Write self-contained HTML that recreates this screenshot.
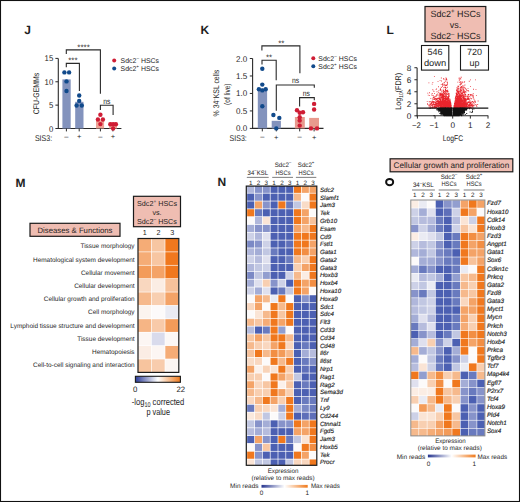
<!DOCTYPE html>
<html><head><meta charset="utf-8"><style>
html,body{margin:0;padding:0;background:#fff;}
svg{display:block;}
text{font-family:"Liberation Sans",sans-serif;text-rendering:geometricPrecision;fill:#1e1e1e;}
text.l{stroke:#1e1e1e;stroke-width:0.15px;}
</style></head><body>
<svg width="520" height="502" viewBox="0 0 520 502">
<rect x="0" y="0" width="520" height="502" fill="#fff"/>
<text x="24.2" y="33.9" font-size="12" font-weight="bold" fill="#111">J</text>
<line x1="58.3" y1="58.4" x2="58.3" y2="129" stroke="#2a2a2a" stroke-width="1.1"/>
<line x1="57.8" y1="128.5" x2="121.4" y2="128.5" stroke="#2a2a2a" stroke-width="1.1"/>
<line x1="55.4" y1="58.4" x2="58.3" y2="58.4" stroke="#2a2a2a" stroke-width="1"/>
<text x="53.2" y="61.4" font-size="8.4" text-anchor="end" textLength="8.6" lengthAdjust="spacingAndGlyphs">15</text>
<line x1="55.4" y1="81.77" x2="58.3" y2="81.77" stroke="#2a2a2a" stroke-width="1"/>
<text x="53.2" y="84.77" font-size="8.4" text-anchor="end" textLength="8.6" lengthAdjust="spacingAndGlyphs">10</text>
<line x1="55.4" y1="105.13" x2="58.3" y2="105.13" stroke="#2a2a2a" stroke-width="1"/>
<text x="53.2" y="108.13" font-size="8.4" text-anchor="end" textLength="4.3" lengthAdjust="spacingAndGlyphs">5</text>
<line x1="55.4" y1="128.5" x2="58.3" y2="128.5" stroke="#2a2a2a" stroke-width="1"/>
<text x="53.2" y="131.5" font-size="8.4" text-anchor="end" textLength="4.3" lengthAdjust="spacingAndGlyphs">0</text>
<rect x="62.4" y="79.4" width="8.3" height="49.1" fill="#8393bd"/>
<rect x="75.2" y="101.8" width="8.3" height="26.7" fill="#8393bd"/>
<rect x="96" y="120.3" width="8.1" height="8.2" fill="#eea395"/>
<rect x="109.2" y="122.5" width="7.8" height="6" fill="#eea395"/>
<line x1="66.4" y1="128.5" x2="66.4" y2="131.4" stroke="#2a2a2a" stroke-width="1"/>
<line x1="79.2" y1="128.5" x2="79.2" y2="131.4" stroke="#2a2a2a" stroke-width="1"/>
<line x1="100.4" y1="128.5" x2="100.4" y2="131.4" stroke="#2a2a2a" stroke-width="1"/>
<line x1="112.9" y1="128.5" x2="112.9" y2="131.4" stroke="#2a2a2a" stroke-width="1"/>
<circle cx="64.4" cy="72.4" r="2.2" fill="#114a8b"/>
<circle cx="69.1" cy="72.4" r="2.2" fill="#114a8b"/>
<circle cx="66.5" cy="81.4" r="2.2" fill="#114a8b"/>
<circle cx="66.5" cy="91" r="2.2" fill="#114a8b"/>
<circle cx="79.2" cy="95.5" r="2.2" fill="#114a8b"/>
<circle cx="79.2" cy="100.9" r="2.2" fill="#114a8b"/>
<circle cx="76.6" cy="105.5" r="2.2" fill="#114a8b"/>
<circle cx="81.8" cy="105.5" r="2.2" fill="#114a8b"/>
<circle cx="100.4" cy="114.7" r="2.2" fill="#cf1d35"/>
<circle cx="97.9" cy="119.5" r="2.2" fill="#cf1d35"/>
<circle cx="102.9" cy="119.5" r="2.2" fill="#cf1d35"/>
<circle cx="100.4" cy="124.1" r="2.2" fill="#cf1d35"/>
<circle cx="110.3" cy="124.3" r="2.2" fill="#cf1d35"/>
<circle cx="113.1" cy="124.3" r="2.2" fill="#cf1d35"/>
<circle cx="115.9" cy="124.3" r="2.2" fill="#cf1d35"/>
<circle cx="113.1" cy="128.5" r="2.2" fill="#cf1d35"/>
<polyline points="66.3,54.1 66.3,49.9 100.4,49.9 100.4,93.7" fill="none" stroke="#2a2a2a" stroke-width="1.1"/>
<polyline points="66.3,67.3 66.3,63.4 79.4,63.4 79.4,91" fill="none" stroke="#2a2a2a" stroke-width="1.1"/>
<polyline points="100.4,109.9 100.4,105.2 113.1,105.2 113.1,114.9" fill="none" stroke="#2a2a2a" stroke-width="1.1"/>
<text x="83.6" y="50.1" font-size="8" text-anchor="middle" fill="#222">****</text>
<text x="72.9" y="63.4" font-size="8" text-anchor="middle" fill="#222">***</text>
<text x="106.8" y="104" font-size="8" text-anchor="middle" textLength="7.2" lengthAdjust="spacingAndGlyphs">ns</text>
<text x="66.4" y="138.9" font-size="7.5" text-anchor="middle" fill="#555">–</text>
<text x="79.2" y="139.3" font-size="7.5" text-anchor="middle" fill="#555">+</text>
<text x="100.4" y="138.9" font-size="7.5" text-anchor="middle" fill="#555">–</text>
<text x="112.9" y="139.3" font-size="7.5" text-anchor="middle" fill="#555">+</text>
<text x="34.9" y="141.2" font-size="8.4" textLength="17.3" lengthAdjust="spacingAndGlyphs">SIS3:</text>
<text x="38.6" y="93.5" font-size="8.2" text-anchor="middle" textLength="41.5" lengthAdjust="spacingAndGlyphs" transform="rotate(-90 38.6 93.5)">CFU-GEMMs</text>
<circle cx="114.2" cy="60.5" r="2" fill="#cf1d35"/>
<circle cx="114.2" cy="68.6" r="2" fill="#114a8b"/>
<text x="120.6" y="62.7" font-size="6.8" textLength="38.4" lengthAdjust="spacingAndGlyphs">Sdc2<tspan font-size="4.5" dy="-2.6">–</tspan><tspan dy="2.6"> HSCs</tspan></text>
<text x="120.6" y="70.8" font-size="6.8" textLength="38.4" lengthAdjust="spacingAndGlyphs">Sdc2<tspan font-size="4.5" dy="-2.6">+</tspan><tspan dy="2.6"> HSCs</tspan></text>
<text x="200.5" y="33.8" font-size="12" font-weight="bold" fill="#111">K</text>
<line x1="252.6" y1="58.5" x2="252.6" y2="128.9" stroke="#2a2a2a" stroke-width="1.1"/>
<line x1="252.1" y1="128.4" x2="323.5" y2="128.4" stroke="#2a2a2a" stroke-width="1.1"/>
<line x1="249.8" y1="58.5" x2="252.6" y2="58.5" stroke="#2a2a2a" stroke-width="1"/>
<text x="247.2" y="61.5" font-size="8.4" text-anchor="end" textLength="11.2" lengthAdjust="spacingAndGlyphs">2.0</text>
<line x1="249.8" y1="75.97" x2="252.6" y2="75.97" stroke="#2a2a2a" stroke-width="1"/>
<text x="247.2" y="78.97" font-size="8.4" text-anchor="end" textLength="11.2" lengthAdjust="spacingAndGlyphs">1.5</text>
<line x1="249.8" y1="93.45" x2="252.6" y2="93.45" stroke="#2a2a2a" stroke-width="1"/>
<text x="247.2" y="96.45" font-size="8.4" text-anchor="end" textLength="11.2" lengthAdjust="spacingAndGlyphs">1.0</text>
<line x1="249.8" y1="110.93" x2="252.6" y2="110.93" stroke="#2a2a2a" stroke-width="1"/>
<text x="247.2" y="113.93" font-size="8.4" text-anchor="end" textLength="11.2" lengthAdjust="spacingAndGlyphs">0.5</text>
<line x1="249.8" y1="128.4" x2="252.6" y2="128.4" stroke="#2a2a2a" stroke-width="1"/>
<text x="247.2" y="131.4" font-size="8.4" text-anchor="end" textLength="11.2" lengthAdjust="spacingAndGlyphs">0.0</text>
<rect x="257.8" y="88.5" width="9.3" height="39.9" fill="#8393bd"/>
<rect x="271.7" y="120.8" width="9.2" height="7.6" fill="#8393bd"/>
<rect x="294.9" y="117" width="9.9" height="11.4" fill="#e89a8e"/>
<rect x="309.2" y="117.9" width="9.8" height="10.5" fill="#e89a8e"/>
<line x1="262.3" y1="128.4" x2="262.3" y2="131.4" stroke="#2a2a2a" stroke-width="1"/>
<line x1="276.3" y1="128.4" x2="276.3" y2="131.4" stroke="#2a2a2a" stroke-width="1"/>
<line x1="299.7" y1="128.4" x2="299.7" y2="131.4" stroke="#2a2a2a" stroke-width="1"/>
<line x1="314.1" y1="128.4" x2="314.1" y2="131.4" stroke="#2a2a2a" stroke-width="1"/>
<circle cx="262.3" cy="68.8" r="2.2" fill="#114a8b"/>
<circle cx="262.3" cy="84.6" r="2.2" fill="#114a8b"/>
<circle cx="258.9" cy="89.2" r="2.2" fill="#114a8b"/>
<circle cx="262.3" cy="90.4" r="2.2" fill="#114a8b"/>
<circle cx="265.7" cy="89.2" r="2.2" fill="#114a8b"/>
<circle cx="262.3" cy="106.2" r="2.2" fill="#114a8b"/>
<circle cx="273.4" cy="115" r="2.2" fill="#114a8b"/>
<circle cx="279.3" cy="117.9" r="2.2" fill="#114a8b"/>
<circle cx="276.3" cy="128.4" r="2.2" fill="#114a8b"/>
<circle cx="297" cy="110.3" r="2.2" fill="#cf1d35"/>
<circle cx="299.7" cy="112.7" r="2.2" fill="#cf1d35"/>
<circle cx="303" cy="112.2" r="2.2" fill="#cf1d35"/>
<circle cx="299.7" cy="117.3" r="2.2" fill="#cf1d35"/>
<circle cx="299.7" cy="120.6" r="2.2" fill="#cf1d35"/>
<circle cx="299.7" cy="125.6" r="2.2" fill="#cf1d35"/>
<circle cx="314.1" cy="103.9" r="2.2" fill="#cf1d35"/>
<circle cx="314.1" cy="109.5" r="2.2" fill="#cf1d35"/>
<circle cx="311" cy="128.4" r="2.2" fill="#cf1d35"/>
<circle cx="317" cy="128.4" r="2.2" fill="#cf1d35"/>
<polyline points="261.9,50.4 261.9,45.9 299.9,45.9 299.9,73.3" fill="none" stroke="#2a2a2a" stroke-width="1.1"/>
<polyline points="262,64.4 262,60.3 276.2,60.3 276.2,80.2" fill="none" stroke="#2a2a2a" stroke-width="1.1"/>
<polyline points="276.3,110.7 276.3,85 314.3,85 314.3,87.8" fill="none" stroke="#2a2a2a" stroke-width="1.1"/>
<polyline points="299.6,106.5 299.6,97.6 314.3,97.6 314.3,100.2" fill="none" stroke="#2a2a2a" stroke-width="1.1"/>
<text x="281.3" y="46.2" font-size="8" text-anchor="middle" fill="#222">**</text>
<text x="269" y="60.3" font-size="8" text-anchor="middle" fill="#222">**</text>
<text x="295.6" y="82.6" font-size="8" text-anchor="middle" textLength="7.2" lengthAdjust="spacingAndGlyphs">ns</text>
<text x="306.3" y="95.5" font-size="8" text-anchor="middle" textLength="7.2" lengthAdjust="spacingAndGlyphs">ns</text>
<text x="262.3" y="139.1" font-size="7.5" text-anchor="middle" fill="#555">–</text>
<text x="276.3" y="139.5" font-size="7.5" text-anchor="middle" fill="#555">+</text>
<text x="299.7" y="139.1" font-size="7.5" text-anchor="middle" fill="#555">–</text>
<text x="314.1" y="139.5" font-size="7.5" text-anchor="middle" fill="#555">+</text>
<text x="229.6" y="141.2" font-size="8.4" textLength="17.2" lengthAdjust="spacingAndGlyphs">SIS3:</text>
<text x="219.4" y="93.1" font-size="8.2" text-anchor="middle" textLength="46.6" lengthAdjust="spacingAndGlyphs" transform="rotate(-90 219.4 93.1)">% 34<tspan font-size="5" dy="-3">–</tspan><tspan dy="3">KSL cells</tspan></text>
<text x="229.8" y="94.2" font-size="8.2" text-anchor="middle" textLength="21.5" lengthAdjust="spacingAndGlyphs" transform="rotate(-90 229.8 94.2)">(of live)</text>
<circle cx="313.3" cy="58.3" r="2" fill="#cf1d35"/>
<circle cx="313.3" cy="66.3" r="2" fill="#114a8b"/>
<text x="318.3" y="60.6" font-size="6.8" textLength="38.6" lengthAdjust="spacingAndGlyphs">Sdc2<tspan font-size="4.5" dy="-2.6">–</tspan><tspan dy="2.6"> HSCs</tspan></text>
<text x="318.3" y="68.5" font-size="6.8" textLength="38.6" lengthAdjust="spacingAndGlyphs">Sdc2<tspan font-size="4.5" dy="-2.6">+</tspan><tspan dy="2.6"> HSCs</tspan></text>
<text x="386.6" y="33.6" font-size="12" font-weight="bold" fill="#111">L</text>
<rect x="425" y="6.5" width="60.8" height="35.2" fill="#efbdb2" stroke="#1a1a1a" stroke-width="1.2"/>
<text x="455.5" y="16.7" font-size="9" text-anchor="middle">Sdc2<tspan font-size="6" dy="-3.5">+</tspan><tspan dy="3.5"> HSCs</tspan></text>
<text x="455.5" y="27.9" font-size="9" text-anchor="middle">vs.</text>
<text x="455.5" y="39" font-size="9" text-anchor="middle">Sdc2<tspan font-size="6" dy="-3.5">–</tspan><tspan dy="3.5"> HSCs</tspan></text>
<rect x="421.5" y="45.5" width="27.3" height="24.6" fill="#fff" stroke="#1a1a1a" stroke-width="1.1"/>
<rect x="460.5" y="45.5" width="28" height="24.6" fill="#fff" stroke="#1a1a1a" stroke-width="1.1"/>
<text x="435.1" y="55" font-size="9" text-anchor="middle">546</text>
<text x="435.1" y="66.1" font-size="9" text-anchor="middle" textLength="22.3" lengthAdjust="spacingAndGlyphs">down</text>
<text x="474.5" y="55" font-size="9" text-anchor="middle">720</text>
<text x="474.5" y="66.1" font-size="9" text-anchor="middle">up</text>
<line x1="417.1" y1="67.7" x2="417.1" y2="116.3" stroke="#2a2a2a" stroke-width="1.1"/>
<line x1="416.6" y1="115.8" x2="488.3" y2="115.8" stroke="#2a2a2a" stroke-width="1.1"/>
<line x1="414.4" y1="115.8" x2="417.1" y2="115.8" stroke="#2a2a2a" stroke-width="1"/>
<text x="411.4" y="118.7" font-size="8.2" text-anchor="end">0</text>
<line x1="414.4" y1="103.78" x2="417.1" y2="103.78" stroke="#2a2a2a" stroke-width="1"/>
<text x="411.4" y="106.68" font-size="8.2" text-anchor="end">2</text>
<line x1="414.4" y1="91.76" x2="417.1" y2="91.76" stroke="#2a2a2a" stroke-width="1"/>
<text x="411.4" y="94.66" font-size="8.2" text-anchor="end">4</text>
<line x1="414.4" y1="79.74" x2="417.1" y2="79.74" stroke="#2a2a2a" stroke-width="1"/>
<text x="411.4" y="82.64" font-size="8.2" text-anchor="end">6</text>
<line x1="414.4" y1="67.72" x2="417.1" y2="67.72" stroke="#2a2a2a" stroke-width="1"/>
<text x="411.4" y="70.62" font-size="8.2" text-anchor="end">8</text>
<line x1="417.4" y1="115.8" x2="417.4" y2="118.6" stroke="#2a2a2a" stroke-width="1"/>
<text x="416.4" y="128.2" font-size="8.2" text-anchor="middle" textLength="8.9" lengthAdjust="spacingAndGlyphs">−2</text>
<line x1="435.05" y1="115.8" x2="435.05" y2="118.6" stroke="#2a2a2a" stroke-width="1"/>
<text x="434.05" y="128.2" font-size="8.2" text-anchor="middle" textLength="8.9" lengthAdjust="spacingAndGlyphs">−1</text>
<line x1="452.7" y1="115.8" x2="452.7" y2="118.6" stroke="#2a2a2a" stroke-width="1"/>
<text x="452.7" y="128.2" font-size="8.2" text-anchor="middle">0</text>
<line x1="470.35" y1="115.8" x2="470.35" y2="118.6" stroke="#2a2a2a" stroke-width="1"/>
<text x="470.35" y="128.2" font-size="8.2" text-anchor="middle">1</text>
<line x1="488" y1="115.8" x2="488" y2="118.6" stroke="#2a2a2a" stroke-width="1"/>
<text x="488" y="128.2" font-size="8.2" text-anchor="middle">2</text>
<text x="452.9" y="141" font-size="8.2" text-anchor="middle" textLength="20.4" lengthAdjust="spacingAndGlyphs">LogFC</text>
<text x="400.6" y="91.3" font-size="8.2" text-anchor="middle" textLength="37" lengthAdjust="spacingAndGlyphs" transform="rotate(-90 400.6 91.3)">Log<tspan font-size="5.5" dy="2">10</tspan><tspan dy="-2">(FDR)</tspan></text>
<path d="M440.59 101.62h.85v.85h-.85zM436.52 103.87h.85v.85h-.85zM433.36 96.63h.85v.85h-.85zM440.61 97.09h.85v.85h-.85zM444.25 84.44h.85v.85h-.85zM442.24 102.49h.85v.85h-.85zM434.45 106.58h.85v.85h-.85zM448.02 106.74h.85v.85h-.85zM446.95 105.92h.85v.85h-.85zM440.03 102.58h.85v.85h-.85zM447.79 103.96h.85v.85h-.85zM440.38 101.6h.85v.85h-.85zM438.23 104.55h.85v.85h-.85zM445.28 98.23h.85v.85h-.85zM449.96 105.42h.85v.85h-.85zM440.29 104.17h.85v.85h-.85zM447.14 99.08h.85v.85h-.85zM442.02 97.23h.85v.85h-.85zM440.43 92.96h.85v.85h-.85zM442.82 89.42h.85v.85h-.85zM443.75 106.5h.85v.85h-.85zM447 98.29h.85v.85h-.85zM447.39 103.9h.85v.85h-.85zM443.91 96.19h.85v.85h-.85zM441.33 105.86h.85v.85h-.85zM446.25 105.49h.85v.85h-.85zM433.17 103.71h.85v.85h-.85zM439.84 107.2h.85v.85h-.85zM442.15 97.43h.85v.85h-.85zM446.78 101.26h.85v.85h-.85zM441.21 97.91h.85v.85h-.85zM440.35 99.16h.85v.85h-.85zM440.61 93.76h.85v.85h-.85zM432.85 103.26h.85v.85h-.85zM447.67 103.45h.85v.85h-.85zM449.04 100.86h.85v.85h-.85zM448.34 97.14h.85v.85h-.85zM442.4 83.04h.85v.85h-.85zM443.82 102.48h.85v.85h-.85zM443.1 101.24h.85v.85h-.85zM435.43 105.21h.85v.85h-.85zM447.15 100.5h.85v.85h-.85zM448.22 100.1h.85v.85h-.85zM448.63 97.99h.85v.85h-.85zM445.12 103.72h.85v.85h-.85zM440.06 106.31h.85v.85h-.85zM441.67 107.31h.85v.85h-.85zM448.86 95.41h.85v.85h-.85zM436.31 105.31h.85v.85h-.85zM436.56 91.29h.85v.85h-.85zM448.2 94.75h.85v.85h-.85zM450.91 105.54h.85v.85h-.85zM440.96 97.45h.85v.85h-.85zM446.63 90.37h.85v.85h-.85zM450.53 103.35h.85v.85h-.85zM442.17 103.41h.85v.85h-.85zM436.55 94.74h.85v.85h-.85zM444.82 106.29h.85v.85h-.85zM447.8 98.4h.85v.85h-.85zM449.09 100.81h.85v.85h-.85zM440.1 103.01h.85v.85h-.85zM436.14 107.37h.85v.85h-.85zM445.35 106.58h.85v.85h-.85zM432.92 101.33h.85v.85h-.85zM444.42 100.12h.85v.85h-.85zM441 102.18h.85v.85h-.85zM446.38 89.9h.85v.85h-.85zM442.02 97.33h.85v.85h-.85zM439.36 97.64h.85v.85h-.85zM443 97.39h.85v.85h-.85zM445.66 87.8h.85v.85h-.85zM440.33 99.66h.85v.85h-.85zM442.43 95.42h.85v.85h-.85zM436.48 95.06h.85v.85h-.85zM446.08 103.68h.85v.85h-.85zM443.82 102.68h.85v.85h-.85zM450.6 105.41h.85v.85h-.85zM445.78 96.72h.85v.85h-.85zM449.57 106.45h.85v.85h-.85zM446.56 91.25h.85v.85h-.85zM440.85 93.81h.85v.85h-.85zM445.41 102.14h.85v.85h-.85zM447.13 104.02h.85v.85h-.85zM446.9 101.5h.85v.85h-.85zM444.65 98.48h.85v.85h-.85zM448.14 99.66h.85v.85h-.85zM438.68 99.69h.85v.85h-.85zM443.72 102.72h.85v.85h-.85zM446.43 94.18h.85v.85h-.85zM447.04 100.38h.85v.85h-.85zM447.61 106.47h.85v.85h-.85zM448.13 106.38h.85v.85h-.85zM449.34 103.77h.85v.85h-.85zM442.75 102.58h.85v.85h-.85zM441.18 107.43h.85v.85h-.85zM439.07 103.41h.85v.85h-.85zM440.1 93.66h.85v.85h-.85zM432.17 98.53h.85v.85h-.85zM440.01 100.48h.85v.85h-.85zM445.04 107.35h.85v.85h-.85zM440.47 107.3h.85v.85h-.85zM445.25 89.57h.85v.85h-.85zM449.46 103.2h.85v.85h-.85zM441.19 104.61h.85v.85h-.85zM444.28 105.87h.85v.85h-.85zM434.69 98.29h.85v.85h-.85zM441.43 96.47h.85v.85h-.85zM443.3 107.33h.85v.85h-.85zM445.08 100.3h.85v.85h-.85zM446.66 98.33h.85v.85h-.85zM439.2 101h.85v.85h-.85zM449.49 100.19h.85v.85h-.85zM436.56 98.51h.85v.85h-.85zM429.18 95.02h.85v.85h-.85zM442.36 96.2h.85v.85h-.85zM440.43 99.91h.85v.85h-.85zM437.31 102.54h.85v.85h-.85zM444.65 100.75h.85v.85h-.85zM437.61 101.25h.85v.85h-.85zM441.66 106.2h.85v.85h-.85zM448.63 101.75h.85v.85h-.85zM443.01 104.72h.85v.85h-.85zM449.07 104.21h.85v.85h-.85zM444.69 106.92h.85v.85h-.85zM447.78 104.18h.85v.85h-.85zM444.03 105.37h.85v.85h-.85zM443.03 100.6h.85v.85h-.85zM433.29 90.73h.85v.85h-.85zM432.92 98.42h.85v.85h-.85zM440.9 101.81h.85v.85h-.85zM435.21 106.96h.85v.85h-.85zM440.78 104.49h.85v.85h-.85zM438.36 100.92h.85v.85h-.85zM448.62 105.8h.85v.85h-.85zM443.32 99.58h.85v.85h-.85zM439.64 98.02h.85v.85h-.85zM442.39 102.6h.85v.85h-.85zM447.22 99.63h.85v.85h-.85zM438.76 102.75h.85v.85h-.85zM447.53 104.32h.85v.85h-.85zM448.53 103.62h.85v.85h-.85zM440.51 106.8h.85v.85h-.85zM444.01 99.76h.85v.85h-.85zM440.2 105.08h.85v.85h-.85zM450.38 104.02h.85v.85h-.85zM432.45 103.94h.85v.85h-.85zM443.93 106.74h.85v.85h-.85zM438.19 101.2h.85v.85h-.85zM433.87 105.7h.85v.85h-.85zM443.93 102.42h.85v.85h-.85zM443.51 107.22h.85v.85h-.85zM442.01 98.98h.85v.85h-.85zM447.42 104.22h.85v.85h-.85zM447.95 105.71h.85v.85h-.85zM444.22 100.84h.85v.85h-.85zM443.36 103.47h.85v.85h-.85zM442.85 105.6h.85v.85h-.85zM443.69 99.99h.85v.85h-.85zM450.29 106.25h.85v.85h-.85zM446.62 80.64h.85v.85h-.85zM440.88 94.05h.85v.85h-.85zM441.47 102.16h.85v.85h-.85zM443.27 98.73h.85v.85h-.85zM431.01 106.96h.85v.85h-.85zM438.56 102.9h.85v.85h-.85zM445.43 91.25h.85v.85h-.85zM445.03 105.42h.85v.85h-.85zM438.36 104.25h.85v.85h-.85zM440.68 106.52h.85v.85h-.85zM445.87 102.26h.85v.85h-.85zM438.59 104.21h.85v.85h-.85zM450.4 105.49h.85v.85h-.85zM447.26 107.43h.85v.85h-.85zM439.94 88.36h.85v.85h-.85zM442.55 94.56h.85v.85h-.85zM445.02 97.17h.85v.85h-.85zM439.62 92.62h.85v.85h-.85zM442.3 101.99h.85v.85h-.85zM440.99 105.08h.85v.85h-.85zM448.9 102.36h.85v.85h-.85zM444 105.33h.85v.85h-.85zM446.75 97.47h.85v.85h-.85zM446.09 96.21h.85v.85h-.85zM445.89 107.1h.85v.85h-.85zM443.68 101.32h.85v.85h-.85zM446.29 104.74h.85v.85h-.85zM434.63 104.54h.85v.85h-.85zM447.09 99.5h.85v.85h-.85zM439.01 99.64h.85v.85h-.85zM433.84 105.35h.85v.85h-.85zM440.16 97.44h.85v.85h-.85zM449.06 101.36h.85v.85h-.85zM442.66 93.01h.85v.85h-.85zM442.44 101.54h.85v.85h-.85zM444.65 104.09h.85v.85h-.85zM448.57 106.69h.85v.85h-.85zM448.07 102.31h.85v.85h-.85zM447.42 99.72h.85v.85h-.85zM444.2 107.22h.85v.85h-.85zM446.48 98.17h.85v.85h-.85zM441.96 106.66h.85v.85h-.85zM439.73 102.95h.85v.85h-.85zM434.36 97.65h.85v.85h-.85zM438.54 101.32h.85v.85h-.85zM441.59 106.14h.85v.85h-.85zM434.56 106.4h.85v.85h-.85zM448.27 99.43h.85v.85h-.85zM441.19 86.9h.85v.85h-.85zM433.19 97h.85v.85h-.85zM439.44 100.93h.85v.85h-.85zM445.53 102.58h.85v.85h-.85zM434.06 101.65h.85v.85h-.85zM436.77 101.03h.85v.85h-.85zM440.54 107.49h.85v.85h-.85zM441.21 103.72h.85v.85h-.85zM443.58 102.08h.85v.85h-.85zM444.82 89.59h.85v.85h-.85zM435.45 107.24h.85v.85h-.85zM435.2 95.66h.85v.85h-.85zM439 103.65h.85v.85h-.85zM447.53 99.38h.85v.85h-.85zM447.62 107.11h.85v.85h-.85zM445.65 106.21h.85v.85h-.85zM444.7 103.24h.85v.85h-.85zM439.95 98.78h.85v.85h-.85zM442.72 94.03h.85v.85h-.85zM450.2 103.83h.85v.85h-.85zM436.93 105.69h.85v.85h-.85zM445.84 105.15h.85v.85h-.85zM445.83 103.04h.85v.85h-.85zM442.23 99.92h.85v.85h-.85zM439.97 104.11h.85v.85h-.85zM442.97 98.06h.85v.85h-.85zM441.38 101.61h.85v.85h-.85zM449.38 104.76h.85v.85h-.85zM449.86 103.79h.85v.85h-.85zM444.23 82.38h.85v.85h-.85zM431.14 103.18h.85v.85h-.85zM435.13 105.88h.85v.85h-.85zM426.79 100.92h.85v.85h-.85zM439.63 80.17h.85v.85h-.85zM446.26 106.64h.85v.85h-.85zM443.93 95.84h.85v.85h-.85zM447.29 101.13h.85v.85h-.85zM446.48 104.49h.85v.85h-.85zM441.24 95.87h.85v.85h-.85zM437.76 102.94h.85v.85h-.85zM434.04 104.08h.85v.85h-.85zM441.48 105.07h.85v.85h-.85zM444.41 105.22h.85v.85h-.85zM440.76 102.91h.85v.85h-.85zM444.58 106.87h.85v.85h-.85zM448.7 103.79h.85v.85h-.85zM438.3 98.24h.85v.85h-.85zM445.79 106.84h.85v.85h-.85zM445.64 96.67h.85v.85h-.85zM444.8 103.69h.85v.85h-.85zM437 104.75h.85v.85h-.85zM438.33 104.06h.85v.85h-.85zM444.91 99.4h.85v.85h-.85zM443.79 106.39h.85v.85h-.85zM444.93 104.73h.85v.85h-.85zM449.28 100.65h.85v.85h-.85zM440.06 88.85h.85v.85h-.85zM450.14 104.62h.85v.85h-.85zM447.3 96.14h.85v.85h-.85zM441.45 97.65h.85v.85h-.85zM445.92 100.88h.85v.85h-.85zM443.09 95.04h.85v.85h-.85zM440.34 104.04h.85v.85h-.85zM439.98 107.05h.85v.85h-.85zM449.84 103.55h.85v.85h-.85zM446.77 102.26h.85v.85h-.85zM435.74 99.5h.85v.85h-.85zM448.77 105.7h.85v.85h-.85zM440.37 96.84h.85v.85h-.85zM437.57 106.61h.85v.85h-.85zM443.7 92.56h.85v.85h-.85zM449.07 101.23h.85v.85h-.85zM445.55 98.67h.85v.85h-.85zM440.13 104.45h.85v.85h-.85zM447.81 103.71h.85v.85h-.85zM447.53 102.86h.85v.85h-.85zM445.12 96.08h.85v.85h-.85zM450.43 103.35h.85v.85h-.85zM445.76 98.8h.85v.85h-.85zM445.9 104.53h.85v.85h-.85zM445.38 99.21h.85v.85h-.85zM446.19 104.06h.85v.85h-.85zM440.54 103.91h.85v.85h-.85zM441.57 99.92h.85v.85h-.85zM450.27 105.39h.85v.85h-.85zM446.95 86.85h.85v.85h-.85zM449.01 104.92h.85v.85h-.85zM447.48 104.87h.85v.85h-.85zM442.15 85.92h.85v.85h-.85zM440.89 77.54h.85v.85h-.85zM449.55 98.79h.85v.85h-.85zM444.17 96.15h.85v.85h-.85zM437.95 103.09h.85v.85h-.85zM445.32 104.32h.85v.85h-.85zM445.15 100.71h.85v.85h-.85zM440.52 89.57h.85v.85h-.85zM442.65 84.95h.85v.85h-.85zM446.16 78.01h.85v.85h-.85zM435.35 100.37h.85v.85h-.85zM445.69 99.32h.85v.85h-.85zM441.57 101.41h.85v.85h-.85zM436.7 98.93h.85v.85h-.85zM431.96 106.26h.85v.85h-.85zM440.58 107.07h.85v.85h-.85zM432.31 104.43h.85v.85h-.85zM442 94.1h.85v.85h-.85zM448.39 105.29h.85v.85h-.85zM438.18 97.5h.85v.85h-.85zM449.43 100.06h.85v.85h-.85zM447.57 98.54h.85v.85h-.85zM449.42 104.68h.85v.85h-.85zM444.26 106.84h.85v.85h-.85zM438.6 106.13h.85v.85h-.85zM443.8 105.71h.85v.85h-.85zM450.82 105.21h.85v.85h-.85zM443.43 102.75h.85v.85h-.85zM445.7 89.9h.85v.85h-.85zM439.17 98.95h.85v.85h-.85zM448.99 105.91h.85v.85h-.85zM437.46 105.24h.85v.85h-.85zM446.55 105.26h.85v.85h-.85zM447.53 97.18h.85v.85h-.85zM446.12 103.68h.85v.85h-.85zM446.17 90.02h.85v.85h-.85zM446.24 99.07h.85v.85h-.85zM444.86 102.92h.85v.85h-.85zM441.56 106.04h.85v.85h-.85zM436.14 95.75h.85v.85h-.85zM443.09 101.18h.85v.85h-.85zM446.42 98.13h.85v.85h-.85zM435.25 102.52h.85v.85h-.85zM442.23 105.72h.85v.85h-.85zM439.47 107.41h.85v.85h-.85zM448.63 106.69h.85v.85h-.85zM449.94 103.45h.85v.85h-.85zM435.11 98.23h.85v.85h-.85zM441.72 97.8h.85v.85h-.85zM448.41 104.56h.85v.85h-.85zM438.43 102.17h.85v.85h-.85zM441.51 96.95h.85v.85h-.85zM444.38 97.95h.85v.85h-.85zM448.83 103.01h.85v.85h-.85zM448 97.02h.85v.85h-.85zM446.67 102.82h.85v.85h-.85zM431.99 101.23h.85v.85h-.85zM436.31 103.57h.85v.85h-.85zM430.94 102.15h.85v.85h-.85zM440.68 102.32h.85v.85h-.85zM446.63 90.39h.85v.85h-.85zM432.48 95.27h.85v.85h-.85zM442.16 103.79h.85v.85h-.85zM431.78 83.75h.85v.85h-.85zM442.1 104.33h.85v.85h-.85zM429.09 101.44h.85v.85h-.85zM437.64 102.8h.85v.85h-.85zM442.84 106.04h.85v.85h-.85zM443.5 96.82h.85v.85h-.85zM439.09 94.28h.85v.85h-.85zM444.5 102.08h.85v.85h-.85zM450.23 105.41h.85v.85h-.85zM448.56 106.46h.85v.85h-.85zM440.88 103.17h.85v.85h-.85zM443.29 105.47h.85v.85h-.85zM442.49 84.57h.85v.85h-.85zM438.11 102.19h.85v.85h-.85zM444.23 103.37h.85v.85h-.85zM434.64 107.32h.85v.85h-.85zM430.45 103.96h.85v.85h-.85zM445.91 99.47h.85v.85h-.85zM444.08 95.88h.85v.85h-.85zM442.32 106.84h.85v.85h-.85zM448.66 105.54h.85v.85h-.85zM436.93 104.85h.85v.85h-.85zM449.75 107.08h.85v.85h-.85zM445.87 101.74h.85v.85h-.85zM445.78 104.81h.85v.85h-.85zM436.3 106.38h.85v.85h-.85zM447.07 89.73h.85v.85h-.85zM446.92 91.12h.85v.85h-.85zM449.96 105.74h.85v.85h-.85zM441.57 106.57h.85v.85h-.85zM443.35 95.82h.85v.85h-.85zM444.17 93.68h.85v.85h-.85zM446.76 102.53h.85v.85h-.85zM434.07 93.25h.85v.85h-.85zM445.4 95.6h.85v.85h-.85zM432.59 107.36h.85v.85h-.85zM447.18 82.76h.85v.85h-.85zM448.73 104.24h.85v.85h-.85zM442.64 102.12h.85v.85h-.85zM430.47 107.36h.85v.85h-.85zM441.83 103.25h.85v.85h-.85zM439.76 105.93h.85v.85h-.85zM438.06 105.88h.85v.85h-.85zM444.62 104.93h.85v.85h-.85zM433.95 76.16h.85v.85h-.85zM429.99 105.97h.85v.85h-.85zM440.12 100.17h.85v.85h-.85zM448.67 102.28h.85v.85h-.85zM441.45 107.63h.85v.85h-.85zM440.23 106.87h.85v.85h-.85zM443.86 100.84h.85v.85h-.85zM448.13 98.06h.85v.85h-.85zM447.49 93.49h.85v.85h-.85zM434.12 106.48h.85v.85h-.85zM444.45 101.81h.85v.85h-.85zM440.27 107.57h.85v.85h-.85zM448.96 104.16h.85v.85h-.85zM440.96 93.55h.85v.85h-.85zM446.56 105.85h.85v.85h-.85zM447.53 103.86h.85v.85h-.85zM446.41 85.09h.85v.85h-.85zM441.35 104.05h.85v.85h-.85zM435.58 104.28h.85v.85h-.85zM447.27 101.45h.85v.85h-.85zM439.74 101.82h.85v.85h-.85zM449.47 106.51h.85v.85h-.85zM436.88 105.6h.85v.85h-.85zM440.78 83.93h.85v.85h-.85zM450.51 107.15h.85v.85h-.85zM441.39 92.39h.85v.85h-.85zM445.92 98.03h.85v.85h-.85zM440.39 103.05h.85v.85h-.85zM434.14 99.14h.85v.85h-.85zM444.14 100.34h.85v.85h-.85zM437.15 106h.85v.85h-.85zM433.34 101.59h.85v.85h-.85zM443.74 100.22h.85v.85h-.85zM444.35 103.97h.85v.85h-.85zM447.28 97.86h.85v.85h-.85zM443.66 100.81h.85v.85h-.85zM442.99 90.01h.85v.85h-.85zM441.54 99.38h.85v.85h-.85zM435.34 105.52h.85v.85h-.85zM443.2 101.69h.85v.85h-.85zM447.7 106.11h.85v.85h-.85zM440.09 104.28h.85v.85h-.85zM444.19 101.88h.85v.85h-.85zM443.37 103.45h.85v.85h-.85zM445.72 104.37h.85v.85h-.85zM447.79 99.37h.85v.85h-.85zM447.17 103.72h.85v.85h-.85zM436.19 101.05h.85v.85h-.85zM440.94 104.65h.85v.85h-.85zM445.35 92.17h.85v.85h-.85zM447.66 106.44h.85v.85h-.85zM443.2 101.72h.85v.85h-.85zM445.72 94.67h.85v.85h-.85zM444.51 87.18h.85v.85h-.85zM442.41 96.46h.85v.85h-.85zM446.47 101.08h.85v.85h-.85zM434.11 98.4h.85v.85h-.85zM435.78 103.94h.85v.85h-.85zM444.27 104.89h.85v.85h-.85zM450.72 106.92h.85v.85h-.85zM439.86 100.55h.85v.85h-.85zM442.55 101.48h.85v.85h-.85zM443.23 78.02h.85v.85h-.85zM447.8 106.24h.85v.85h-.85zM439.8 104.67h.85v.85h-.85zM444.42 102.02h.85v.85h-.85zM442.91 101.68h.85v.85h-.85zM439.56 107.43h.85v.85h-.85zM450.87 107.29h.85v.85h-.85zM446.93 100.63h.85v.85h-.85zM442.11 106.76h.85v.85h-.85zM447.91 99.18h.85v.85h-.85zM443.05 105.07h.85v.85h-.85zM430.19 101.37h.85v.85h-.85zM440.69 102.45h.85v.85h-.85zM447.74 105.38h.85v.85h-.85zM448.7 105.59h.85v.85h-.85zM440.27 94.55h.85v.85h-.85zM446.31 102.12h.85v.85h-.85zM434.86 104.28h.85v.85h-.85zM438.03 103.52h.85v.85h-.85zM439.36 105.34h.85v.85h-.85zM439.65 89.85h.85v.85h-.85zM441.05 101.97h.85v.85h-.85zM447.68 101.78h.85v.85h-.85zM444.39 104.09h.85v.85h-.85zM443.67 101.9h.85v.85h-.85zM441.2 100.92h.85v.85h-.85zM445.76 101.18h.85v.85h-.85zM449.58 102.56h.85v.85h-.85zM443.09 96.42h.85v.85h-.85zM445.21 105.17h.85v.85h-.85zM447.93 105.36h.85v.85h-.85zM450.5 105.29h.85v.85h-.85zM435.58 102.12h.85v.85h-.85zM441.8 98.32h.85v.85h-.85zM441.13 107.01h.85v.85h-.85zM439.04 103.65h.85v.85h-.85zM444.97 99.23h.85v.85h-.85zM441.37 101.73h.85v.85h-.85zM439.74 99.43h.85v.85h-.85zM431.75 93.09h.85v.85h-.85zM431.73 104.16h.85v.85h-.85zM441.61 99.8h.85v.85h-.85zM440.95 101.05h.85v.85h-.85zM438.05 98.49h.85v.85h-.85zM434.14 96.73h.85v.85h-.85zM429.68 107.47h.85v.85h-.85zM439.98 107.21h.85v.85h-.85zM445.56 106.37h.85v.85h-.85zM447.08 101.97h.85v.85h-.85zM447.69 102.5h.85v.85h-.85zM447.22 106.55h.85v.85h-.85zM440.47 107.36h.85v.85h-.85zM441.53 105.45h.85v.85h-.85zM439.3 105.39h.85v.85h-.85zM447.69 107.16h.85v.85h-.85zM447.76 104.74h.85v.85h-.85zM434.26 107.52h.85v.85h-.85zM448.79 101.69h.85v.85h-.85zM443.85 92.78h.85v.85h-.85zM445.35 100.76h.85v.85h-.85zM443.67 95.2h.85v.85h-.85zM434.56 103.92h.85v.85h-.85zM431 102.55h.85v.85h-.85zM443.04 97.86h.85v.85h-.85zM439.38 101.93h.85v.85h-.85zM433.38 101h.85v.85h-.85zM447.17 97.91h.85v.85h-.85zM437.37 93.58h.85v.85h-.85zM433 95.42h.85v.85h-.85zM445.33 93.01h.85v.85h-.85zM437.7 105.27h.85v.85h-.85zM440.02 103.73h.85v.85h-.85zM447.38 97.3h.85v.85h-.85zM445.36 97.93h.85v.85h-.85zM450.1 104.32h.85v.85h-.85zM446.44 106.35h.85v.85h-.85zM438.57 103.24h.85v.85h-.85zM440.09 98.84h.85v.85h-.85zM440.42 104.04h.85v.85h-.85zM437.89 105.36h.85v.85h-.85zM431.83 100.54h.85v.85h-.85zM445.81 103.23h.85v.85h-.85zM439.12 93h.85v.85h-.85zM437.59 81.23h.85v.85h-.85zM443.55 90.83h.85v.85h-.85zM438.58 103.25h.85v.85h-.85zM445.03 101.12h.85v.85h-.85zM447.42 98.92h.85v.85h-.85zM449.65 104.48h.85v.85h-.85zM445.51 77.61h.85v.85h-.85zM436.89 103.75h.85v.85h-.85zM440.6 94.2h.85v.85h-.85zM439.58 101.43h.85v.85h-.85zM435.32 100.75h.85v.85h-.85zM432.83 102.37h.85v.85h-.85zM449.84 102.01h.85v.85h-.85zM449.01 102.32h.85v.85h-.85zM436.04 99.49h.85v.85h-.85zM437.14 103.69h.85v.85h-.85zM443.98 104.28h.85v.85h-.85zM435.68 98.62h.85v.85h-.85zM439.08 97.37h.85v.85h-.85zM448.97 101.34h.85v.85h-.85zM447.83 107.14h.85v.85h-.85zM434.75 97.64h.85v.85h-.85zM434.5 106.08h.85v.85h-.85zM442.77 106.09h.85v.85h-.85zM440.31 105.12h.85v.85h-.85zM442.89 91.46h.85v.85h-.85zM435.14 107.19h.85v.85h-.85zM449.36 103.65h.85v.85h-.85zM447.77 106.11h.85v.85h-.85zM437.45 100.07h.85v.85h-.85zM449.2 105.26h.85v.85h-.85zM440.62 104.96h.85v.85h-.85zM444.3 103.65h.85v.85h-.85zM441.09 103.63h.85v.85h-.85zM437.83 102.83h.85v.85h-.85zM447.71 91.19h.85v.85h-.85zM445.49 95.2h.85v.85h-.85zM444.22 104.28h.85v.85h-.85zM443.41 97.22h.85v.85h-.85zM447.52 102.95h.85v.85h-.85zM449.42 105.97h.85v.85h-.85zM447.82 100.02h.85v.85h-.85zM443.02 102.34h.85v.85h-.85zM438.71 101.43h.85v.85h-.85zM432.82 102.81h.85v.85h-.85zM442.64 99.01h.85v.85h-.85zM449.65 99.52h.85v.85h-.85zM445.43 104.04h.85v.85h-.85zM443.78 99.78h.85v.85h-.85zM441.99 95.07h.85v.85h-.85zM442.87 106.33h.85v.85h-.85zM441.18 104.17h.85v.85h-.85zM448.4 105.06h.85v.85h-.85zM443.21 103.29h.85v.85h-.85zM437.95 90.41h.85v.85h-.85zM441.59 106.48h.85v.85h-.85zM440.72 105.66h.85v.85h-.85zM432.99 101.8h.85v.85h-.85zM443.09 104.72h.85v.85h-.85zM440.81 102.77h.85v.85h-.85zM442.8 99.04h.85v.85h-.85zM447.55 105.01h.85v.85h-.85zM440.58 105.9h.85v.85h-.85zM445.37 102.67h.85v.85h-.85zM441.99 83.91h.85v.85h-.85zM446.21 100.61h.85v.85h-.85zM446.39 105.16h.85v.85h-.85zM444.94 104.41h.85v.85h-.85zM438.5 104.66h.85v.85h-.85zM445.86 95.25h.85v.85h-.85zM441.34 90.84h.85v.85h-.85zM447.26 99.62h.85v.85h-.85zM441.54 91h.85v.85h-.85zM444.02 98.37h.85v.85h-.85zM444.94 104.3h.85v.85h-.85zM443.17 106.78h.85v.85h-.85zM439.75 104.24h.85v.85h-.85zM444.84 80.94h.85v.85h-.85zM437.96 100.34h.85v.85h-.85zM441.92 93.02h.85v.85h-.85zM436.24 105.74h.85v.85h-.85zM442.44 107.38h.85v.85h-.85zM441.28 96.74h.85v.85h-.85zM446.65 102.85h.85v.85h-.85zM439.17 103.02h.85v.85h-.85zM442.17 97.99h.85v.85h-.85zM443.54 92.41h.85v.85h-.85zM443.58 102.78h.85v.85h-.85zM449.74 104.6h.85v.85h-.85zM443.44 90.99h.85v.85h-.85zM445.08 102.1h.85v.85h-.85zM443.43 96.66h.85v.85h-.85zM444.07 92.77h.85v.85h-.85zM449.95 101.45h.85v.85h-.85zM449.45 99.04h.85v.85h-.85zM440.8 94.97h.85v.85h-.85zM438.83 101.25h.85v.85h-.85zM446.83 104.06h.85v.85h-.85zM447.41 106.08h.85v.85h-.85zM447.71 104.49h.85v.85h-.85zM437.81 103.79h.85v.85h-.85zM441.71 103.65h.85v.85h-.85zM447.96 102.01h.85v.85h-.85zM447.87 100.57h.85v.85h-.85zM445.64 100.38h.85v.85h-.85zM434.81 106.09h.85v.85h-.85zM440.6 102.87h.85v.85h-.85zM441.89 104.75h.85v.85h-.85zM442.77 97.49h.85v.85h-.85zM445.34 87.05h.85v.85h-.85zM437.95 103.92h.85v.85h-.85zM427.05 103.97h.85v.85h-.85zM442.66 99.21h.85v.85h-.85zM440.17 95.53h.85v.85h-.85zM445.99 104.27h.85v.85h-.85zM439.98 99.33h.85v.85h-.85zM441.78 102.27h.85v.85h-.85zM447.65 100.7h.85v.85h-.85zM440.18 105.78h.85v.85h-.85zM446.49 99.14h.85v.85h-.85zM442.65 107.28h.85v.85h-.85zM434.67 105.92h.85v.85h-.85zM439.62 106.69h.85v.85h-.85zM448.9 105.02h.85v.85h-.85zM440.02 100.79h.85v.85h-.85zM440.74 101.41h.85v.85h-.85zM444.44 104.44h.85v.85h-.85zM448.31 99.25h.85v.85h-.85zM433.59 105.51h.85v.85h-.85zM443.55 100.28h.85v.85h-.85zM449.98 104.28h.85v.85h-.85zM443.6 94.92h.85v.85h-.85zM431.81 105.07h.85v.85h-.85zM444.62 103.66h.85v.85h-.85zM441.41 95.16h.85v.85h-.85zM445.62 107.31h.85v.85h-.85zM436.56 104.97h.85v.85h-.85zM438.03 102.88h.85v.85h-.85zM438.14 86.33h.85v.85h-.85zM447.51 106.95h.85v.85h-.85zM448.42 105.18h.85v.85h-.85zM444.21 104.91h.85v.85h-.85zM443.91 96.17h.85v.85h-.85zM435.86 104.27h.85v.85h-.85zM450.21 105.4h.85v.85h-.85zM446.61 100.81h.85v.85h-.85zM440.62 99.43h.85v.85h-.85zM448.36 103.51h.85v.85h-.85zM448.02 103.15h.85v.85h-.85zM446.42 84.32h.85v.85h-.85zM428.03 104.68h.85v.85h-.85zM432.76 101.86h.85v.85h-.85zM435.07 104.07h.85v.85h-.85zM443.35 101.08h.85v.85h-.85zM446.94 100.81h.85v.85h-.85zM444.23 104.36h.85v.85h-.85zM448.24 106.1h.85v.85h-.85zM443.33 103.98h.85v.85h-.85zM445.72 84.89h.85v.85h-.85zM443.52 99.89h.85v.85h-.85zM446.4 97.72h.85v.85h-.85zM445.06 97.73h.85v.85h-.85zM450.09 103.24h.85v.85h-.85zM441.18 80.59h.85v.85h-.85zM444.36 103.1h.85v.85h-.85zM443.56 105.74h.85v.85h-.85zM439.56 104.72h.85v.85h-.85zM446.03 104.74h.85v.85h-.85zM449.5 106.05h.85v.85h-.85zM446.74 92.35h.85v.85h-.85zM440.98 105.17h.85v.85h-.85zM447.74 104.88h.85v.85h-.85zM444.52 107.22h.85v.85h-.85zM442.57 100.28h.85v.85h-.85zM443.48 95.11h.85v.85h-.85zM434.51 96.27h.85v.85h-.85zM449.34 99.32h.85v.85h-.85zM445.32 97.19h.85v.85h-.85zM447.31 99.71h.85v.85h-.85zM443.93 100.57h.85v.85h-.85zM444.92 101.02h.85v.85h-.85zM448.07 93.44h.85v.85h-.85zM445.69 104.58h.85v.85h-.85zM447.31 106.43h.85v.85h-.85zM440.16 106.79h.85v.85h-.85zM442.03 96.19h.85v.85h-.85zM442.54 105.25h.85v.85h-.85zM432.14 106.57h.85v.85h-.85zM449.66 103.96h.85v.85h-.85zM449.98 100.74h.85v.85h-.85zM434.84 102.25h.85v.85h-.85zM443.22 107h.85v.85h-.85zM440.85 101.76h.85v.85h-.85zM443.84 99.59h.85v.85h-.85zM448.81 95.98h.85v.85h-.85zM438.52 98.38h.85v.85h-.85zM446.31 79.06h.85v.85h-.85zM445.25 106.35h.85v.85h-.85zM447.5 97.49h.85v.85h-.85zM442.87 92.57h.85v.85h-.85zM447.13 96.33h.85v.85h-.85zM433.62 106.87h.85v.85h-.85zM438.54 104.8h.85v.85h-.85zM445.53 97.57h.85v.85h-.85zM446.62 98.46h.85v.85h-.85zM444.93 100.64h.85v.85h-.85zM446.91 98.3h.85v.85h-.85zM448.23 100.83h.85v.85h-.85zM441.94 106.52h.85v.85h-.85zM446.06 104.48h.85v.85h-.85zM445.08 102.48h.85v.85h-.85zM429.49 105.71h.85v.85h-.85zM446.8 101.36h.85v.85h-.85zM445.18 93.98h.85v.85h-.85zM449.26 104.45h.85v.85h-.85zM449.13 101.36h.85v.85h-.85zM448.77 104.53h.85v.85h-.85zM447.52 104.48h.85v.85h-.85zM441.01 104.49h.85v.85h-.85zM445.14 100.03h.85v.85h-.85zM445.59 102.43h.85v.85h-.85zM437.44 98.26h.85v.85h-.85zM445.14 101.36h.85v.85h-.85zM442.93 96.06h.85v.85h-.85zM430.99 101.84h.85v.85h-.85zM442.59 89.71h.85v.85h-.85zM449.8 105.01h.85v.85h-.85zM436.09 106.47h.85v.85h-.85zM442.34 100.8h.85v.85h-.85zM445.57 105h.85v.85h-.85zM444.56 101.41h.85v.85h-.85zM450.61 104.79h.85v.85h-.85zM441.72 106.19h.85v.85h-.85zM438.37 104.39h.85v.85h-.85zM450.29 102.86h.85v.85h-.85zM443.26 99.3h.85v.85h-.85zM430.55 103.44h.85v.85h-.85zM436.41 101.27h.85v.85h-.85zM448.03 106.25h.85v.85h-.85zM444.23 101.92h.85v.85h-.85zM443.05 104.35h.85v.85h-.85zM443.46 101.92h.85v.85h-.85zM446.48 104.74h.85v.85h-.85zM449.72 104.49h.85v.85h-.85zM445.4 98.37h.85v.85h-.85zM429.66 104.3h.85v.85h-.85zM447.85 106.88h.85v.85h-.85zM445.71 101.71h.85v.85h-.85zM445.41 98.29h.85v.85h-.85zM444.98 105.34h.85v.85h-.85zM446.42 102.93h.85v.85h-.85zM439.66 104.31h.85v.85h-.85zM442.97 92.66h.85v.85h-.85zM446.05 104.22h.85v.85h-.85zM433.64 104.27h.85v.85h-.85zM449.83 102.3h.85v.85h-.85zM446.67 105.77h.85v.85h-.85zM437.61 105.36h.85v.85h-.85zM449.66 107.03h.85v.85h-.85zM432.95 98.92h.85v.85h-.85zM446.91 102.57h.85v.85h-.85zM439.47 103.75h.85v.85h-.85zM439.47 101.71h.85v.85h-.85zM442.58 100.33h.85v.85h-.85zM431.4 94.57h.85v.85h-.85zM435.91 102.96h.85v.85h-.85zM449.53 101.26h.85v.85h-.85zM445.02 104.17h.85v.85h-.85zM444.91 105.22h.85v.85h-.85zM441.57 107.33h.85v.85h-.85zM449.47 105.7h.85v.85h-.85zM442.95 100.32h.85v.85h-.85zM439.99 94.34h.85v.85h-.85zM445.43 99.63h.85v.85h-.85zM432.4 81.98h.85v.85h-.85zM447.9 97.56h.85v.85h-.85zM445.01 105.73h.85v.85h-.85zM440.57 105h.85v.85h-.85zM448.13 106.61h.85v.85h-.85zM448.31 95.54h.85v.85h-.85zM445.77 102.08h.85v.85h-.85zM440.21 104.3h.85v.85h-.85zM430.39 98.15h.85v.85h-.85zM440.3 99.68h.85v.85h-.85zM447.14 98.19h.85v.85h-.85zM434.35 103.61h.85v.85h-.85zM446.92 105.24h.85v.85h-.85zM450.26 101.97h.85v.85h-.85zM444.01 96.46h.85v.85h-.85zM442.51 97.82h.85v.85h-.85zM438.94 97.74h.85v.85h-.85zM445.11 105.78h.85v.85h-.85zM445.9 95.79h.85v.85h-.85zM441.52 103h.85v.85h-.85zM442.62 97.65h.85v.85h-.85zM446.42 99.3h.85v.85h-.85zM446.97 105.33h.85v.85h-.85zM447.36 96.48h.85v.85h-.85zM447.74 102.16h.85v.85h-.85zM444.37 107.17h.85v.85h-.85zM444.66 92.2h.85v.85h-.85zM444.22 106.56h.85v.85h-.85zM446.48 97.73h.85v.85h-.85zM446.8 82.07h.85v.85h-.85zM440.21 102.92h.85v.85h-.85zM434.32 101.59h.85v.85h-.85zM446.08 96.27h.85v.85h-.85zM446.97 104.58h.85v.85h-.85zM450.51 104.14h.85v.85h-.85zM444.45 92.81h.85v.85h-.85zM447.62 96.25h.85v.85h-.85zM440.29 104.65h.85v.85h-.85zM442.53 103.25h.85v.85h-.85zM428.61 106.59h.85v.85h-.85zM445 88.76h.85v.85h-.85zM441.35 106.17h.85v.85h-.85zM447.31 89.81h.85v.85h-.85zM444.07 107.66h.85v.85h-.85zM441.68 106.71h.85v.85h-.85zM439.2 101.75h.85v.85h-.85zM444.66 102.66h.85v.85h-.85zM437.76 106.7h.85v.85h-.85zM447.7 106.84h.85v.85h-.85zM443.21 98.13h.85v.85h-.85zM442.71 96.79h.85v.85h-.85zM432.14 102.36h.85v.85h-.85zM443.09 101.03h.85v.85h-.85zM447.06 103.16h.85v.85h-.85zM444.46 101.9h.85v.85h-.85zM449.09 103.43h.85v.85h-.85zM447.88 102.07h.85v.85h-.85zM445.1 97.41h.85v.85h-.85zM439.82 104.5h.85v.85h-.85zM445.38 90.2h.85v.85h-.85zM446.9 97.68h.85v.85h-.85zM442.16 100.84h.85v.85h-.85zM443.14 90.2h.85v.85h-.85zM445.37 105.13h.85v.85h-.85zM443.24 102.46h.85v.85h-.85zM440.17 104.44h.85v.85h-.85zM446.92 103.16h.85v.85h-.85zM436 98.13h.85v.85h-.85zM443.41 104.87h.85v.85h-.85zM439.67 103.7h.85v.85h-.85zM444.77 86.66h.85v.85h-.85zM447.61 97.3h.85v.85h-.85zM442.41 94.76h.85v.85h-.85zM438.75 99.75h.85v.85h-.85zM443.66 100.47h.85v.85h-.85zM445.11 84.93h.85v.85h-.85zM445.68 97.77h.85v.85h-.85zM446.21 93.28h.85v.85h-.85zM447.07 102.17h.85v.85h-.85zM431.76 106.13h.85v.85h-.85zM444.91 104.26h.85v.85h-.85zM449.94 100.62h.85v.85h-.85zM439.64 101.68h.85v.85h-.85zM435.58 102.24h.85v.85h-.85zM443.95 104.07h.85v.85h-.85zM445.2 103.58h.85v.85h-.85zM447.74 94.26h.85v.85h-.85zM445.5 99.1h.85v.85h-.85zM448.58 100.24h.85v.85h-.85zM446.84 101.09h.85v.85h-.85zM435.28 99.01h.85v.85h-.85zM438.79 95.91h.85v.85h-.85zM446.76 94.24h.85v.85h-.85zM440.24 93.34h.85v.85h-.85zM448.63 95.13h.85v.85h-.85zM448.19 104.28h.85v.85h-.85zM449.75 105.92h.85v.85h-.85zM445.49 104.18h.85v.85h-.85zM431.91 105.27h.85v.85h-.85zM448.88 102.82h.85v.85h-.85zM439.27 103.63h.85v.85h-.85zM447.98 92.81h.85v.85h-.85zM440.62 106.87h.85v.85h-.85zM443.15 104.3h.85v.85h-.85zM446.37 103.07h.85v.85h-.85zM451 106.86h.85v.85h-.85zM442.17 99.85h.85v.85h-.85zM440.74 103.53h.85v.85h-.85zM444.74 84.55h.85v.85h-.85zM443.5 105.2h.85v.85h-.85zM447.34 106.44h.85v.85h-.85zM436.27 94.32h.85v.85h-.85zM441.87 100.37h.85v.85h-.85zM439.89 101.57h.85v.85h-.85zM446.66 92.29h.85v.85h-.85zM441.52 103.08h.85v.85h-.85zM449.19 106.69h.85v.85h-.85zM443.46 78.81h.85v.85h-.85zM443.5 97.53h.85v.85h-.85zM449.49 100.9h.85v.85h-.85zM449 106.87h.85v.85h-.85zM443.75 106.86h.85v.85h-.85zM440.39 104.74h.85v.85h-.85zM447.93 102.92h.85v.85h-.85zM428.76 101.37h.85v.85h-.85zM435.35 105.18h.85v.85h-.85zM435.69 88.96h.85v.85h-.85zM432.38 101.68h.85v.85h-.85zM449.02 93.57h.85v.85h-.85zM445.13 90.25h.85v.85h-.85zM436.82 97.79h.85v.85h-.85zM447.88 104.49h.85v.85h-.85zM436.4 101.67h.85v.85h-.85zM440.99 103.8h.85v.85h-.85zM435.14 103.44h.85v.85h-.85zM438.23 91.88h.85v.85h-.85zM438.16 102.36h.85v.85h-.85zM446.44 102.7h.85v.85h-.85zM449.89 104.63h.85v.85h-.85zM443.66 97.17h.85v.85h-.85zM445.6 105.18h.85v.85h-.85zM441.06 106.65h.85v.85h-.85zM441.92 95.33h.85v.85h-.85zM447.42 98.01h.85v.85h-.85zM445.93 101.61h.85v.85h-.85zM445.09 100.47h.85v.85h-.85zM448.75 105.83h.85v.85h-.85zM433.58 106.39h.85v.85h-.85zM447.47 102.14h.85v.85h-.85zM443.99 104.44h.85v.85h-.85zM449.06 106h.85v.85h-.85zM439.1 99.3h.85v.85h-.85zM447.9 104.76h.85v.85h-.85zM439.81 89.5h.85v.85h-.85zM439.55 95.49h.85v.85h-.85zM432.7 98.42h.85v.85h-.85zM441.69 101.28h.85v.85h-.85zM432.83 97.06h.85v.85h-.85zM445.55 104.12h.85v.85h-.85zM445.39 94.85h.85v.85h-.85zM441.74 105.74h.85v.85h-.85zM438.98 98.2h.85v.85h-.85zM440.53 93.38h.85v.85h-.85zM443.24 106.98h.85v.85h-.85zM441.69 107.41h.85v.85h-.85zM443.28 99.2h.85v.85h-.85zM447.37 106.17h.85v.85h-.85zM429.18 92.29h.85v.85h-.85zM441.71 105.95h.85v.85h-.85zM445.45 107.53h.85v.85h-.85zM443.68 81.9h.85v.85h-.85zM446.92 101.41h.85v.85h-.85zM445.02 104.91h.85v.85h-.85zM448.92 104.66h.85v.85h-.85zM440.48 93.13h.85v.85h-.85zM450.35 105.41h.85v.85h-.85zM438.96 98.41h.85v.85h-.85zM430.91 101.48h.85v.85h-.85zM429.57 104.9h.85v.85h-.85zM438.56 94.86h.85v.85h-.85zM435.42 103.8h.85v.85h-.85zM445.96 105.86h.85v.85h-.85zM447.41 100.03h.85v.85h-.85zM443.58 106.05h.85v.85h-.85zM441.1 94.25h.85v.85h-.85zM437.39 100.39h.85v.85h-.85zM448.45 96.18h.85v.85h-.85zM446.09 105.32h.85v.85h-.85zM444.3 91.18h.85v.85h-.85zM448.88 104.71h.85v.85h-.85zM445.1 97.05h.85v.85h-.85zM439.39 101.49h.85v.85h-.85zM443.7 101.18h.85v.85h-.85zM434.67 104.06h.85v.85h-.85zM440.72 86.75h.85v.85h-.85zM444.51 85.4h.85v.85h-.85zM441.85 102.93h.85v.85h-.85zM442.06 103.73h.85v.85h-.85zM435.44 103.14h.85v.85h-.85zM442.56 105.62h.85v.85h-.85zM434.6 102.03h.85v.85h-.85zM443.69 104.82h.85v.85h-.85zM442.38 103.42h.85v.85h-.85zM444.83 103.55h.85v.85h-.85zM445.04 98.99h.85v.85h-.85zM436.22 88.4h.85v.85h-.85zM440.76 99.46h.85v.85h-.85zM448.84 103.22h.85v.85h-.85zM443.11 91.82h.85v.85h-.85zM443.48 100.66h.85v.85h-.85zM439.06 102.15h.85v.85h-.85zM448.27 104.32h.85v.85h-.85zM447.51 98.29h.85v.85h-.85zM440.25 100.71h.85v.85h-.85zM450.5 104.87h.85v.85h-.85zM449.5 107.42h.85v.85h-.85zM432.67 104.5h.85v.85h-.85zM442.33 84.86h.85v.85h-.85zM436.82 101.54h.85v.85h-.85zM443.37 99.23h.85v.85h-.85zM446.39 90.92h.85v.85h-.85zM432.26 107.06h.85v.85h-.85zM450.75 105.57h.85v.85h-.85zM432.03 107.37h.85v.85h-.85zM448.4 102.41h.85v.85h-.85zM446.54 104.85h.85v.85h-.85zM446.7 105.93h.85v.85h-.85zM445.14 95.49h.85v.85h-.85zM443.57 98.11h.85v.85h-.85zM445.82 98.23h.85v.85h-.85zM444.58 91.02h.85v.85h-.85zM439.34 104.69h.85v.85h-.85zM446.06 101.71h.85v.85h-.85zM442.67 99.17h.85v.85h-.85zM433.1 106.45h.85v.85h-.85zM444.75 102.2h.85v.85h-.85zM428.71 104.54h.85v.85h-.85zM445.96 79.36h.85v.85h-.85zM439.73 103.16h.85v.85h-.85zM437.93 102.08h.85v.85h-.85zM426.98 103.15h.85v.85h-.85zM435.72 99.16h.85v.85h-.85zM445.51 107.33h.85v.85h-.85zM444.16 103.19h.85v.85h-.85zM447.48 106.38h.85v.85h-.85zM449.25 106.44h.85v.85h-.85zM448.19 106.48h.85v.85h-.85zM435.41 102.49h.85v.85h-.85zM448.73 107.53h.85v.85h-.85zM443.95 106.54h.85v.85h-.85zM439.37 99.23h.85v.85h-.85zM450.17 105.81h.85v.85h-.85zM444.84 79.61h.85v.85h-.85zM438.7 105.19h.85v.85h-.85zM442.74 103.38h.85v.85h-.85zM436.73 103.05h.85v.85h-.85zM441.51 104.36h.85v.85h-.85zM441.67 94.11h.85v.85h-.85zM443.41 99.25h.85v.85h-.85zM448.23 99.39h.85v.85h-.85zM441.42 103.85h.85v.85h-.85zM447.57 106.26h.85v.85h-.85zM448.48 105.12h.85v.85h-.85zM443.57 104.61h.85v.85h-.85zM444.73 102.77h.85v.85h-.85zM443.63 97.27h.85v.85h-.85zM440.11 101.14h.85v.85h-.85zM438.39 106.98h.85v.85h-.85zM439.97 98.45h.85v.85h-.85zM442.85 107.33h.85v.85h-.85zM440.54 102.22h.85v.85h-.85zM442.34 107.2h.85v.85h-.85zM445.94 106.1h.85v.85h-.85zM460.52 104.38h.85v.85h-.85zM454.28 104.66h.85v.85h-.85zM459.98 100.47h.85v.85h-.85zM459.81 102.75h.85v.85h-.85zM471.88 104.03h.85v.85h-.85zM461.6 100.96h.85v.85h-.85zM459.46 103.8h.85v.85h-.85zM459.25 96.69h.85v.85h-.85zM458.6 107.12h.85v.85h-.85zM461.07 104.87h.85v.85h-.85zM458.42 106.97h.85v.85h-.85zM456.39 106.77h.85v.85h-.85zM464.91 94.46h.85v.85h-.85zM464.13 94.28h.85v.85h-.85zM458.94 106.13h.85v.85h-.85zM457.01 107.45h.85v.85h-.85zM458.21 96.32h.85v.85h-.85zM465.32 103.8h.85v.85h-.85zM455.88 103.1h.85v.85h-.85zM472.82 94.84h.85v.85h-.85zM456.95 100.39h.85v.85h-.85zM457.52 105.83h.85v.85h-.85zM455.23 97.46h.85v.85h-.85zM469.22 100.66h.85v.85h-.85zM461.31 104.49h.85v.85h-.85zM457.58 107.28h.85v.85h-.85zM455.25 105.59h.85v.85h-.85zM463.38 102.19h.85v.85h-.85zM457.04 101.67h.85v.85h-.85zM460.2 107.07h.85v.85h-.85zM458.51 100.75h.85v.85h-.85zM459.59 104.86h.85v.85h-.85zM461.51 105.18h.85v.85h-.85zM466.73 95.6h.85v.85h-.85zM457.36 105.64h.85v.85h-.85zM460.83 89.39h.85v.85h-.85zM470.42 102.27h.85v.85h-.85zM467 102.85h.85v.85h-.85zM465.07 101.06h.85v.85h-.85zM456.25 99.33h.85v.85h-.85zM457.92 92.24h.85v.85h-.85zM464.03 103.31h.85v.85h-.85zM458.33 106.85h.85v.85h-.85zM456.96 98.98h.85v.85h-.85zM459.1 99.06h.85v.85h-.85zM460.31 102.01h.85v.85h-.85zM454.32 101.47h.85v.85h-.85zM456.08 102.57h.85v.85h-.85zM463.36 103.34h.85v.85h-.85zM455.62 105.34h.85v.85h-.85zM457.4 81.72h.85v.85h-.85zM466.87 106.43h.85v.85h-.85zM464.91 105.44h.85v.85h-.85zM457.41 90.98h.85v.85h-.85zM467.45 106.94h.85v.85h-.85zM470.44 105.07h.85v.85h-.85zM456.95 104.98h.85v.85h-.85zM460.09 105.23h.85v.85h-.85zM460.25 105.59h.85v.85h-.85zM460.14 106.7h.85v.85h-.85zM456.58 103.05h.85v.85h-.85zM460.28 90.8h.85v.85h-.85zM454.2 104.27h.85v.85h-.85zM461.08 86.11h.85v.85h-.85zM456.83 91.38h.85v.85h-.85zM462.14 102.4h.85v.85h-.85zM456.69 105.61h.85v.85h-.85zM462.68 106.01h.85v.85h-.85zM463.82 98.71h.85v.85h-.85zM460.98 99.5h.85v.85h-.85zM464.61 95.78h.85v.85h-.85zM472.82 96.68h.85v.85h-.85zM461.41 96.52h.85v.85h-.85zM464.92 99.28h.85v.85h-.85zM457.15 101.42h.85v.85h-.85zM455.71 104.97h.85v.85h-.85zM459.72 105.8h.85v.85h-.85zM460.32 96.67h.85v.85h-.85zM465.59 101.67h.85v.85h-.85zM465.05 98.62h.85v.85h-.85zM462.82 102.99h.85v.85h-.85zM459.97 97.48h.85v.85h-.85zM459.78 103.68h.85v.85h-.85zM457.24 103.14h.85v.85h-.85zM456.18 104.82h.85v.85h-.85zM460.25 104.16h.85v.85h-.85zM464.83 91.09h.85v.85h-.85zM464.27 102.05h.85v.85h-.85zM457.48 92.91h.85v.85h-.85zM464.08 107.22h.85v.85h-.85zM459.82 78.13h.85v.85h-.85zM469.38 105.92h.85v.85h-.85zM457.48 102.45h.85v.85h-.85zM457.06 107.28h.85v.85h-.85zM456.66 100.27h.85v.85h-.85zM458.33 98.66h.85v.85h-.85zM458.41 103.7h.85v.85h-.85zM468.39 105.75h.85v.85h-.85zM460.8 106.06h.85v.85h-.85zM456.17 92.86h.85v.85h-.85zM465.77 101.93h.85v.85h-.85zM458.98 103.23h.85v.85h-.85zM455.91 101.56h.85v.85h-.85zM459.31 104.34h.85v.85h-.85zM460.75 97.87h.85v.85h-.85zM463.66 101.38h.85v.85h-.85zM459.27 101.23h.85v.85h-.85zM459.74 100.02h.85v.85h-.85zM459.17 105.27h.85v.85h-.85zM460.2 98.43h.85v.85h-.85zM460.82 104.03h.85v.85h-.85zM463.58 105.79h.85v.85h-.85zM473.03 104.71h.85v.85h-.85zM455.57 106.37h.85v.85h-.85zM461.2 104.6h.85v.85h-.85zM461.02 104.58h.85v.85h-.85zM465.89 106.89h.85v.85h-.85zM457.12 103.57h.85v.85h-.85zM453.92 105.34h.85v.85h-.85zM472.21 106.09h.85v.85h-.85zM477.29 104.1h.85v.85h-.85zM459.8 104.51h.85v.85h-.85zM455.79 96.81h.85v.85h-.85zM460.16 106.12h.85v.85h-.85zM455.44 95.56h.85v.85h-.85zM461.37 102.31h.85v.85h-.85zM462.97 91.48h.85v.85h-.85zM463.02 94.31h.85v.85h-.85zM464.12 104.75h.85v.85h-.85zM458.67 98.82h.85v.85h-.85zM459.91 92.52h.85v.85h-.85zM464.34 100.99h.85v.85h-.85zM461.44 86.01h.85v.85h-.85zM462.27 99.63h.85v.85h-.85zM459.52 106.07h.85v.85h-.85zM459.88 97.2h.85v.85h-.85zM470.54 106.12h.85v.85h-.85zM463.55 106.93h.85v.85h-.85zM461.05 101.19h.85v.85h-.85zM459.29 106.72h.85v.85h-.85zM459.3 93.55h.85v.85h-.85zM459.43 104.08h.85v.85h-.85zM462.89 89.05h.85v.85h-.85zM460.67 96.38h.85v.85h-.85zM466.56 90.3h.85v.85h-.85zM461.65 107.55h.85v.85h-.85zM459.76 103.54h.85v.85h-.85zM456.83 103.54h.85v.85h-.85zM459.59 102.72h.85v.85h-.85zM456.03 93.95h.85v.85h-.85zM459.08 105.19h.85v.85h-.85zM458.28 92.06h.85v.85h-.85zM460.58 104.48h.85v.85h-.85zM456.6 105.02h.85v.85h-.85zM468.84 103.44h.85v.85h-.85zM459.51 102.91h.85v.85h-.85zM462.4 92.93h.85v.85h-.85zM454.46 103.37h.85v.85h-.85zM456.75 95.25h.85v.85h-.85zM457.21 98.08h.85v.85h-.85zM458.02 102.85h.85v.85h-.85zM466.41 95.91h.85v.85h-.85zM457.46 85.72h.85v.85h-.85zM455.58 101.28h.85v.85h-.85zM454.16 106.16h.85v.85h-.85zM456.34 106.31h.85v.85h-.85zM462.93 100.43h.85v.85h-.85zM460.57 96.08h.85v.85h-.85zM464.6 107.42h.85v.85h-.85zM468.39 94.45h.85v.85h-.85zM454.67 98.45h.85v.85h-.85zM470.56 102.65h.85v.85h-.85zM461.76 87.66h.85v.85h-.85zM470.79 103.43h.85v.85h-.85zM461.32 96.15h.85v.85h-.85zM461.97 101.24h.85v.85h-.85zM466.56 104.52h.85v.85h-.85zM457.15 90.81h.85v.85h-.85zM455.91 103.29h.85v.85h-.85zM462.57 88.56h.85v.85h-.85zM458.87 79.28h.85v.85h-.85zM456.09 102.5h.85v.85h-.85zM459.8 89.25h.85v.85h-.85zM461.74 94.54h.85v.85h-.85zM456.2 96.17h.85v.85h-.85zM465.04 102.84h.85v.85h-.85zM455.14 106.45h.85v.85h-.85zM458.23 98.54h.85v.85h-.85zM460.29 100.34h.85v.85h-.85zM455.58 97.53h.85v.85h-.85zM457.73 101.79h.85v.85h-.85zM459.48 106.13h.85v.85h-.85zM454.49 104.54h.85v.85h-.85zM456.68 95.62h.85v.85h-.85zM469.49 105.36h.85v.85h-.85zM469.1 105.97h.85v.85h-.85zM454.32 105.69h.85v.85h-.85zM461.17 104.01h.85v.85h-.85zM457.83 104.12h.85v.85h-.85zM457.28 98.17h.85v.85h-.85zM458.9 105.12h.85v.85h-.85zM461.22 107.44h.85v.85h-.85zM455.6 106.01h.85v.85h-.85zM465.05 104.5h.85v.85h-.85zM464.04 100.62h.85v.85h-.85zM461.08 104.91h.85v.85h-.85zM462 105.49h.85v.85h-.85zM461.43 98.85h.85v.85h-.85zM463.22 104.22h.85v.85h-.85zM458.97 98.53h.85v.85h-.85zM458.12 95.92h.85v.85h-.85zM470.32 103.02h.85v.85h-.85zM460.41 99.1h.85v.85h-.85zM455.39 103.99h.85v.85h-.85zM460.4 101.51h.85v.85h-.85zM456.46 95.22h.85v.85h-.85zM453.83 107.62h.85v.85h-.85zM462.03 103.97h.85v.85h-.85zM459.96 101.5h.85v.85h-.85zM459.02 102.36h.85v.85h-.85zM470.05 104.55h.85v.85h-.85zM456.17 90.26h.85v.85h-.85zM464.11 106.38h.85v.85h-.85zM462.13 100.63h.85v.85h-.85zM458.26 106.71h.85v.85h-.85zM456 105.24h.85v.85h-.85zM455.02 97.2h.85v.85h-.85zM456.99 105.57h.85v.85h-.85zM455.03 106.33h.85v.85h-.85zM458.47 103.8h.85v.85h-.85zM460.1 90.41h.85v.85h-.85zM458.27 98.65h.85v.85h-.85zM461.21 99.66h.85v.85h-.85zM459 96.31h.85v.85h-.85zM461.56 98.9h.85v.85h-.85zM462.12 93.53h.85v.85h-.85zM461.76 104.98h.85v.85h-.85zM459.63 105.89h.85v.85h-.85zM476.26 105.73h.85v.85h-.85zM455.05 105.56h.85v.85h-.85zM461.63 104.99h.85v.85h-.85zM463.61 90.81h.85v.85h-.85zM456.93 100.73h.85v.85h-.85zM460.42 81.05h.85v.85h-.85zM457.13 101.46h.85v.85h-.85zM456.48 102.3h.85v.85h-.85zM458.96 103.12h.85v.85h-.85zM458.77 102.14h.85v.85h-.85zM464.99 93.84h.85v.85h-.85zM465.26 98.94h.85v.85h-.85zM458.62 77.98h.85v.85h-.85zM463.56 100.69h.85v.85h-.85zM462.3 81.62h.85v.85h-.85zM462.7 91.21h.85v.85h-.85zM464.99 106.12h.85v.85h-.85zM456.37 101.97h.85v.85h-.85zM466.28 101.47h.85v.85h-.85zM467.13 103.85h.85v.85h-.85zM461.48 99.54h.85v.85h-.85zM456.2 105h.85v.85h-.85zM457.75 100.21h.85v.85h-.85zM460.21 101.52h.85v.85h-.85zM459.26 104.19h.85v.85h-.85zM458.3 90.51h.85v.85h-.85zM455.98 102.03h.85v.85h-.85zM465.28 95.92h.85v.85h-.85zM462.67 95.33h.85v.85h-.85zM454.42 103.62h.85v.85h-.85zM463.93 104.8h.85v.85h-.85zM455.94 104.11h.85v.85h-.85zM459.71 107.26h.85v.85h-.85zM457.23 104.21h.85v.85h-.85zM457.63 105.53h.85v.85h-.85zM464.29 102.73h.85v.85h-.85zM463.32 100.37h.85v.85h-.85zM465.9 103.75h.85v.85h-.85zM456.95 94.98h.85v.85h-.85zM461.57 82.29h.85v.85h-.85zM458.85 80.47h.85v.85h-.85zM454.86 106.03h.85v.85h-.85zM463.22 105.51h.85v.85h-.85zM458.82 97.65h.85v.85h-.85zM467.25 96.13h.85v.85h-.85zM463.53 98.07h.85v.85h-.85zM465.38 98.89h.85v.85h-.85zM456.94 98.39h.85v.85h-.85zM458.58 100.53h.85v.85h-.85zM457.08 107.19h.85v.85h-.85zM463.11 104.14h.85v.85h-.85zM457.59 91.09h.85v.85h-.85zM461.22 103.36h.85v.85h-.85zM464.54 102.41h.85v.85h-.85zM455.71 103.11h.85v.85h-.85zM458.13 96.22h.85v.85h-.85zM453.78 105.03h.85v.85h-.85zM463.99 105.71h.85v.85h-.85zM462.84 96.36h.85v.85h-.85zM461.01 87.56h.85v.85h-.85zM455.72 107.62h.85v.85h-.85zM469.67 107.17h.85v.85h-.85zM459.98 101.8h.85v.85h-.85zM457 89.5h.85v.85h-.85zM464.24 97.27h.85v.85h-.85zM469.65 100.96h.85v.85h-.85zM456.23 100.11h.85v.85h-.85zM462.64 97.98h.85v.85h-.85zM466.21 104.67h.85v.85h-.85zM457.91 100.61h.85v.85h-.85zM460.54 100.31h.85v.85h-.85zM463.97 100.27h.85v.85h-.85zM453.87 104.79h.85v.85h-.85zM472.8 93.19h.85v.85h-.85zM462.62 101.13h.85v.85h-.85zM472.8 106.76h.85v.85h-.85zM456.12 93.12h.85v.85h-.85zM473.1 88.78h.85v.85h-.85zM465.78 105.65h.85v.85h-.85zM467.57 98.35h.85v.85h-.85zM459.79 94.3h.85v.85h-.85zM454.47 101.88h.85v.85h-.85zM458.06 95.32h.85v.85h-.85zM456.72 93.77h.85v.85h-.85zM460.48 99.58h.85v.85h-.85zM462.36 104.38h.85v.85h-.85zM458.58 105.17h.85v.85h-.85zM462.77 98.87h.85v.85h-.85zM457.69 102.35h.85v.85h-.85zM468.3 104.89h.85v.85h-.85zM461.34 105.46h.85v.85h-.85zM456.7 87.25h.85v.85h-.85zM459.11 100.17h.85v.85h-.85zM472.3 101.17h.85v.85h-.85zM461.47 104.02h.85v.85h-.85zM458.25 106.93h.85v.85h-.85zM456.73 102.09h.85v.85h-.85zM469.81 107.12h.85v.85h-.85zM458.24 100.61h.85v.85h-.85zM471.01 104.26h.85v.85h-.85zM455.2 96.41h.85v.85h-.85zM466.18 106.68h.85v.85h-.85zM458.05 105.17h.85v.85h-.85zM454.94 106.34h.85v.85h-.85zM460.29 104.64h.85v.85h-.85zM464.68 100.33h.85v.85h-.85zM457.7 89.03h.85v.85h-.85zM463.38 104.81h.85v.85h-.85zM462.24 103.75h.85v.85h-.85zM460.53 101.32h.85v.85h-.85zM457.73 104.57h.85v.85h-.85zM468.62 98.43h.85v.85h-.85zM471.4 101.56h.85v.85h-.85zM464.46 95.52h.85v.85h-.85zM460.79 104.91h.85v.85h-.85zM454.98 104.11h.85v.85h-.85zM458.72 99.39h.85v.85h-.85zM455.16 99.17h.85v.85h-.85zM467.64 106.47h.85v.85h-.85zM461.31 105.2h.85v.85h-.85zM462.71 106.44h.85v.85h-.85zM462.93 104.62h.85v.85h-.85zM460.38 98.4h.85v.85h-.85zM462.98 101.7h.85v.85h-.85zM458.92 100.17h.85v.85h-.85zM458.92 100.35h.85v.85h-.85zM468.53 105.34h.85v.85h-.85zM456.13 99.89h.85v.85h-.85zM463.07 104.28h.85v.85h-.85zM464.54 107.32h.85v.85h-.85zM458.74 96.93h.85v.85h-.85zM458.26 103.2h.85v.85h-.85zM471.84 107.58h.85v.85h-.85zM456.95 102.76h.85v.85h-.85zM459.72 106.76h.85v.85h-.85zM460.8 106.81h.85v.85h-.85zM463.99 100.64h.85v.85h-.85zM459.35 103.35h.85v.85h-.85zM464.83 101.64h.85v.85h-.85zM455.86 94.47h.85v.85h-.85zM458.43 90.9h.85v.85h-.85zM463.21 97.01h.85v.85h-.85zM455.09 103.69h.85v.85h-.85zM461.98 103.5h.85v.85h-.85zM460.4 103.15h.85v.85h-.85zM466.14 106.83h.85v.85h-.85zM463.01 98.57h.85v.85h-.85zM455.97 107.01h.85v.85h-.85zM459.86 104.8h.85v.85h-.85zM458.54 106.59h.85v.85h-.85zM457.19 100.31h.85v.85h-.85zM460.67 76.8h.85v.85h-.85zM455.93 98.3h.85v.85h-.85zM468.11 97.15h.85v.85h-.85zM461.48 92.94h.85v.85h-.85zM468.41 99.17h.85v.85h-.85zM474.44 100.15h.85v.85h-.85zM455.48 107.27h.85v.85h-.85zM456.94 96.67h.85v.85h-.85zM460.75 103.38h.85v.85h-.85zM460.52 97.56h.85v.85h-.85zM459.33 98.05h.85v.85h-.85zM458.77 97.57h.85v.85h-.85zM464.35 100.22h.85v.85h-.85zM455.8 104.54h.85v.85h-.85zM456.56 103.14h.85v.85h-.85zM459.88 91.77h.85v.85h-.85zM461.73 106.67h.85v.85h-.85zM460.99 103.44h.85v.85h-.85zM464.51 103.47h.85v.85h-.85zM460.43 95.64h.85v.85h-.85zM458.49 106.56h.85v.85h-.85zM457.43 104.04h.85v.85h-.85zM475.76 104.84h.85v.85h-.85zM461.59 106.68h.85v.85h-.85zM461.37 89.55h.85v.85h-.85zM463.22 92.02h.85v.85h-.85zM457.22 102.05h.85v.85h-.85zM460.5 93.75h.85v.85h-.85zM456.66 101.38h.85v.85h-.85zM460.06 107.2h.85v.85h-.85zM457.47 98.32h.85v.85h-.85zM467.7 94.32h.85v.85h-.85zM454.8 104.29h.85v.85h-.85zM457.42 98.75h.85v.85h-.85zM456.51 106.55h.85v.85h-.85zM458.39 97.88h.85v.85h-.85zM469.57 100.63h.85v.85h-.85zM464.13 105.18h.85v.85h-.85zM457.29 104.51h.85v.85h-.85zM463.46 105.75h.85v.85h-.85zM454.96 106.52h.85v.85h-.85zM458.42 94.27h.85v.85h-.85zM457.39 92.64h.85v.85h-.85zM457.89 88.17h.85v.85h-.85zM465.47 102.84h.85v.85h-.85zM464.39 97.37h.85v.85h-.85zM455.29 101.03h.85v.85h-.85zM466.89 97.83h.85v.85h-.85zM456.35 106.99h.85v.85h-.85zM457.89 99.41h.85v.85h-.85zM461.27 107.58h.85v.85h-.85zM463.84 105.14h.85v.85h-.85zM460.67 83.81h.85v.85h-.85zM460.36 105.48h.85v.85h-.85zM455.05 105.41h.85v.85h-.85zM453.61 105.14h.85v.85h-.85zM462.27 104.94h.85v.85h-.85zM468.87 96.13h.85v.85h-.85zM455.08 103.34h.85v.85h-.85zM454.91 102.58h.85v.85h-.85zM458.39 104.86h.85v.85h-.85zM459 100.55h.85v.85h-.85zM464.74 104.04h.85v.85h-.85zM458.5 99.68h.85v.85h-.85zM457.3 98.91h.85v.85h-.85zM458.33 107.45h.85v.85h-.85zM463.27 105.78h.85v.85h-.85zM463.46 105.51h.85v.85h-.85zM458.84 104.59h.85v.85h-.85zM464.51 97.32h.85v.85h-.85zM456.48 105.38h.85v.85h-.85zM464.34 102.9h.85v.85h-.85zM472.75 97.54h.85v.85h-.85zM465.12 104.33h.85v.85h-.85zM456.52 90.87h.85v.85h-.85zM461.73 103.93h.85v.85h-.85zM460.38 104.45h.85v.85h-.85zM458.92 101.35h.85v.85h-.85zM458.78 105.26h.85v.85h-.85zM457.23 97.83h.85v.85h-.85zM454.33 103.9h.85v.85h-.85zM462.82 106.68h.85v.85h-.85zM463.36 97.42h.85v.85h-.85zM460.38 101.64h.85v.85h-.85zM464.79 100.88h.85v.85h-.85zM457.52 101.83h.85v.85h-.85zM459.36 101.45h.85v.85h-.85zM456.48 106.42h.85v.85h-.85zM463.61 99.55h.85v.85h-.85zM463.6 102.16h.85v.85h-.85zM462.31 102.98h.85v.85h-.85zM458.1 99.96h.85v.85h-.85zM459.75 101.43h.85v.85h-.85zM467.25 105.89h.85v.85h-.85zM460.31 78.54h.85v.85h-.85zM460.87 105.98h.85v.85h-.85zM469.58 102.54h.85v.85h-.85zM463.42 102.56h.85v.85h-.85zM459.26 98.18h.85v.85h-.85zM454.74 102.7h.85v.85h-.85zM461.31 105.8h.85v.85h-.85zM456.12 100.82h.85v.85h-.85zM464.75 106.36h.85v.85h-.85zM459.83 98.53h.85v.85h-.85zM456.33 103.11h.85v.85h-.85zM463.78 82.23h.85v.85h-.85zM454.43 102.28h.85v.85h-.85zM458.01 105.94h.85v.85h-.85zM454.26 107.38h.85v.85h-.85zM462.15 96.91h.85v.85h-.85zM460.14 86.66h.85v.85h-.85zM456.56 102.98h.85v.85h-.85zM460.33 103.47h.85v.85h-.85zM468.61 101.89h.85v.85h-.85zM473.17 101.65h.85v.85h-.85zM456.81 93.86h.85v.85h-.85zM454.72 105.85h.85v.85h-.85zM456.3 104.45h.85v.85h-.85zM455.72 96.86h.85v.85h-.85zM460.9 104.72h.85v.85h-.85zM457.4 106.31h.85v.85h-.85zM473.53 105.32h.85v.85h-.85zM461.62 100.89h.85v.85h-.85zM456.34 95.61h.85v.85h-.85zM461.95 100.01h.85v.85h-.85zM463.69 105.81h.85v.85h-.85zM458.36 105.58h.85v.85h-.85zM463.13 85.71h.85v.85h-.85zM460.83 101.4h.85v.85h-.85zM461.63 100.7h.85v.85h-.85zM458.75 77.53h.85v.85h-.85zM456.87 88.14h.85v.85h-.85zM463.01 94.9h.85v.85h-.85zM453.5 106.51h.85v.85h-.85zM462.18 101.29h.85v.85h-.85zM471.17 104.82h.85v.85h-.85zM456.62 95.88h.85v.85h-.85zM456.14 101.5h.85v.85h-.85zM462.66 102.54h.85v.85h-.85zM455.14 96.68h.85v.85h-.85zM456.66 101.4h.85v.85h-.85zM463.12 91.15h.85v.85h-.85zM457.66 93.37h.85v.85h-.85zM467.69 104.85h.85v.85h-.85zM456.85 101.35h.85v.85h-.85zM457 105.93h.85v.85h-.85zM456 107.07h.85v.85h-.85zM475.19 102.14h.85v.85h-.85zM465.79 100.29h.85v.85h-.85zM464.63 102.13h.85v.85h-.85zM457.06 103.23h.85v.85h-.85zM459.36 101.33h.85v.85h-.85zM463.23 98.53h.85v.85h-.85zM462.99 96.24h.85v.85h-.85zM463.25 105.82h.85v.85h-.85zM462.82 97h.85v.85h-.85zM463.67 87.6h.85v.85h-.85zM456.17 103.08h.85v.85h-.85zM456.12 103.72h.85v.85h-.85zM461.31 94.91h.85v.85h-.85zM464.03 100.82h.85v.85h-.85zM464.25 103.58h.85v.85h-.85zM468.22 98.79h.85v.85h-.85zM455.76 101.27h.85v.85h-.85zM465.84 89.37h.85v.85h-.85zM475.41 104.09h.85v.85h-.85zM458.44 99.2h.85v.85h-.85zM455.16 106.23h.85v.85h-.85zM454.56 105.52h.85v.85h-.85zM458.56 100.29h.85v.85h-.85zM464.61 106.83h.85v.85h-.85zM455.2 98.97h.85v.85h-.85zM459.82 106.37h.85v.85h-.85zM459.89 106.2h.85v.85h-.85zM459.39 94.1h.85v.85h-.85zM455.25 106.02h.85v.85h-.85zM461.43 99.78h.85v.85h-.85zM460.1 86.79h.85v.85h-.85zM460.16 100.55h.85v.85h-.85zM461.42 103.68h.85v.85h-.85zM464.77 104.47h.85v.85h-.85zM460.62 95.67h.85v.85h-.85zM458.8 106.71h.85v.85h-.85zM464.51 84.6h.85v.85h-.85zM461.55 96.14h.85v.85h-.85zM461.09 105.55h.85v.85h-.85zM464.69 102.38h.85v.85h-.85zM456.66 97.78h.85v.85h-.85zM463.49 98.8h.85v.85h-.85zM464.43 105.98h.85v.85h-.85zM460.38 102.69h.85v.85h-.85zM456.31 106.42h.85v.85h-.85zM457.23 94.04h.85v.85h-.85zM466.32 99.48h.85v.85h-.85zM456.95 95.54h.85v.85h-.85zM458.72 103.96h.85v.85h-.85zM465.2 106.06h.85v.85h-.85zM454.34 103.44h.85v.85h-.85zM457.8 102.76h.85v.85h-.85zM456.84 105.42h.85v.85h-.85zM461.69 106.21h.85v.85h-.85zM456.01 104.61h.85v.85h-.85zM460.49 106.73h.85v.85h-.85zM466.59 106.59h.85v.85h-.85zM468.11 105.46h.85v.85h-.85zM457.39 99.79h.85v.85h-.85zM455.33 100.42h.85v.85h-.85zM468.12 107.28h.85v.85h-.85zM456.71 106.22h.85v.85h-.85zM457.81 100.2h.85v.85h-.85zM458.63 104.13h.85v.85h-.85zM459.56 94.64h.85v.85h-.85zM454.73 106.99h.85v.85h-.85zM457 106.67h.85v.85h-.85zM459.33 102.09h.85v.85h-.85zM455.96 103.13h.85v.85h-.85zM464.42 87.2h.85v.85h-.85zM470.25 97.7h.85v.85h-.85zM473.74 104.76h.85v.85h-.85zM461.55 107.2h.85v.85h-.85zM460.36 102.96h.85v.85h-.85zM462.48 103.05h.85v.85h-.85zM457.85 98.41h.85v.85h-.85zM455.93 102.28h.85v.85h-.85zM455.67 105.2h.85v.85h-.85zM459.21 96.65h.85v.85h-.85zM461.22 107.15h.85v.85h-.85zM457.71 100.68h.85v.85h-.85zM463.12 107.28h.85v.85h-.85zM456.46 87.49h.85v.85h-.85zM458.51 98.68h.85v.85h-.85zM456.15 106.47h.85v.85h-.85zM455.66 106.38h.85v.85h-.85zM454.05 103.48h.85v.85h-.85zM461.28 105.49h.85v.85h-.85zM462.46 100.32h.85v.85h-.85zM457.14 106.12h.85v.85h-.85zM458.3 104.16h.85v.85h-.85zM456 99.61h.85v.85h-.85zM455.38 105.03h.85v.85h-.85zM460.58 107.08h.85v.85h-.85zM459.69 98.16h.85v.85h-.85zM459.07 95.29h.85v.85h-.85zM456.32 106.76h.85v.85h-.85zM455 100.26h.85v.85h-.85zM456.59 99.42h.85v.85h-.85zM459.21 96.09h.85v.85h-.85zM461.53 104.86h.85v.85h-.85zM458.09 87.7h.85v.85h-.85zM458.69 105.25h.85v.85h-.85zM459.77 98.26h.85v.85h-.85zM463.85 102.09h.85v.85h-.85zM467.95 104.66h.85v.85h-.85zM456.21 102.33h.85v.85h-.85zM457.4 103.48h.85v.85h-.85zM457.24 102.01h.85v.85h-.85zM468.23 105.52h.85v.85h-.85zM458.85 103.03h.85v.85h-.85zM457.21 104.06h.85v.85h-.85zM462.82 96h.85v.85h-.85zM458.44 103.8h.85v.85h-.85zM456.31 95.02h.85v.85h-.85zM466.2 103.87h.85v.85h-.85zM458.41 102.13h.85v.85h-.85zM463.6 99.4h.85v.85h-.85zM458.35 104.42h.85v.85h-.85zM458.92 98.96h.85v.85h-.85zM463 89.56h.85v.85h-.85zM460.02 102.28h.85v.85h-.85zM455.77 100.3h.85v.85h-.85zM456.46 103.59h.85v.85h-.85zM454.81 104.67h.85v.85h-.85zM460.7 102.57h.85v.85h-.85zM457.5 106.32h.85v.85h-.85zM468.54 102.17h.85v.85h-.85zM463.33 104.85h.85v.85h-.85zM458 97.23h.85v.85h-.85zM461.56 98.82h.85v.85h-.85zM469.84 104.57h.85v.85h-.85zM462.7 89.78h.85v.85h-.85zM455.52 105.23h.85v.85h-.85zM459.88 88.02h.85v.85h-.85zM463.71 99.52h.85v.85h-.85zM463.79 98.15h.85v.85h-.85zM456.95 103.7h.85v.85h-.85zM464.49 97.27h.85v.85h-.85zM462.35 104.5h.85v.85h-.85zM457.92 98.07h.85v.85h-.85zM459.52 88.47h.85v.85h-.85zM459.37 97.52h.85v.85h-.85zM459.63 100.82h.85v.85h-.85zM461.97 106.7h.85v.85h-.85zM459.89 92.14h.85v.85h-.85zM463.14 87.34h.85v.85h-.85zM457.18 102.65h.85v.85h-.85zM469.91 94.08h.85v.85h-.85zM457.08 99.25h.85v.85h-.85zM456.01 104.98h.85v.85h-.85zM454.65 100.17h.85v.85h-.85zM462.07 100.19h.85v.85h-.85zM468.69 99.04h.85v.85h-.85zM458.44 93.12h.85v.85h-.85zM470.09 107.01h.85v.85h-.85zM461.19 103.31h.85v.85h-.85zM455.87 100.16h.85v.85h-.85zM458.2 106.05h.85v.85h-.85zM455.21 105.17h.85v.85h-.85zM458.22 91.59h.85v.85h-.85zM457.89 104.87h.85v.85h-.85zM458.13 98.71h.85v.85h-.85zM461.2 103.59h.85v.85h-.85zM460.72 104.65h.85v.85h-.85zM456.73 102.36h.85v.85h-.85zM455.11 98.4h.85v.85h-.85zM454.74 106.92h.85v.85h-.85zM464.43 102.89h.85v.85h-.85zM462.79 103.08h.85v.85h-.85zM454.44 106.34h.85v.85h-.85zM464.96 87.98h.85v.85h-.85zM456.82 106.36h.85v.85h-.85zM455.22 99.67h.85v.85h-.85zM460.27 94.78h.85v.85h-.85zM458.07 103.81h.85v.85h-.85zM456.67 103.99h.85v.85h-.85zM457.36 98.64h.85v.85h-.85zM462.37 97.68h.85v.85h-.85zM460.7 102.84h.85v.85h-.85zM466.19 105.51h.85v.85h-.85zM459.75 87.57h.85v.85h-.85zM462.54 96.79h.85v.85h-.85zM464.81 106.48h.85v.85h-.85zM456.04 103.65h.85v.85h-.85zM463.09 104.3h.85v.85h-.85zM457.64 105.15h.85v.85h-.85zM468.16 98.07h.85v.85h-.85zM464.6 100.38h.85v.85h-.85zM465.18 100.51h.85v.85h-.85zM456.31 105.73h.85v.85h-.85zM459.75 107.12h.85v.85h-.85zM460.44 89.79h.85v.85h-.85zM461.16 104.8h.85v.85h-.85zM460.66 95.63h.85v.85h-.85zM454.85 105.63h.85v.85h-.85zM453.52 106.03h.85v.85h-.85zM463.13 104.62h.85v.85h-.85zM454.74 106.6h.85v.85h-.85zM470.83 107.17h.85v.85h-.85zM454.46 106.86h.85v.85h-.85zM468.12 101.38h.85v.85h-.85zM472.06 104.88h.85v.85h-.85zM456.82 101.58h.85v.85h-.85zM456.73 104.02h.85v.85h-.85zM461.53 101.41h.85v.85h-.85zM466.44 103.38h.85v.85h-.85zM457.76 97.57h.85v.85h-.85zM460.92 100.84h.85v.85h-.85zM454.79 102.53h.85v.85h-.85zM455.97 103.84h.85v.85h-.85zM472.42 105.62h.85v.85h-.85zM462.41 106.07h.85v.85h-.85zM459.12 101.26h.85v.85h-.85zM462.68 88.8h.85v.85h-.85zM457.32 105.89h.85v.85h-.85zM453.57 106.9h.85v.85h-.85zM457.66 98.88h.85v.85h-.85zM458.35 102.2h.85v.85h-.85zM460.11 102.76h.85v.85h-.85zM454.36 104.86h.85v.85h-.85zM463.75 95.78h.85v.85h-.85zM460.28 89.36h.85v.85h-.85zM463.83 103.12h.85v.85h-.85zM455.34 106.17h.85v.85h-.85zM455.08 103.12h.85v.85h-.85zM457.68 100.17h.85v.85h-.85zM458.53 100.37h.85v.85h-.85zM458.51 100.09h.85v.85h-.85zM457.48 89.69h.85v.85h-.85zM462.66 98.03h.85v.85h-.85zM464.06 98.8h.85v.85h-.85zM458.85 95.9h.85v.85h-.85zM460.48 103.52h.85v.85h-.85zM465.15 93.75h.85v.85h-.85zM457.84 101.94h.85v.85h-.85zM457.63 91.74h.85v.85h-.85zM459.52 102.35h.85v.85h-.85zM457.38 101.67h.85v.85h-.85zM466.79 103.62h.85v.85h-.85zM467.71 102.4h.85v.85h-.85zM454.91 105.49h.85v.85h-.85zM460.8 95.27h.85v.85h-.85zM458.75 105.12h.85v.85h-.85zM458.12 103.87h.85v.85h-.85zM456.14 89.95h.85v.85h-.85zM459.99 101.8h.85v.85h-.85zM461.86 102.61h.85v.85h-.85zM455.2 97.86h.85v.85h-.85zM465.44 99.8h.85v.85h-.85zM457.59 93.31h.85v.85h-.85zM457.34 104.93h.85v.85h-.85zM456.12 104.93h.85v.85h-.85zM456.42 102.78h.85v.85h-.85zM461.88 105.64h.85v.85h-.85zM458.33 93.05h.85v.85h-.85zM469.24 107.63h.85v.85h-.85zM460.14 95.57h.85v.85h-.85zM456.55 106.07h.85v.85h-.85zM460.78 106.4h.85v.85h-.85zM459.97 83.74h.85v.85h-.85zM461.89 105.98h.85v.85h-.85zM457.89 103.48h.85v.85h-.85zM462.56 106.67h.85v.85h-.85zM458.23 106.75h.85v.85h-.85zM462.29 103.5h.85v.85h-.85zM468.04 93.94h.85v.85h-.85zM462.12 85.5h.85v.85h-.85zM463.14 103.56h.85v.85h-.85zM459.24 96.37h.85v.85h-.85zM470.69 107.55h.85v.85h-.85zM456.73 107.53h.85v.85h-.85zM455 102.41h.85v.85h-.85zM455.62 101.59h.85v.85h-.85zM472.36 101.41h.85v.85h-.85zM460.85 103.89h.85v.85h-.85zM458.59 102.2h.85v.85h-.85zM468.44 101.17h.85v.85h-.85zM458.47 105.62h.85v.85h-.85zM460.38 102.35h.85v.85h-.85zM455.76 102.15h.85v.85h-.85zM464.43 103.84h.85v.85h-.85zM454.9 107.1h.85v.85h-.85zM462.01 99.54h.85v.85h-.85zM469.53 97.75h.85v.85h-.85zM459.56 91.44h.85v.85h-.85zM462.5 102.77h.85v.85h-.85zM463.84 91.57h.85v.85h-.85zM461.51 102.54h.85v.85h-.85zM461.22 97.64h.85v.85h-.85zM457.82 103.03h.85v.85h-.85zM455.07 105.17h.85v.85h-.85zM462.76 97.9h.85v.85h-.85zM459.88 104.65h.85v.85h-.85zM462.93 104.16h.85v.85h-.85zM465.56 106.95h.85v.85h-.85zM454.92 106.95h.85v.85h-.85zM462.51 101.21h.85v.85h-.85zM465.32 98.04h.85v.85h-.85zM464.79 99.05h.85v.85h-.85zM460.29 103.46h.85v.85h-.85zM456.14 99.54h.85v.85h-.85zM465.68 91.63h.85v.85h-.85zM456.76 98.54h.85v.85h-.85zM462.56 100.97h.85v.85h-.85zM460.34 102.34h.85v.85h-.85zM456.24 107.1h.85v.85h-.85zM460.86 76.67h.85v.85h-.85zM462.84 103.57h.85v.85h-.85zM462.69 104.89h.85v.85h-.85zM457.03 94.29h.85v.85h-.85zM458.08 106.4h.85v.85h-.85zM463.79 103.99h.85v.85h-.85zM456.52 103.48h.85v.85h-.85zM460.54 107.33h.85v.85h-.85zM457.02 102.54h.85v.85h-.85zM457.69 103.99h.85v.85h-.85zM457.46 105.18h.85v.85h-.85zM461.26 98.6h.85v.85h-.85zM457.95 103.94h.85v.85h-.85zM460.23 104.99h.85v.85h-.85zM455.56 106.19h.85v.85h-.85zM458.67 100.71h.85v.85h-.85zM458.02 103.96h.85v.85h-.85zM462.28 101.21h.85v.85h-.85zM459.73 103.05h.85v.85h-.85zM460.29 101.69h.85v.85h-.85zM462.12 94.9h.85v.85h-.85zM473.61 98.78h.85v.85h-.85zM460.68 99.47h.85v.85h-.85zM456.05 105.87h.85v.85h-.85zM472.12 100.98h.85v.85h-.85zM458.92 102.06h.85v.85h-.85zM462.25 103.24h.85v.85h-.85zM461.99 106.19h.85v.85h-.85zM457.71 99.48h.85v.85h-.85zM457.12 104.63h.85v.85h-.85zM465.86 103.71h.85v.85h-.85zM462.52 103.59h.85v.85h-.85zM456.58 95.68h.85v.85h-.85zM462.53 106.26h.85v.85h-.85zM464.17 106.66h.85v.85h-.85zM456.19 102.2h.85v.85h-.85zM457.4 98.17h.85v.85h-.85zM461.11 99.91h.85v.85h-.85zM454.25 103.9h.85v.85h-.85zM454.97 101.44h.85v.85h-.85zM456.61 104.57h.85v.85h-.85zM458.32 102.85h.85v.85h-.85zM459.69 104.33h.85v.85h-.85zM460.87 96.16h.85v.85h-.85zM455.92 106.91h.85v.85h-.85zM458.7 99.91h.85v.85h-.85zM461.94 85.67h.85v.85h-.85zM454.38 102.41h.85v.85h-.85zM462.37 105.58h.85v.85h-.85zM462.96 103.46h.85v.85h-.85zM459.15 103.9h.85v.85h-.85zM469.88 95.38h.85v.85h-.85zM457.86 101.02h.85v.85h-.85zM458.74 91.39h.85v.85h-.85zM458.35 98.94h.85v.85h-.85zM457.29 102.72h.85v.85h-.85zM456.03 99.74h.85v.85h-.85zM461.74 101.58h.85v.85h-.85zM458.32 96.44h.85v.85h-.85zM461.41 102.5h.85v.85h-.85zM461.31 92.14h.85v.85h-.85zM455.66 92.84h.85v.85h-.85zM453.58 105.66h.85v.85h-.85zM475.95 94.97h.85v.85h-.85zM460.3 90.35h.85v.85h-.85zM463.32 106.91h.85v.85h-.85zM457.79 106.72h.85v.85h-.85zM459.59 98.32h.85v.85h-.85zM458.21 100.29h.85v.85h-.85zM460.81 82.7h.85v.85h-.85zM454.93 105.96h.85v.85h-.85zM456.55 107.49h.85v.85h-.85zM459.83 105.38h.85v.85h-.85zM454.47 101.32h.85v.85h-.85zM459.28 97.82h.85v.85h-.85zM458.11 107.04h.85v.85h-.85zM460.21 103.25h.85v.85h-.85zM457.78 103.92h.85v.85h-.85zM457.61 98.6h.85v.85h-.85zM462.53 99.94h.85v.85h-.85zM465.48 105.95h.85v.85h-.85zM463.44 92.08h.85v.85h-.85zM458.99 96h.85v.85h-.85zM459.24 107.43h.85v.85h-.85zM454.56 103.8h.85v.85h-.85zM457.39 97.26h.85v.85h-.85zM463.36 96.03h.85v.85h-.85zM464.44 104.66h.85v.85h-.85zM456.67 97.66h.85v.85h-.85zM462.94 101.98h.85v.85h-.85zM463.78 107.56h.85v.85h-.85zM457.76 104.98h.85v.85h-.85zM468.07 94.76h.85v.85h-.85zM454.58 101.71h.85v.85h-.85zM466.72 98.61h.85v.85h-.85zM460.94 99.75h.85v.85h-.85zM463.85 103.46h.85v.85h-.85zM456.23 106.94h.85v.85h-.85zM455.4 103.35h.85v.85h-.85zM456.55 97.95h.85v.85h-.85zM458.54 104.21h.85v.85h-.85zM459.67 98.64h.85v.85h-.85zM458.47 101.37h.85v.85h-.85zM461.36 104.07h.85v.85h-.85zM459.17 102.11h.85v.85h-.85zM464.55 107.35h.85v.85h-.85zM455.93 100.22h.85v.85h-.85zM461.67 95.73h.85v.85h-.85zM467.61 98.93h.85v.85h-.85zM456.79 103.03h.85v.85h-.85zM455.92 102.8h.85v.85h-.85zM472.43 102.97h.85v.85h-.85zM460.73 104.9h.85v.85h-.85zM466.44 105.21h.85v.85h-.85zM461.87 94.72h.85v.85h-.85zM459.51 96.73h.85v.85h-.85zM470.09 103.42h.85v.85h-.85zM454.8 102.22h.85v.85h-.85zM461.46 101.93h.85v.85h-.85zM460.85 99.7h.85v.85h-.85zM458.27 85.83h.85v.85h-.85zM462.28 105.04h.85v.85h-.85zM458.29 104.84h.85v.85h-.85zM461.89 105.63h.85v.85h-.85zM462.48 105.35h.85v.85h-.85zM467.02 103.96h.85v.85h-.85zM463.37 102.34h.85v.85h-.85zM458.62 105.76h.85v.85h-.85zM467.61 88.18h.85v.85h-.85zM459.28 90.45h.85v.85h-.85zM457.58 101.77h.85v.85h-.85zM463.72 103.67h.85v.85h-.85zM463.62 106.48h.85v.85h-.85zM459.97 102.32h.85v.85h-.85zM456.6 100.24h.85v.85h-.85zM476.46 105.88h.85v.85h-.85zM461.79 100.36h.85v.85h-.85zM458 99.68h.85v.85h-.85zM456.54 90.22h.85v.85h-.85zM460.76 97.64h.85v.85h-.85zM464.18 104.11h.85v.85h-.85zM460.76 97.51h.85v.85h-.85zM453.65 104.91h.85v.85h-.85zM459.16 94.28h.85v.85h-.85zM457.52 100.7h.85v.85h-.85zM460.8 105.68h.85v.85h-.85zM454.74 104.57h.85v.85h-.85zM456.54 101.07h.85v.85h-.85zM462.13 106.12h.85v.85h-.85zM459.43 106.93h.85v.85h-.85zM455.92 100.19h.85v.85h-.85zM458.88 101.81h.85v.85h-.85zM470.77 107.49h.85v.85h-.85zM463.15 104.03h.85v.85h-.85zM462.14 101.21h.85v.85h-.85zM457.31 99.4h.85v.85h-.85zM469.49 99.64h.85v.85h-.85zM455.33 105.46h.85v.85h-.85zM454.96 106.03h.85v.85h-.85zM457.45 101.6h.85v.85h-.85zM455.49 104.01h.85v.85h-.85zM456.36 105.43h.85v.85h-.85zM464.61 106.69h.85v.85h-.85zM463.72 104.59h.85v.85h-.85zM454.23 104.6h.85v.85h-.85zM458.86 91.69h.85v.85h-.85zM459.39 95.69h.85v.85h-.85zM457.58 100.4h.85v.85h-.85zM460.3 102.3h.85v.85h-.85zM456.6 101.87h.85v.85h-.85zM456.01 106h.85v.85h-.85zM463.04 91.29h.85v.85h-.85zM457.03 104.22h.85v.85h-.85zM455.7 102.76h.85v.85h-.85zM459.46 104.3h.85v.85h-.85zM458.09 104.22h.85v.85h-.85zM457.81 103.76h.85v.85h-.85zM459.79 107.44h.85v.85h-.85zM468.97 105.07h.85v.85h-.85zM461.59 91.48h.85v.85h-.85zM456.53 105.28h.85v.85h-.85zM459.27 104.28h.85v.85h-.85zM454.13 107.23h.85v.85h-.85zM460.45 97.97h.85v.85h-.85zM459.71 95.44h.85v.85h-.85zM463.51 104.91h.85v.85h-.85zM460.37 105.2h.85v.85h-.85zM462.15 102.61h.85v.85h-.85zM459.05 99.46h.85v.85h-.85zM456.56 99.09h.85v.85h-.85zM464.36 99.37h.85v.85h-.85zM456.9 102.55h.85v.85h-.85zM456.31 94.21h.85v.85h-.85zM464.81 103.51h.85v.85h-.85zM455.74 99.95h.85v.85h-.85zM462.61 103.54h.85v.85h-.85zM465.23 103.38h.85v.85h-.85zM460.95 90.29h.85v.85h-.85zM462.69 102.42h.85v.85h-.85zM466.82 97.27h.85v.85h-.85zM458.89 105.99h.85v.85h-.85zM460.74 104.34h.85v.85h-.85zM470.48 103.05h.85v.85h-.85zM456.27 88.89h.85v.85h-.85zM462.97 102.7h.85v.85h-.85zM464.4 104.55h.85v.85h-.85zM461.59 101.86h.85v.85h-.85zM455.62 104.01h.85v.85h-.85zM455.11 105.42h.85v.85h-.85zM455.27 103.66h.85v.85h-.85zM469.8 102.12h.85v.85h-.85zM455.65 101.06h.85v.85h-.85zM455.43 101.76h.85v.85h-.85zM463.99 100.93h.85v.85h-.85zM456.17 100.02h.85v.85h-.85zM455.59 100.23h.85v.85h-.85zM459.49 100.7h.85v.85h-.85zM457.88 104.71h.85v.85h-.85zM456.48 103.75h.85v.85h-.85zM459.11 101.43h.85v.85h-.85zM457.46 105.6h.85v.85h-.85zM469.06 104.51h.85v.85h-.85zM462.18 100.35h.85v.85h-.85zM460.79 92.95h.85v.85h-.85zM456.96 104.18h.85v.85h-.85zM457.45 99.51h.85v.85h-.85zM468.9 107.04h.85v.85h-.85zM458.56 100.13h.85v.85h-.85zM464.41 92.24h.85v.85h-.85zM457.51 96.06h.85v.85h-.85zM459.76 105.15h.85v.85h-.85zM455.93 106.18h.85v.85h-.85zM457.96 99.81h.85v.85h-.85zM456.26 105.64h.85v.85h-.85zM455.64 103.65h.85v.85h-.85zM461.4 103.61h.85v.85h-.85zM457.42 101.85h.85v.85h-.85zM459.48 101.62h.85v.85h-.85zM461.26 106.01h.85v.85h-.85zM463.01 101.81h.85v.85h-.85zM461.67 103.08h.85v.85h-.85zM468.3 104.57h.85v.85h-.85zM456.35 96.48h.85v.85h-.85zM471.04 101.67h.85v.85h-.85zM468.25 90.65h.85v.85h-.85zM459.64 97.78h.85v.85h-.85zM455.17 101.19h.85v.85h-.85zM455.69 104.19h.85v.85h-.85zM457.19 96.37h.85v.85h-.85zM464.23 80.97h.85v.85h-.85zM462.04 107.39h.85v.85h-.85zM455.77 98.1h.85v.85h-.85zM461.41 100.3h.85v.85h-.85zM459.39 103.33h.85v.85h-.85zM455.65 100.2h.85v.85h-.85zM454.68 103.1h.85v.85h-.85zM455.59 106.18h.85v.85h-.85zM456.37 105.84h.85v.85h-.85zM458.72 96.01h.85v.85h-.85zM464.69 103.46h.85v.85h-.85zM468.52 106.71h.85v.85h-.85zM461.47 107.13h.85v.85h-.85zM466.14 102.67h.85v.85h-.85zM463.42 102.43h.85v.85h-.85zM458 102.14h.85v.85h-.85zM465.93 107.02h.85v.85h-.85zM466.76 103.36h.85v.85h-.85zM467.67 101.73h.85v.85h-.85zM456.77 105.83h.85v.85h-.85zM460.43 104.18h.85v.85h-.85zM460.74 90.31h.85v.85h-.85zM467.77 106.92h.85v.85h-.85zM459.74 84.76h.85v.85h-.85zM470.91 94.32h.85v.85h-.85zM456.73 100.63h.85v.85h-.85zM460.08 96.61h.85v.85h-.85zM467.32 101.81h.85v.85h-.85zM463.85 106.45h.85v.85h-.85zM465.66 98.79h.85v.85h-.85zM454.86 106.65h.85v.85h-.85zM459.03 96.09h.85v.85h-.85zM460 102.66h.85v.85h-.85zM462.97 103.06h.85v.85h-.85zM468.29 104.79h.85v.85h-.85zM457.13 105.08h.85v.85h-.85zM455.48 105.72h.85v.85h-.85zM457.41 102.22h.85v.85h-.85zM455.04 104.24h.85v.85h-.85zM469.42 103.77h.85v.85h-.85zM462.06 87.19h.85v.85h-.85zM457.01 99.91h.85v.85h-.85zM460.35 95.06h.85v.85h-.85zM457.61 86.51h.85v.85h-.85zM455.94 101.1h.85v.85h-.85zM458.49 105.5h.85v.85h-.85zM466.39 99.49h.85v.85h-.85zM458.9 101.48h.85v.85h-.85zM462.35 106.14h.85v.85h-.85zM455.18 104.35h.85v.85h-.85zM458.52 94.93h.85v.85h-.85zM463.93 99.63h.85v.85h-.85zM467.89 105.33h.85v.85h-.85zM465.62 88.67h.85v.85h-.85zM458.07 104.39h.85v.85h-.85zM463.19 106.13h.85v.85h-.85zM455.51 103.68h.85v.85h-.85zM454.24 106h.85v.85h-.85zM461.53 106.58h.85v.85h-.85zM461.01 104.05h.85v.85h-.85zM464.63 91.71h.85v.85h-.85zM458.86 97.61h.85v.85h-.85zM465.48 104.8h.85v.85h-.85zM464.64 102.81h.85v.85h-.85zM459.52 99.27h.85v.85h-.85zM460.15 106.73h.85v.85h-.85zM456.14 95.8h.85v.85h-.85zM463.25 103.45h.85v.85h-.85zM456.62 100.55h.85v.85h-.85zM460.14 105.45h.85v.85h-.85zM458.05 97.77h.85v.85h-.85zM459.49 84.17h.85v.85h-.85zM458.64 92.91h.85v.85h-.85zM464.77 107.57h.85v.85h-.85zM454.46 106.58h.85v.85h-.85zM470.31 94.73h.85v.85h-.85zM468.34 96.02h.85v.85h-.85zM463.56 102.6h.85v.85h-.85zM468.64 99.06h.85v.85h-.85zM461.04 93.39h.85v.85h-.85zM460.13 103.37h.85v.85h-.85zM458.49 102.65h.85v.85h-.85zM465.36 94.54h.85v.85h-.85zM473.52 102.27h.85v.85h-.85zM464.49 103.57h.85v.85h-.85zM456.32 104.41h.85v.85h-.85zM457.72 105.61h.85v.85h-.85zM456.63 100.74h.85v.85h-.85zM459.91 98.14h.85v.85h-.85zM456.42 99.03h.85v.85h-.85zM462.32 92.16h.85v.85h-.85zM455.57 104.04h.85v.85h-.85zM458.79 105.38h.85v.85h-.85zM456.57 104.08h.85v.85h-.85zM455.98 105.39h.85v.85h-.85zM461.33 104.78h.85v.85h-.85zM461.67 94.19h.85v.85h-.85zM458.66 105.31h.85v.85h-.85zM457.02 97.36h.85v.85h-.85zM459.46 82.09h.85v.85h-.85zM463.27 106.75h.85v.85h-.85zM459.79 100.82h.85v.85h-.85zM463.7 89.83h.85v.85h-.85zM459.56 102.4h.85v.85h-.85zM461.71 105.85h.85v.85h-.85zM464.89 103.87h.85v.85h-.85zM460.87 86.89h.85v.85h-.85zM460.88 82.81h.85v.85h-.85zM457.53 98.85h.85v.85h-.85zM464.45 101.39h.85v.85h-.85zM456.74 100.44h.85v.85h-.85zM453.98 103.09h.85v.85h-.85zM471.6 95.41h.85v.85h-.85zM463.93 106.01h.85v.85h-.85zM466.94 97.26h.85v.85h-.85zM455.5 105.58h.85v.85h-.85zM464 99.25h.85v.85h-.85zM469.12 105.21h.85v.85h-.85zM456.18 106.17h.85v.85h-.85zM457.56 107.64h.85v.85h-.85zM456.51 98.07h.85v.85h-.85zM465.42 103.03h.85v.85h-.85zM466.2 106.26h.85v.85h-.85zM464.32 101.74h.85v.85h-.85zM463.49 97.67h.85v.85h-.85zM461.6 105.94h.85v.85h-.85zM457.26 107.28h.85v.85h-.85zM460.61 96.13h.85v.85h-.85zM456.6 102.86h.85v.85h-.85zM463.59 98.97h.85v.85h-.85zM464.81 105.96h.85v.85h-.85zM457.29 105.28h.85v.85h-.85zM460.08 82.52h.85v.85h-.85zM455.12 105.17h.85v.85h-.85zM467.24 101.77h.85v.85h-.85zM460.49 106.73h.85v.85h-.85zM454.13 104.57h.85v.85h-.85zM463.82 104.16h.85v.85h-.85zM458.19 103.42h.85v.85h-.85zM458.95 106.66h.85v.85h-.85zM455.26 103.89h.85v.85h-.85zM457.77 97.59h.85v.85h-.85zM465.57 104.93h.85v.85h-.85zM455.18 103.55h.85v.85h-.85zM457.5 100.56h.85v.85h-.85zM458.53 103.3h.85v.85h-.85zM456.55 92.2h.85v.85h-.85zM468.85 102.13h.85v.85h-.85zM458.79 97.78h.85v.85h-.85zM461.16 105.67h.85v.85h-.85zM461.45 94.49h.85v.85h-.85zM456.12 106.03h.85v.85h-.85zM462.52 97.57h.85v.85h-.85zM466.85 99.13h.85v.85h-.85zM440.7 99.56h.85v.85h-.85zM467.62 105.48h.85v.85h-.85zM443.44 94.26h.85v.85h-.85zM464.05 93.2h.85v.85h-.85zM474.99 100.93h.85v.85h-.85zM442.86 105.23h.85v.85h-.85zM436.83 99.71h.85v.85h-.85zM464.18 100.8h.85v.85h-.85zM427.81 94.74h.85v.85h-.85zM471.81 94.57h.85v.85h-.85zM460.54 100.59h.85v.85h-.85zM460.17 98.28h.85v.85h-.85zM468.36 93.92h.85v.85h-.85zM431.09 104.87h.85v.85h-.85zM456.99 103.54h.85v.85h-.85zM458.49 100.6h.85v.85h-.85zM472.67 96.06h.85v.85h-.85zM464 105.76h.85v.85h-.85zM428.47 82.5h.85v.85h-.85zM471.06 98.29h.85v.85h-.85zM463.46 85.61h.85v.85h-.85zM430.18 104.36h.85v.85h-.85zM468.44 104.17h.85v.85h-.85zM442.38 100.52h.85v.85h-.85zM468.81 80.83h.85v.85h-.85zM475.02 79.41h.85v.85h-.85zM473.25 101.82h.85v.85h-.85zM459.01 94.78h.85v.85h-.85zM446.86 105.44h.85v.85h-.85zM443.66 84.2h.85v.85h-.85zM468.22 104.34h.85v.85h-.85zM457.43 103.95h.85v.85h-.85zM429.75 103.14h.85v.85h-.85zM447.8 102.21h.85v.85h-.85zM470.06 79.49h.85v.85h-.85zM474.13 101.01h.85v.85h-.85zM460.2 102.62h.85v.85h-.85zM470.05 86h.85v.85h-.85zM432.41 89.32h.85v.85h-.85zM476.27 105.85h.85v.85h-.85zM462.85 96.13h.85v.85h-.85zM458.83 101.57h.85v.85h-.85zM464.16 98h.85v.85h-.85zM440.5 105.66h.85v.85h-.85zM467.7 90.03h.85v.85h-.85zM469.61 102.55h.85v.85h-.85zM470.16 102.34h.85v.85h-.85zM433.56 90.97h.85v.85h-.85zM461.43 99.96h.85v.85h-.85zM477.69 100.57h.85v.85h-.85zM427.37 92.75h.85v.85h-.85zM468.06 97.86h.85v.85h-.85zM475.53 89.13h.85v.85h-.85zM443.38 87.36h.85v.85h-.85zM473.84 103.45h.85v.85h-.85zM446.97 83.87h.85v.85h-.85zM471.43 105.5h.85v.85h-.85zM441.72 103.59h.85v.85h-.85z" fill="#e8242c"/>
<path d="M441.24 109.43h1v1h-1zM447.09 115.3h1v1h-1zM451.25 108.72h1v1h-1zM449.41 111.87h1v1h-1zM458.69 113.69h1v1h-1zM458.99 112.65h1v1h-1zM458.67 115.19h1v1h-1zM462.47 109.61h1v1h-1zM447.98 109.04h1v1h-1zM454.87 114.44h1v1h-1zM446.14 112.31h1v1h-1zM453.78 115.07h1v1h-1zM449.99 113.85h1v1h-1zM446.07 111.41h1v1h-1zM446.27 113.43h1v1h-1zM455.9 113.81h1v1h-1zM465.41 107.75h1v1h-1zM458.22 115.08h1v1h-1zM443.07 109.54h1v1h-1zM443.53 107.98h1v1h-1zM462.23 108.65h1v1h-1zM449.43 112.76h1v1h-1zM454.31 114.97h1v1h-1zM454.95 108.83h1v1h-1zM458.62 110.62h1v1h-1zM456.77 112.29h1v1h-1zM445.48 107.7h1v1h-1zM443.39 108.55h1v1h-1zM455.2 114.49h1v1h-1zM447.2 115.15h1v1h-1zM462.16 108.75h1v1h-1zM439.06 110.18h1v1h-1zM443.28 109.74h1v1h-1zM460.16 111.76h1v1h-1zM444.52 110.5h1v1h-1zM461.71 109.71h1v1h-1zM462.59 108.34h1v1h-1zM458.43 114.1h1v1h-1zM460.96 111.72h1v1h-1zM443.87 109.29h1v1h-1zM447.16 113.25h1v1h-1zM450.09 108.64h1v1h-1zM461.45 110.77h1v1h-1zM462.53 107.67h1v1h-1zM451.52 112.78h1v1h-1zM459.49 113.3h1v1h-1zM461.15 110.58h1v1h-1zM449.03 113.51h1v1h-1zM449 111.94h1v1h-1zM456.25 109.2h1v1h-1zM457.16 114.69h1v1h-1zM458.74 111.18h1v1h-1zM450.71 114.94h1v1h-1zM458.87 113.61h1v1h-1zM463.6 108.87h1v1h-1zM456.83 112.95h1v1h-1zM453.3 110.01h1v1h-1zM455.33 111.46h1v1h-1zM449.31 108.54h1v1h-1zM461.75 109.81h1v1h-1zM456.35 111.5h1v1h-1zM457.93 112.75h1v1h-1zM454.42 109.62h1v1h-1zM445.51 109.4h1v1h-1zM448.56 113.9h1v1h-1zM442.72 110.96h1v1h-1zM450.54 111.56h1v1h-1zM440.99 108.83h1v1h-1zM449.87 114.81h1v1h-1zM451.09 111.87h1v1h-1zM456.48 109.69h1v1h-1zM447.88 114.71h1v1h-1zM456.85 115.06h1v1h-1zM454.99 112.63h1v1h-1zM455.68 114.88h1v1h-1zM446.7 112.97h1v1h-1zM443.58 109h1v1h-1zM447.44 109.67h1v1h-1zM458.92 114.04h1v1h-1zM448.93 111.82h1v1h-1zM456.35 111.8h1v1h-1zM450.22 107.77h1v1h-1zM455.11 114.18h1v1h-1zM456.09 111.9h1v1h-1zM457.39 110.12h1v1h-1zM441.6 110.94h1v1h-1zM453.03 113.29h1v1h-1zM452.85 113.44h1v1h-1zM459.17 113.64h1v1h-1zM455.66 114.48h1v1h-1zM443.65 112.22h1v1h-1zM451.32 115.1h1v1h-1zM456.92 111.15h1v1h-1zM438.5 110.14h1v1h-1zM448.65 114.74h1v1h-1zM450.01 114.23h1v1h-1zM441.18 109.11h1v1h-1zM455.04 112.77h1v1h-1zM457.87 112.09h1v1h-1zM448.96 108.61h1v1h-1zM453.51 109.22h1v1h-1zM448.31 112.45h1v1h-1zM454.35 113.82h1v1h-1zM440.08 108.6h1v1h-1zM456.83 113.16h1v1h-1zM463.72 110.43h1v1h-1zM448.26 113.31h1v1h-1zM446.38 110.54h1v1h-1zM457.78 111.39h1v1h-1zM451.04 110.87h1v1h-1zM457.9 113.36h1v1h-1zM444.53 114.52h1v1h-1zM454.44 113.02h1v1h-1zM446.94 108.33h1v1h-1zM458.4 111.61h1v1h-1zM442.7 112.18h1v1h-1zM458.13 110.23h1v1h-1zM448.95 114.65h1v1h-1zM448.06 115.22h1v1h-1zM459.62 112.15h1v1h-1zM439.01 109.65h1v1h-1zM446.48 108.69h1v1h-1zM448.49 113.77h1v1h-1zM446.56 114.21h1v1h-1zM450.97 112.86h1v1h-1zM440.98 109.12h1v1h-1zM445.39 111.87h1v1h-1zM447.89 114.26h1v1h-1zM443.33 112.15h1v1h-1zM447.25 113.64h1v1h-1zM450.76 114.35h1v1h-1zM448.01 111.41h1v1h-1zM444.77 111.37h1v1h-1zM445.4 108.9h1v1h-1zM451.43 111.93h1v1h-1zM447.59 107.93h1v1h-1zM463.8 108.15h1v1h-1zM455.66 112.29h1v1h-1zM450.58 114.46h1v1h-1zM440.61 108.31h1v1h-1zM450.69 114.45h1v1h-1zM458.29 114.9h1v1h-1zM457.34 110.93h1v1h-1zM446.16 107.83h1v1h-1zM447.93 114.7h1v1h-1zM451.1 112.18h1v1h-1zM451.47 110.5h1v1h-1zM454.91 108.22h1v1h-1zM451.37 113.53h1v1h-1zM442.34 109.02h1v1h-1zM451.44 111.03h1v1h-1zM445.61 111.43h1v1h-1zM460.7 113.13h1v1h-1zM453.52 112.87h1v1h-1zM453.19 111.62h1v1h-1zM442.75 111.08h1v1h-1zM446.76 111.39h1v1h-1zM447.3 113.57h1v1h-1zM447.35 110.7h1v1h-1zM460.75 107.88h1v1h-1zM442.9 111.83h1v1h-1zM444.83 110.52h1v1h-1zM453.69 114.53h1v1h-1zM454.17 115.1h1v1h-1zM447.16 114.36h1v1h-1zM459.57 113.52h1v1h-1zM460.75 108.49h1v1h-1zM458.51 109.21h1v1h-1zM456.37 109.56h1v1h-1zM450.53 113.06h1v1h-1zM460.47 110.97h1v1h-1zM456.48 114.02h1v1h-1zM448.3 111.99h1v1h-1zM442.68 108.86h1v1h-1zM456.49 107.64h1v1h-1zM459.61 108.4h1v1h-1zM458.59 107.88h1v1h-1zM446.22 111.9h1v1h-1zM453.79 112.07h1v1h-1zM463.29 108.44h1v1h-1zM449.06 115.28h1v1h-1zM456.2 114.75h1v1h-1zM453.75 114.84h1v1h-1zM454.51 115.2h1v1h-1zM466.14 109.26h1v1h-1zM452.97 112.38h1v1h-1zM454.75 113.71h1v1h-1zM453.39 112.37h1v1h-1zM455.97 111.72h1v1h-1zM464.27 108.56h1v1h-1zM453.66 110.8h1v1h-1zM450.95 110.73h1v1h-1zM445.01 109.18h1v1h-1zM466.57 108.07h1v1h-1zM454.43 109.09h1v1h-1zM460.96 110.57h1v1h-1zM456.94 108.88h1v1h-1zM454.49 109.28h1v1h-1zM455.16 113.05h1v1h-1zM446.2 114.26h1v1h-1zM455.04 111.33h1v1h-1zM450.19 109.57h1v1h-1zM447.59 111.59h1v1h-1zM457.31 114.41h1v1h-1zM450.96 108.42h1v1h-1zM453.81 111.71h1v1h-1zM449.06 114.86h1v1h-1zM441.94 111.06h1v1h-1zM447.36 109.09h1v1h-1zM456.85 113.81h1v1h-1zM463.94 111.38h1v1h-1zM454.02 111.63h1v1h-1zM444.87 109.13h1v1h-1zM459.44 108.05h1v1h-1zM441.71 109.43h1v1h-1zM444 112.25h1v1h-1zM444.31 109.1h1v1h-1zM445.67 113.28h1v1h-1zM447.91 109.62h1v1h-1zM445.7 114h1v1h-1zM451.36 113.44h1v1h-1zM441.65 112.46h1v1h-1zM438.88 108.75h1v1h-1zM460.35 111.38h1v1h-1zM445.18 113.38h1v1h-1zM447.96 114.87h1v1h-1zM460.17 107.61h1v1h-1zM446.13 115.13h1v1h-1zM446.02 111.62h1v1h-1zM458.1 112.74h1v1h-1zM454.49 111.57h1v1h-1zM454.63 109.45h1v1h-1zM459.73 111.75h1v1h-1zM455.39 114.88h1v1h-1zM454.9 112.68h1v1h-1zM454.03 114.67h1v1h-1zM459.95 112.08h1v1h-1zM460.26 108.02h1v1h-1zM454.12 111.45h1v1h-1zM449.4 108.07h1v1h-1zM456.73 108.22h1v1h-1zM445.11 111.35h1v1h-1zM455.67 114.24h1v1h-1zM448.99 112.46h1v1h-1zM449.49 112.67h1v1h-1zM455.8 112.56h1v1h-1zM449.99 111.92h1v1h-1zM456.49 112.43h1v1h-1zM449.68 109.13h1v1h-1zM458.91 108.53h1v1h-1zM449.46 114.54h1v1h-1zM445.67 113.93h1v1h-1zM456.38 112.92h1v1h-1zM458.56 109.7h1v1h-1zM457.19 109.28h1v1h-1zM445.22 113.52h1v1h-1zM460.72 111.07h1v1h-1zM454.57 115.21h1v1h-1zM449.88 111.4h1v1h-1zM457.43 113.2h1v1h-1zM440.16 109.37h1v1h-1zM459.09 114.82h1v1h-1zM460.1 112.15h1v1h-1zM446.09 113.73h1v1h-1zM445.84 113.19h1v1h-1zM447.94 110.51h1v1h-1zM446.9 113.66h1v1h-1zM450.89 115.18h1v1h-1zM454.57 109.92h1v1h-1zM453.96 109.8h1v1h-1zM457.69 110.05h1v1h-1zM457.66 114.42h1v1h-1zM447.83 113.11h1v1h-1zM441.19 108.03h1v1h-1zM458.8 113.46h1v1h-1zM446.05 111.25h1v1h-1zM455.09 113.99h1v1h-1zM454.68 109.99h1v1h-1zM460.6 108.71h1v1h-1zM454.41 111.87h1v1h-1zM447.1 109.79h1v1h-1zM453.84 114.96h1v1h-1zM443.15 109.57h1v1h-1zM453.73 113.17h1v1h-1zM440.73 109.57h1v1h-1zM454.2 114.98h1v1h-1zM456.67 113.77h1v1h-1zM447.41 113.73h1v1h-1zM445.02 111.25h1v1h-1zM453.83 114.77h1v1h-1zM455.24 114.24h1v1h-1zM455.71 113.67h1v1h-1zM461.37 109.7h1v1h-1zM459.75 110.9h1v1h-1zM457.67 108.06h1v1h-1zM461.4 107.73h1v1h-1zM464.33 108.23h1v1h-1zM454.16 108.68h1v1h-1zM460.03 111.54h1v1h-1zM458.12 115.07h1v1h-1zM440.63 110.91h1v1h-1zM441.91 107.72h1v1h-1zM441.26 109.52h1v1h-1zM444.03 112.91h1v1h-1zM453.18 111.92h1v1h-1zM464.4 108.25h1v1h-1zM463.97 107.84h1v1h-1zM447.74 111.68h1v1h-1zM456.53 114.72h1v1h-1zM446.97 109.63h1v1h-1zM456.2 111.89h1v1h-1zM445.92 113.42h1v1h-1zM453.26 113.94h1v1h-1zM458.68 111.41h1v1h-1zM457.03 110.7h1v1h-1zM456.23 110.55h1v1h-1zM458.49 110.96h1v1h-1zM455.68 108.33h1v1h-1zM454.28 113.73h1v1h-1zM447.51 114.68h1v1h-1zM453.98 109.53h1v1h-1zM450.62 114.25h1v1h-1zM449.02 111.22h1v1h-1zM455.65 115.15h1v1h-1zM444.61 113.5h1v1h-1zM441.74 109.72h1v1h-1zM456.05 110.37h1v1h-1zM454.45 111.7h1v1h-1zM442.77 109.17h1v1h-1zM458.42 110.08h1v1h-1zM457.95 112.36h1v1h-1zM444.32 113.12h1v1h-1zM446.28 115.21h1v1h-1zM443.73 115.19h1v1h-1zM446.85 111.5h1v1h-1zM444.42 108.08h1v1h-1zM463.27 108.19h1v1h-1zM457.16 111.83h1v1h-1zM445.11 111.33h1v1h-1zM449.86 112.49h1v1h-1zM460.39 111.62h1v1h-1zM455.07 107.99h1v1h-1zM446.6 108.84h1v1h-1zM455.4 111.55h1v1h-1zM450.81 111.63h1v1h-1zM453.33 110.44h1v1h-1zM448.79 112.18h1v1h-1zM444.7 107.79h1v1h-1zM457.18 114.86h1v1h-1zM445.91 107.83h1v1h-1zM448.66 112.78h1v1h-1zM461.96 110.57h1v1h-1zM444.68 115.17h1v1h-1zM444.21 108.28h1v1h-1zM446.79 114.71h1v1h-1zM465 109.35h1v1h-1zM454.41 111.74h1v1h-1zM454.83 113.74h1v1h-1zM454.27 108.13h1v1h-1zM453.29 114.64h1v1h-1zM457.65 108.97h1v1h-1zM461.37 110.95h1v1h-1zM449.79 111.37h1v1h-1zM455.93 108.54h1v1h-1zM446.07 112.94h1v1h-1zM447.93 108.81h1v1h-1zM457.54 110.9h1v1h-1zM448.29 114.57h1v1h-1zM445.81 114.82h1v1h-1zM453.1 113.97h1v1h-1zM447.06 113.16h1v1h-1zM448.13 112.21h1v1h-1zM452.88 112.14h1v1h-1zM463.59 111.91h1v1h-1zM457.54 112.65h1v1h-1zM459.93 110.2h1v1h-1zM457.9 108.62h1v1h-1zM459.5 109.95h1v1h-1zM455.33 111.72h1v1h-1zM447.46 110.69h1v1h-1zM460.38 111.84h1v1h-1zM457.79 109.47h1v1h-1zM442.71 108.36h1v1h-1zM443.74 108.15h1v1h-1zM453.97 109.27h1v1h-1zM454.12 109.78h1v1h-1zM440.19 108.53h1v1h-1zM450.71 111.23h1v1h-1zM447.9 111.42h1v1h-1zM450.18 112.77h1v1h-1zM451.52 114.31h1v1h-1zM462.14 109.76h1v1h-1zM460.7 111.93h1v1h-1zM445.82 112.18h1v1h-1zM457.98 110.85h1v1h-1zM455.65 113.8h1v1h-1zM457.29 114.77h1v1h-1zM453.66 112.86h1v1h-1zM456.91 111.95h1v1h-1zM457.75 113.16h1v1h-1zM451.54 108.58h1v1h-1zM449.94 110.92h1v1h-1zM446.28 111.82h1v1h-1zM457.32 113.52h1v1h-1zM454.3 111.3h1v1h-1zM449.33 114.23h1v1h-1zM449.72 113.34h1v1h-1zM454.7 110.5h1v1h-1zM458.48 113.74h1v1h-1zM462.4 109.04h1v1h-1zM445.35 112.21h1v1h-1zM452.84 108.69h1v1h-1zM455.77 114.45h1v1h-1zM450.28 114.68h1v1h-1zM453.34 111.71h1v1h-1zM447.94 112.47h1v1h-1zM448.11 108.37h1v1h-1zM459.73 108.78h1v1h-1zM460.81 111.75h1v1h-1zM440.28 111.14h1v1h-1zM447.83 112.84h1v1h-1zM453.49 111.88h1v1h-1zM455.99 110.26h1v1h-1zM447.64 108.47h1v1h-1zM456.73 110.54h1v1h-1zM447.6 113.5h1v1h-1zM448.63 110.6h1v1h-1zM449.97 113.29h1v1h-1zM447.22 110.7h1v1h-1zM450.41 114.78h1v1h-1zM447.48 110.85h1v1h-1zM453.91 107.75h1v1h-1zM449.23 115.28h1v1h-1zM461.92 110.94h1v1h-1zM453.28 115.1h1v1h-1zM454.62 114.04h1v1h-1zM443.97 112.56h1v1h-1zM444.09 112.62h1v1h-1zM454.76 109.28h1v1h-1zM456.41 112.07h1v1h-1zM461.37 108.74h1v1h-1zM459.84 110.56h1v1h-1zM449.7 107.9h1v1h-1zM449.78 109.38h1v1h-1zM443.35 111.29h1v1h-1zM438.87 107.94h1v1h-1zM454.6 111.11h1v1h-1zM444.76 113.21h1v1h-1zM454.93 112.34h1v1h-1zM445.38 114.84h1v1h-1zM445.68 108.11h1v1h-1zM450.99 115.26h1v1h-1zM449.59 115.29h1v1h-1zM465.07 108.46h1v1h-1zM447.97 114.3h1v1h-1zM447.13 115.09h1v1h-1zM458.17 114.64h1v1h-1zM446.09 109.73h1v1h-1zM442.73 114.59h1v1h-1zM454.82 109.03h1v1h-1zM458.08 109.06h1v1h-1zM447.5 108.95h1v1h-1zM456.87 113.95h1v1h-1zM450.88 114.64h1v1h-1zM454.99 113.87h1v1h-1zM452.98 111.45h1v1h-1zM446.38 113.24h1v1h-1zM456.7 114.42h1v1h-1zM448.11 110.81h1v1h-1zM441.36 111.28h1v1h-1zM440.88 108.71h1v1h-1zM449.83 112.74h1v1h-1zM455.67 112.24h1v1h-1zM455.97 112.47h1v1h-1zM450.47 110.89h1v1h-1zM446.86 110.6h1v1h-1zM457.4 108.62h1v1h-1zM456.68 113.42h1v1h-1zM443.66 111.63h1v1h-1zM447.84 114.01h1v1h-1zM456.72 111.79h1v1h-1zM446.74 115.1h1v1h-1zM449.26 113.25h1v1h-1zM449.26 112.33h1v1h-1zM461.3 109.37h1v1h-1zM449.44 110.2h1v1h-1zM461.76 110.79h1v1h-1zM450.45 109.22h1v1h-1zM449.48 108.9h1v1h-1zM456.17 110.33h1v1h-1zM446.72 114.84h1v1h-1zM452.88 109.87h1v1h-1zM458.58 114.3h1v1h-1zM460.64 109.65h1v1h-1zM464.27 108.63h1v1h-1zM455.72 110.17h1v1h-1zM451.03 114.8h1v1h-1zM446.9 107.99h1v1h-1zM453.22 114.33h1v1h-1zM436.21 109.29h1v1h-1zM444.4 112.97h1v1h-1zM457.11 110.53h1v1h-1zM445.27 113.96h1v1h-1zM459.93 113.15h1v1h-1zM446.08 113.65h1v1h-1zM457.13 114.56h1v1h-1zM438.43 109.99h1v1h-1zM450.28 112.24h1v1h-1zM455.4 113.94h1v1h-1zM453.21 110.75h1v1h-1zM458.7 110.54h1v1h-1zM446.92 107.63h1v1h-1zM457.83 112.16h1v1h-1zM457.75 112.62h1v1h-1zM458.78 110.83h1v1h-1zM462.85 107.63h1v1h-1zM440.2 108.97h1v1h-1zM447.4 114.45h1v1h-1zM458.99 108.03h1v1h-1zM458.95 108.72h1v1h-1zM451.46 113.25h1v1h-1zM445.34 113.64h1v1h-1zM439.55 108.98h1v1h-1zM442.61 111.94h1v1h-1zM455.52 110.38h1v1h-1zM449.37 112.62h1v1h-1zM460.28 109.72h1v1h-1zM456.29 110.3h1v1h-1zM454.06 114.96h1v1h-1zM455.39 107.97h1v1h-1zM453.66 114.97h1v1h-1zM459.71 113.2h1v1h-1zM448.44 114.42h1v1h-1zM442.77 114.02h1v1h-1zM443.78 113.75h1v1h-1zM455.27 110.9h1v1h-1zM447.4 114.61h1v1h-1zM439.83 107.86h1v1h-1zM449.67 111.4h1v1h-1zM444.24 113.08h1v1h-1zM450.98 110.8h1v1h-1zM441.03 112.45h1v1h-1zM447.24 109.25h1v1h-1zM448.55 113.21h1v1h-1zM459.27 112.92h1v1h-1zM445.76 111.75h1v1h-1zM448.52 112.81h1v1h-1zM446.79 114.15h1v1h-1zM445.27 113.58h1v1h-1zM451.07 109.51h1v1h-1zM448.11 113.67h1v1h-1zM458.56 108.77h1v1h-1zM447.02 111.08h1v1h-1zM459.1 111.33h1v1h-1zM446.81 111.71h1v1h-1zM449.04 114.17h1v1h-1zM457.03 112.83h1v1h-1zM445.74 109.42h1v1h-1zM457.66 108.99h1v1h-1zM444.99 109.94h1v1h-1zM456.95 113h1v1h-1zM460.38 111.98h1v1h-1zM443.23 109.05h1v1h-1zM450.75 109.07h1v1h-1zM454.29 114.78h1v1h-1zM450.98 114.57h1v1h-1zM453.89 113.08h1v1h-1zM446.84 111.86h1v1h-1zM455.18 111.13h1v1h-1zM459.42 111.8h1v1h-1zM458.48 112.77h1v1h-1zM445.8 114.12h1v1h-1zM457.85 113.78h1v1h-1zM453.39 111.31h1v1h-1zM453.06 114.88h1v1h-1zM444.31 112.16h1v1h-1zM455.56 110.63h1v1h-1zM462.4 108.66h1v1h-1zM450.66 112.4h1v1h-1zM454.59 115.1h1v1h-1zM447.94 108.62h1v1h-1zM447.49 113.09h1v1h-1zM458.1 112.33h1v1h-1zM453.66 110.91h1v1h-1zM446.91 114.01h1v1h-1zM440.81 109.1h1v1h-1zM457.71 112.71h1v1h-1zM454.09 110.74h1v1h-1zM443.21 108.77h1v1h-1zM460.59 108.74h1v1h-1zM450.18 109.22h1v1h-1zM454.18 113.22h1v1h-1zM456.78 113.45h1v1h-1zM446.39 111.02h1v1h-1zM449.62 111.32h1v1h-1zM447.31 111.97h1v1h-1zM466.37 108.5h1v1h-1zM455.33 111.16h1v1h-1zM447.24 114.79h1v1h-1zM447.83 111.17h1v1h-1zM447.26 109.25h1v1h-1zM443.41 111.73h1v1h-1zM455.6 111.03h1v1h-1zM445.2 109.95h1v1h-1zM444.6 111.4h1v1h-1zM457.81 108.8h1v1h-1zM446.45 115.03h1v1h-1zM450.08 109.26h1v1h-1zM454.38 113.73h1v1h-1zM445.82 114.15h1v1h-1zM445.49 112.55h1v1h-1zM460.21 107.86h1v1h-1zM444.8 112.01h1v1h-1zM442.04 110.92h1v1h-1zM458.18 110.02h1v1h-1zM451.43 110.2h1v1h-1zM444.53 108h1v1h-1zM440.2 111.4h1v1h-1zM459.74 111.92h1v1h-1zM465.57 107.92h1v1h-1zM457.39 109.8h1v1h-1zM447.42 115.01h1v1h-1zM449.49 113.51h1v1h-1zM460.67 108.91h1v1h-1zM453.58 109.67h1v1h-1zM448.65 111.26h1v1h-1zM458.94 107.74h1v1h-1zM459.45 109.69h1v1h-1zM442.2 108.97h1v1h-1zM454.19 112.42h1v1h-1zM454.38 114.6h1v1h-1zM453.41 113.01h1v1h-1zM464.29 107.69h1v1h-1zM444.18 112.12h1v1h-1zM460.67 107.81h1v1h-1zM460.85 109.82h1v1h-1zM443.95 114.08h1v1h-1zM447.64 115.03h1v1h-1zM458.47 112.45h1v1h-1zM461.65 108.79h1v1h-1zM449.49 114.47h1v1h-1zM437.11 108.14h1v1h-1zM449.5 115.11h1v1h-1zM440.85 109.11h1v1h-1zM451.55 113.42h1v1h-1zM455.09 113.25h1v1h-1zM448.48 112.6h1v1h-1zM448.25 112.57h1v1h-1zM454.93 108.09h1v1h-1zM456.25 112.64h1v1h-1zM442.33 110.92h1v1h-1zM461.18 115.17h1v1h-1zM453.87 114.34h1v1h-1zM443.91 107.65h1v1h-1zM450.07 109.52h1v1h-1zM462.43 109.94h1v1h-1zM449.23 112.74h1v1h-1zM456.22 108.19h1v1h-1zM445.9 110.34h1v1h-1zM456.07 112.8h1v1h-1zM444.63 113.43h1v1h-1zM454.72 113.26h1v1h-1zM466.98 107.7h1v1h-1zM450.37 111.78h1v1h-1zM449.32 113.6h1v1h-1zM449.79 111.9h1v1h-1zM455.82 114.26h1v1h-1zM442.94 112.3h1v1h-1zM451.46 109.02h1v1h-1zM455.01 109.77h1v1h-1zM453.56 113.98h1v1h-1zM445.78 112.56h1v1h-1zM453.57 109.63h1v1h-1zM448.36 113.96h1v1h-1zM465.51 108.4h1v1h-1zM453.24 114.67h1v1h-1zM445.18 113.26h1v1h-1zM443.42 111.51h1v1h-1zM454.83 111.21h1v1h-1zM454.48 107.85h1v1h-1zM440.72 108.3h1v1h-1zM449.1 113.02h1v1h-1zM455.94 108.27h1v1h-1zM446.46 112.19h1v1h-1zM456.59 109.25h1v1h-1zM462.33 110.14h1v1h-1zM454.92 109.66h1v1h-1zM450.55 114.13h1v1h-1zM445.35 109.89h1v1h-1zM453.82 113.02h1v1h-1zM455.45 110.27h1v1h-1zM448.46 112.09h1v1h-1zM449.54 114.17h1v1h-1zM447.75 114.78h1v1h-1zM449.14 111.24h1v1h-1zM443.67 112.46h1v1h-1zM449.27 113.19h1v1h-1zM455.1 115.02h1v1h-1zM456.35 107.72h1v1h-1zM442.16 109.72h1v1h-1zM445.8 114.3h1v1h-1zM440.78 108.38h1v1h-1zM461.1 114.2h1v1h-1zM460 112.98h1v1h-1zM456.11 112.18h1v1h-1zM452.92 112.12h1v1h-1zM448.7 110.13h1v1h-1zM462.43 109.08h1v1h-1zM462.8 110.2h1v1h-1zM454.78 113.78h1v1h-1zM448.39 111.15h1v1h-1zM455.13 113.96h1v1h-1zM466.39 108.35h1v1h-1zM455.6 114.93h1v1h-1zM444.06 108.12h1v1h-1zM457.88 109.3h1v1h-1zM445.17 110.81h1v1h-1zM452.86 115.28h1v1h-1zM450.5 114.73h1v1h-1zM449.51 108.09h1v1h-1zM448.62 110.78h1v1h-1zM456.52 112.33h1v1h-1zM456.92 112.56h1v1h-1zM462.15 110.62h1v1h-1zM450.3 113.99h1v1h-1zM444.67 108.27h1v1h-1zM456.48 107.95h1v1h-1zM446.7 114.51h1v1h-1zM456.23 111.27h1v1h-1zM455.84 111.39h1v1h-1zM439.51 108.73h1v1h-1zM451.28 111.82h1v1h-1zM457.16 109.79h1v1h-1zM455.71 112.54h1v1h-1zM445.65 112.77h1v1h-1zM450.08 113.04h1v1h-1zM447.34 110.65h1v1h-1zM456.72 109.16h1v1h-1zM458.38 109.81h1v1h-1zM443.52 109.77h1v1h-1zM463.86 109.46h1v1h-1zM454.79 114.9h1v1h-1zM447.39 109.62h1v1h-1zM459.99 112.62h1v1h-1zM453.72 112.42h1v1h-1zM447.38 111.56h1v1h-1zM443.71 111.19h1v1h-1zM450.47 113.83h1v1h-1zM448.23 113.38h1v1h-1zM444.29 111.29h1v1h-1zM463.56 108.97h1v1h-1zM453.57 109.4h1v1h-1zM442.09 113.67h1v1h-1zM457.4 114.41h1v1h-1zM451.28 113.34h1v1h-1zM455.08 110.85h1v1h-1zM456.41 110.99h1v1h-1zM444.5 108.13h1v1h-1zM448.81 110.9h1v1h-1zM457.12 110.56h1v1h-1zM449.65 112.17h1v1h-1zM459.77 110.92h1v1h-1zM449.8 110.7h1v1h-1zM455.82 114.67h1v1h-1zM447.11 114.41h1v1h-1zM448.83 108.84h1v1h-1zM445.48 112.27h1v1h-1zM448.96 108.74h1v1h-1zM453.52 115.14h1v1h-1zM458.16 108.93h1v1h-1zM456.29 110.59h1v1h-1zM448.98 108.75h1v1h-1zM459.44 113.72h1v1h-1zM444.86 113.53h1v1h-1zM458.44 114.3h1v1h-1zM462.61 109.33h1v1h-1zM455.57 114.09h1v1h-1zM461.47 111.5h1v1h-1zM456.79 109.15h1v1h-1zM454.09 111.24h1v1h-1zM436.94 107.97h1v1h-1zM446.94 115.25h1v1h-1zM453.97 108.96h1v1h-1zM444.97 112.09h1v1h-1zM443.82 110h1v1h-1zM440.05 107.66h1v1h-1zM451.49 112.6h1v1h-1zM453.49 114.73h1v1h-1zM456.56 113.04h1v1h-1zM439.92 108.93h1v1h-1zM456.08 111.54h1v1h-1zM465.45 108.56h1v1h-1zM461.6 107.67h1v1h-1zM454.22 112.7h1v1h-1zM450.47 113.75h1v1h-1zM455.5 115.12h1v1h-1zM455.9 112.64h1v1h-1zM445.29 112.76h1v1h-1zM449.89 112.15h1v1h-1zM447.92 110.71h1v1h-1zM444.68 112.09h1v1h-1zM462.38 109.4h1v1h-1zM445.41 110.66h1v1h-1zM458.07 112h1v1h-1zM443.58 112.94h1v1h-1zM459.1 110.29h1v1h-1zM455.84 112.15h1v1h-1zM453.48 113.1h1v1h-1zM444.15 114.33h1v1h-1zM447.97 108.18h1v1h-1zM447.51 108.46h1v1h-1zM447.66 115.27h1v1h-1zM446.84 114.94h1v1h-1zM442.62 111.63h1v1h-1zM454.49 115.17h1v1h-1zM446.23 111.58h1v1h-1zM459.62 113.74h1v1h-1zM449.51 113.94h1v1h-1zM461.98 111.06h1v1h-1zM460.43 109.62h1v1h-1zM453.65 114.92h1v1h-1zM448.05 114.06h1v1h-1zM446.2 111.83h1v1h-1zM442.13 110.71h1v1h-1zM457.81 108.64h1v1h-1zM462.1 108.4h1v1h-1zM462.66 108.8h1v1h-1zM457.92 111.26h1v1h-1zM449.65 112.78h1v1h-1zM447.72 109.18h1v1h-1zM443.11 110.24h1v1h-1zM451.13 111.34h1v1h-1zM445.24 110.19h1v1h-1zM453.22 111.56h1v1h-1zM451.12 108.91h1v1h-1zM454.35 108.44h1v1h-1zM461.15 110.5h1v1h-1zM445.1 110.01h1v1h-1zM444.52 112.86h1v1h-1zM443.96 110.57h1v1h-1zM454.41 111.9h1v1h-1zM455.37 112.74h1v1h-1zM458.51 113.52h1v1h-1zM441.45 107.99h1v1h-1zM447.84 114.48h1v1h-1zM441.09 108.13h1v1h-1zM450.81 112.97h1v1h-1zM455.06 114.98h1v1h-1zM453.24 113.38h1v1h-1zM454.98 112.59h1v1h-1zM463.02 108.1h1v1h-1zM444 109.46h1v1h-1zM457.28 111.26h1v1h-1zM442.66 108.85h1v1h-1zM450.98 110.68h1v1h-1zM449.33 114.95h1v1h-1zM447.55 115h1v1h-1zM446.69 110.18h1v1h-1zM453.02 113.38h1v1h-1zM446.15 109.05h1v1h-1zM445.87 113.25h1v1h-1zM455.66 111.12h1v1h-1zM448.73 111.74h1v1h-1zM444.25 112.05h1v1h-1zM461.4 108.88h1v1h-1zM451.51 115.18h1v1h-1zM458.54 113.19h1v1h-1zM449.13 108.28h1v1h-1zM445.94 114.22h1v1h-1zM440.94 107.68h1v1h-1zM438.37 108.93h1v1h-1zM459.49 110.52h1v1h-1zM461.12 110.45h1v1h-1zM445.47 114.67h1v1h-1zM458.36 109.95h1v1h-1zM457.37 114.12h1v1h-1zM452.93 114.82h1v1h-1zM454.18 110.09h1v1h-1zM442.19 112.17h1v1h-1zM446.14 110.06h1v1h-1zM456.27 107.9h1v1h-1zM439.52 109.55h1v1h-1zM456.48 109.94h1v1h-1zM444.13 111.9h1v1h-1zM448.98 112.35h1v1h-1zM444.64 113.11h1v1h-1zM463.82 110.81h1v1h-1zM448.15 111.18h1v1h-1zM459.95 108.04h1v1h-1zM459.8 113.28h1v1h-1zM448.43 108.78h1v1h-1zM453.56 114.21h1v1h-1zM458.09 115.11h1v1h-1zM450.47 109.71h1v1h-1zM445.67 111.94h1v1h-1zM443.57 107.81h1v1h-1zM444.94 113.6h1v1h-1zM468.97 108.33h1v1h-1zM450.07 114.7h1v1h-1zM448.82 108.85h1v1h-1zM448.45 108.67h1v1h-1zM456.54 114.46h1v1h-1zM456.01 114.79h1v1h-1zM456.55 112.4h1v1h-1zM459.74 113.54h1v1h-1zM460.13 113.92h1v1h-1zM443.13 110.81h1v1h-1zM448.86 113.29h1v1h-1zM439.78 107.68h1v1h-1zM443.99 112.77h1v1h-1zM449.77 113.23h1v1h-1zM455.23 113.38h1v1h-1zM443.31 108.45h1v1h-1zM461.27 109.28h1v1h-1zM457.79 114.48h1v1h-1zM444.8 113.66h1v1h-1zM461.9 108.58h1v1h-1zM454.4 114.99h1v1h-1zM458.45 111.76h1v1h-1zM459.18 113.46h1v1h-1zM448.99 115.04h1v1h-1zM448.32 107.69h1v1h-1zM456.67 113.82h1v1h-1zM454.78 110.79h1v1h-1zM445.33 112.81h1v1h-1zM459.95 109.58h1v1h-1zM450.06 113.94h1v1h-1zM454.73 111.64h1v1h-1zM454.09 111.52h1v1h-1zM454.48 111.6h1v1h-1zM459.21 110.29h1v1h-1zM463.73 108.74h1v1h-1zM446.14 110.78h1v1h-1zM462.64 108.1h1v1h-1zM458.32 110.87h1v1h-1zM458.19 112.82h1v1h-1zM459.29 108.5h1v1h-1zM446.77 110.76h1v1h-1zM450.17 114.75h1v1h-1zM446.52 107.79h1v1h-1zM448.81 109.39h1v1h-1zM453.06 109.39h1v1h-1zM443.07 107.63h1v1h-1zM451.28 114.68h1v1h-1zM447.38 108.45h1v1h-1zM440.72 110.25h1v1h-1zM456 111.38h1v1h-1zM449.58 115.05h1v1h-1zM450.68 109.15h1v1h-1zM454.25 113.84h1v1h-1zM448.82 112.88h1v1h-1zM451.31 111.33h1v1h-1zM455.8 109.74h1v1h-1zM448.53 113.34h1v1h-1zM458.73 112.18h1v1h-1zM444.26 113.33h1v1h-1zM453.13 107.78h1v1h-1zM443.19 109.08h1v1h-1zM445.57 113.37h1v1h-1zM458.35 110.36h1v1h-1zM450.8 112.34h1v1h-1zM445.83 109.94h1v1h-1zM453.65 114.66h1v1h-1zM452.85 114.82h1v1h-1zM456.02 109.84h1v1h-1zM445.14 112.61h1v1h-1zM444.01 108.42h1v1h-1zM445.91 110.08h1v1h-1zM454.81 109.64h1v1h-1zM458.49 108.86h1v1h-1zM440.97 107.84h1v1h-1zM459.08 110.44h1v1h-1zM460.09 112.58h1v1h-1zM453.69 110.22h1v1h-1zM458.77 113.87h1v1h-1zM448.75 109.31h1v1h-1zM456.58 113.69h1v1h-1zM456.73 108.24h1v1h-1zM442.69 110.94h1v1h-1zM447.52 113.43h1v1h-1zM457.8 112.09h1v1h-1zM447.1 111.52h1v1h-1zM454.9 115.28h1v1h-1zM447.97 114.81h1v1h-1zM457.91 112.14h1v1h-1zM451.03 113.08h1v1h-1zM450.09 110.24h1v1h-1zM460.11 111.27h1v1h-1zM442.37 113.2h1v1h-1zM448.58 109.96h1v1h-1zM461.28 110.79h1v1h-1zM450.25 111.69h1v1h-1zM453.88 111.6h1v1h-1zM461.21 109.8h1v1h-1zM451.45 110.28h1v1h-1zM439.61 110.55h1v1h-1zM454.69 112.37h1v1h-1zM453.32 108.82h1v1h-1zM446.66 114.56h1v1h-1zM452.95 110.34h1v1h-1zM441.54 109.62h1v1h-1zM449.98 109.59h1v1h-1zM441.74 110.09h1v1h-1zM449.4 109.03h1v1h-1zM454.54 112.84h1v1h-1zM449.06 109h1v1h-1zM457.1 114.15h1v1h-1zM437.39 109.63h1v1h-1zM454.04 111.98h1v1h-1zM446.45 112.73h1v1h-1zM455.86 111.82h1v1h-1zM446.84 109.24h1v1h-1zM450.39 114.24h1v1h-1zM444.83 113.59h1v1h-1zM455.72 111.32h1v1h-1zM457.3 110.1h1v1h-1zM460.78 108.42h1v1h-1zM458.05 111.13h1v1h-1zM447.32 108.41h1v1h-1zM446.85 110.63h1v1h-1zM444.84 110.94h1v1h-1zM447.66 112.52h1v1h-1zM441.94 111.24h1v1h-1zM453.73 111.76h1v1h-1zM456.56 111.32h1v1h-1zM453.84 112.31h1v1h-1zM460.11 112.46h1v1h-1zM445.65 114.94h1v1h-1zM446.23 115.22h1v1h-1zM446.83 111.16h1v1h-1zM459.46 111.44h1v1h-1zM438.65 109.11h1v1h-1zM448.3 108.06h1v1h-1zM462.08 110.64h1v1h-1zM457.71 112.68h1v1h-1zM447.7 114.26h1v1h-1zM456.16 111.75h1v1h-1zM442.95 110.38h1v1h-1zM449.34 111.81h1v1h-1zM442.76 109.91h1v1h-1zM443.16 110.95h1v1h-1zM456.95 108.43h1v1h-1zM446.89 113.13h1v1h-1zM448.66 115.18h1v1h-1zM462.48 110.07h1v1h-1zM450.73 111.47h1v1h-1zM446.54 112.3h1v1h-1zM455.48 113.14h1v1h-1zM451.37 113.39h1v1h-1zM460 110.18h1v1h-1zM449.4 111.38h1v1h-1zM456.29 114.29h1v1h-1zM460.17 109.65h1v1h-1zM455.08 111.69h1v1h-1zM444.31 112.5h1v1h-1zM455.41 113.36h1v1h-1zM445.1 113.72h1v1h-1zM458.69 110.89h1v1h-1zM456.31 114.53h1v1h-1zM459.17 113.52h1v1h-1zM450.19 108.27h1v1h-1zM454.78 110.63h1v1h-1zM442.27 107.79h1v1h-1zM440.74 109.76h1v1h-1zM454.23 109.26h1v1h-1zM441.79 108.79h1v1h-1zM449.83 112.1h1v1h-1zM458.15 113.12h1v1h-1zM447.8 114.02h1v1h-1zM463.76 111.29h1v1h-1zM458.95 113.54h1v1h-1zM457.03 112.98h1v1h-1zM461.5 109.72h1v1h-1zM448.11 111.91h1v1h-1zM444.25 111.5h1v1h-1zM445.23 111.83h1v1h-1zM442.86 109.09h1v1h-1zM454.24 111.39h1v1h-1zM450.62 107.81h1v1h-1zM454.25 112.76h1v1h-1zM447.12 114.14h1v1h-1zM453.13 113.43h1v1h-1zM446.5 112.65h1v1h-1zM448.4 111.55h1v1h-1zM446.75 113.67h1v1h-1zM448.82 112.91h1v1h-1zM455.6 109.02h1v1h-1zM458.98 112.34h1v1h-1zM439 107.77h1v1h-1zM456.3 114.99h1v1h-1zM457.29 113.85h1v1h-1zM443.03 111.16h1v1h-1zM443.55 111.26h1v1h-1zM456.9 111.66h1v1h-1zM449.54 114.05h1v1h-1zM457.44 113.33h1v1h-1zM459.05 110.43h1v1h-1zM463.1 110.07h1v1h-1zM450.1 112.84h1v1h-1zM454.47 113.35h1v1h-1zM455.64 114.08h1v1h-1zM457.32 112.68h1v1h-1zM448.54 114.71h1v1h-1zM450.54 111.9h1v1h-1zM454.89 114.84h1v1h-1zM456.86 111.71h1v1h-1zM443.53 109.6h1v1h-1zM454.64 108.47h1v1h-1zM450.88 109.72h1v1h-1zM454.22 109.71h1v1h-1zM451.45 115.19h1v1h-1zM442.74 109.18h1v1h-1zM454.8 112.22h1v1h-1zM449.64 114.51h1v1h-1zM446.58 114.73h1v1h-1zM460.04 109.63h1v1h-1zM452.95 112.11h1v1h-1zM462.59 107.98h1v1h-1zM442.78 108.85h1v1h-1zM459.84 111.22h1v1h-1zM456.17 107.75h1v1h-1zM445.23 115.12h1v1h-1zM445.6 113.07h1v1h-1zM460.71 109.03h1v1h-1zM457.65 109.15h1v1h-1zM445.06 113.78h1v1h-1zM462.39 112.76h1v1h-1zM457.23 108.11h1v1h-1zM463.07 110.57h1v1h-1zM449.87 110.9h1v1h-1zM453.87 113.56h1v1h-1zM444.67 113.27h1v1h-1zM447.8 113.06h1v1h-1zM456.4 114.96h1v1h-1zM460.16 108.61h1v1h-1zM447.53 110.27h1v1h-1zM447.92 111.37h1v1h-1zM454.38 108.68h1v1h-1zM446.85 108.5h1v1h-1zM457.17 109.13h1v1h-1zM442.15 109.5h1v1h-1zM449.7 111.66h1v1h-1zM456.3 110.27h1v1h-1zM457.15 109.86h1v1h-1zM445.83 109.9h1v1h-1zM449.83 114.7h1v1h-1zM449.37 109.23h1v1h-1zM463.65 110.08h1v1h-1zM462.12 110.17h1v1h-1zM461.72 109.62h1v1h-1zM444.55 110.9h1v1h-1zM460.32 110.51h1v1h-1zM456.65 110.2h1v1h-1zM459.94 110.26h1v1h-1zM449.71 111.42h1v1h-1zM450.91 109.79h1v1h-1zM445.47 112.1h1v1h-1zM447.07 114.67h1v1h-1zM445.69 114.08h1v1h-1zM448.95 109.57h1v1h-1zM453.25 113.58h1v1h-1zM458.05 113.01h1v1h-1zM446.76 111.25h1v1h-1zM446.47 113.87h1v1h-1zM439.84 110.03h1v1h-1zM453.97 115.22h1v1h-1zM443.97 111.79h1v1h-1zM459.21 108.84h1v1h-1zM459.51 111.98h1v1h-1zM456.21 111.09h1v1h-1zM446.6 113h1v1h-1zM455.71 108.36h1v1h-1zM451.12 114.49h1v1h-1zM444.01 113.21h1v1h-1zM448.3 114.86h1v1h-1zM447.84 113.05h1v1h-1zM449.32 115.28h1v1h-1zM457.5 107.78h1v1h-1zM448.35 109.71h1v1h-1zM455.21 115.3h1v1h-1zM450.47 112.57h1v1h-1zM449.06 113.96h1v1h-1zM442.06 109.38h1v1h-1zM453.83 113.93h1v1h-1zM465.97 108.71h1v1h-1zM439.84 108.7h1v1h-1zM456.19 110.78h1v1h-1zM446.42 113.9h1v1h-1zM446.35 109.08h1v1h-1zM445.98 113.6h1v1h-1zM455.79 114.27h1v1h-1zM448.97 108.22h1v1h-1zM457.45 113.02h1v1h-1zM443.58 110.88h1v1h-1zM453.31 113.34h1v1h-1zM447.05 110.49h1v1h-1zM456.91 113.22h1v1h-1zM453.06 113.88h1v1h-1zM454 112.92h1v1h-1zM456.69 114.47h1v1h-1zM447.36 111.09h1v1h-1zM447.06 114.68h1v1h-1zM442.3 110.45h1v1h-1zM449.6 113.47h1v1h-1zM450.72 114.56h1v1h-1zM455.06 109.56h1v1h-1zM441.06 111.53h1v1h-1zM459.9 110.46h1v1h-1zM455.24 113.59h1v1h-1zM454.03 109.28h1v1h-1zM450.91 111.78h1v1h-1zM447.31 114.55h1v1h-1zM453.32 114.4h1v1h-1zM450.79 109.8h1v1h-1zM442.57 108.6h1v1h-1zM453.64 115.01h1v1h-1zM459.29 113.56h1v1h-1zM445.03 114.58h1v1h-1zM457.15 112.4h1v1h-1zM458.88 110.93h1v1h-1zM455.55 109.52h1v1h-1zM447.68 114.74h1v1h-1zM460.99 110.59h1v1h-1zM445.55 109.77h1v1h-1zM451.56 112.08h1v1h-1zM457.4 114.78h1v1h-1zM454.52 111.36h1v1h-1zM455.22 110.48h1v1h-1zM445.67 109.27h1v1h-1zM458.79 107.98h1v1h-1zM456.52 107.73h1v1h-1zM455.46 114.55h1v1h-1zM448.53 108.87h1v1h-1zM442.98 108.1h1v1h-1zM459.95 107.68h1v1h-1zM457.53 113.93h1v1h-1zM462.37 108.79h1v1h-1zM448.95 114.65h1v1h-1zM463.58 107.76h1v1h-1zM453.96 115.1h1v1h-1zM450.34 111.64h1v1h-1zM445.53 111.66h1v1h-1zM459.83 109.73h1v1h-1zM442.21 112.01h1v1h-1zM441.14 109.62h1v1h-1zM449.94 110.76h1v1h-1zM455.71 109.93h1v1h-1zM456.75 110.82h1v1h-1zM453.77 110.44h1v1h-1zM447.28 114.65h1v1h-1zM448.68 115.09h1v1h-1zM459.1 109.55h1v1h-1zM446.52 112.06h1v1h-1zM450.15 108.08h1v1h-1zM450.96 112.91h1v1h-1zM450.95 114.75h1v1h-1zM441.82 110.05h1v1h-1zM457.46 111.93h1v1h-1zM464.01 109.76h1v1h-1zM441.63 109.79h1v1h-1zM455.34 112.89h1v1h-1zM456.4 114.21h1v1h-1zM445.15 114.23h1v1h-1zM460.28 108.62h1v1h-1zM446.16 112.56h1v1h-1zM447.7 113.87h1v1h-1zM454.13 114.37h1v1h-1zM461.56 112.76h1v1h-1zM446.66 113.9h1v1h-1zM447.77 109.04h1v1h-1zM450.23 113.01h1v1h-1zM456.89 110.03h1v1h-1zM446.81 113.11h1v1h-1zM454.36 109.62h1v1h-1zM441.83 110.12h1v1h-1zM456.66 113.8h1v1h-1zM445.34 112.46h1v1h-1zM445.32 108.8h1v1h-1zM454.62 109.79h1v1h-1zM460.61 108.28h1v1h-1zM461.42 109.21h1v1h-1zM446.06 112.97h1v1h-1zM450.62 111.78h1v1h-1zM447.79 113.56h1v1h-1zM459.36 109.45h1v1h-1zM455.45 107.81h1v1h-1zM450.54 111.74h1v1h-1zM439.09 107.66h1v1h-1zM443.39 112.53h1v1h-1zM441.22 108.05h1v1h-1zM447.2 112.91h1v1h-1zM463.17 108.88h1v1h-1zM448.06 110.65h1v1h-1zM454.52 114.9h1v1h-1zM455.25 109.88h1v1h-1zM442.53 107.71h1v1h-1zM445.24 108.53h1v1h-1zM461.22 111.4h1v1h-1zM457.65 108.03h1v1h-1zM453.79 113.78h1v1h-1zM453.3 111.02h1v1h-1zM462.25 107.61h1v1h-1zM463.04 108.84h1v1h-1zM462.76 108.78h1v1h-1zM466.35 107.76h1v1h-1zM444.53 113.01h1v1h-1zM444.84 110.61h1v1h-1zM457.06 111.84h1v1h-1zM454.28 113.37h1v1h-1zM441.71 110.17h1v1h-1zM453.06 108.65h1v1h-1zM449.36 113.29h1v1h-1zM459.48 109.75h1v1h-1zM447.23 113.7h1v1h-1zM446.4 115.1h1v1h-1zM461.82 108.35h1v1h-1zM463.37 108.52h1v1h-1zM459.76 114.55h1v1h-1zM452.84 114.69h1v1h-1zM459.24 114.62h1v1h-1zM451.32 109.15h1v1h-1zM442.32 109.09h1v1h-1zM445.8 114.83h1v1h-1zM455.5 110.7h1v1h-1zM447.83 110.83h1v1h-1zM453.67 112.1h1v1h-1zM459.41 114.32h1v1h-1zM463.85 108.48h1v1h-1zM446.93 114.41h1v1h-1zM454.55 115.14h1v1h-1zM446.25 114.01h1v1h-1zM454.16 114.53h1v1h-1zM441.97 111.33h1v1h-1zM458.13 113.79h1v1h-1zM448.72 111.92h1v1h-1zM458.86 113.06h1v1h-1zM456.98 112.66h1v1h-1zM455.31 113.96h1v1h-1zM444.95 114.26h1v1h-1zM454.7 115.3h1v1h-1zM454.82 113.23h1v1h-1zM460.04 114.37h1v1h-1zM451 111.54h1v1h-1zM456.17 108.24h1v1h-1zM459.14 109.45h1v1h-1zM459.37 108.63h1v1h-1zM449.01 114.21h1v1h-1zM455.4 110.35h1v1h-1zM453.57 114.62h1v1h-1zM460.38 108.5h1v1h-1zM460.39 112.27h1v1h-1zM454.4 113.97h1v1h-1zM450.89 108.41h1v1h-1zM453.8 113.5h1v1h-1zM458.44 108.33h1v1h-1zM442.94 112.75h1v1h-1zM453.8 112.61h1v1h-1zM451.54 111.76h1v1h-1zM449.5 114.41h1v1h-1zM456.51 113.6h1v1h-1zM450.28 114.06h1v1h-1zM447.07 108.44h1v1h-1zM453.54 114.74h1v1h-1zM457.03 114.13h1v1h-1zM447.98 112.57h1v1h-1zM446.81 109.89h1v1h-1zM438.93 108.83h1v1h-1zM455.85 109.43h1v1h-1zM445.75 111.23h1v1h-1zM440.2 108.32h1v1h-1zM446.31 114.21h1v1h-1zM454.66 111.47h1v1h-1zM446.57 113.74h1v1h-1zM444.97 107.62h1v1h-1zM460.94 114.94h1v1h-1zM445.76 111.29h1v1h-1zM445.79 109.3h1v1h-1zM446.46 109.97h1v1h-1zM448.08 109.9h1v1h-1zM454.6 111.27h1v1h-1zM460.41 112.79h1v1h-1zM458.23 114.51h1v1h-1zM453.34 114.83h1v1h-1zM463.37 107.97h1v1h-1zM459.27 110.65h1v1h-1zM454.7 108h1v1h-1zM456.67 114.3h1v1h-1zM441.51 108.74h1v1h-1zM445.43 113.02h1v1h-1zM447.53 114.63h1v1h-1zM459 108.2h1v1h-1zM450.46 110.45h1v1h-1zM453.23 112.33h1v1h-1zM451.05 109.9h1v1h-1zM448.62 110.11h1v1h-1zM456.95 108.93h1v1h-1zM453.7 110.6h1v1h-1zM453.76 112.99h1v1h-1zM446.11 111.39h1v1h-1zM442.2 110.55h1v1h-1zM443.71 109.08h1v1h-1zM450.98 109.75h1v1h-1zM448.69 115.22h1v1h-1zM446.68 110.25h1v1h-1zM456.66 108.49h1v1h-1zM449.37 115.24h1v1h-1zM452.97 111.2h1v1h-1zM448.93 110.94h1v1h-1zM459.96 113.12h1v1h-1zM449.82 114.72h1v1h-1zM454.62 113.36h1v1h-1zM454.77 109.9h1v1h-1zM447.8 111.05h1v1h-1zM458 112.84h1v1h-1zM449.03 111.59h1v1h-1zM442.35 111.25h1v1h-1zM446.6 110.41h1v1h-1zM455.77 109.43h1v1h-1zM460.81 108.23h1v1h-1zM465.64 107.79h1v1h-1zM445.48 114.34h1v1h-1zM459.13 109.63h1v1h-1zM456.05 113.23h1v1h-1zM449.37 112.86h1v1h-1zM454.85 109.97h1v1h-1zM456.35 112.71h1v1h-1zM448.87 110.2h1v1h-1zM453.06 111.58h1v1h-1zM454.35 112.45h1v1h-1zM445.87 114.02h1v1h-1zM446.09 112.77h1v1h-1zM440.29 108.23h1v1h-1zM457.32 115.08h1v1h-1zM459.41 112.77h1v1h-1zM461.31 114.85h1v1h-1zM438.67 108.07h1v1h-1zM450.58 111.9h1v1h-1zM458.73 111.71h1v1h-1zM460.81 107.78h1v1h-1zM453.74 115.15h1v1h-1zM451.44 114.14h1v1h-1zM456.71 109.12h1v1h-1zM444.08 109.7h1v1h-1zM460.15 112.87h1v1h-1zM455.53 114.33h1v1h-1zM440.81 112.43h1v1h-1zM462.52 109.17h1v1h-1zM444.72 111.47h1v1h-1zM457.63 115.23h1v1h-1zM453.78 111.21h1v1h-1zM444.8 113.61h1v1h-1zM457.57 108.42h1v1h-1zM445.37 107.84h1v1h-1zM439.99 108.05h1v1h-1zM450.57 109.9h1v1h-1zM458.43 110.66h1v1h-1zM449.69 110.55h1v1h-1zM456.77 113.4h1v1h-1zM449.34 115.26h1v1h-1zM459.82 107.69h1v1h-1zM455.1 107.67h1v1h-1zM459.39 109.57h1v1h-1zM448.84 114.96h1v1h-1zM440.63 113.28h1v1h-1zM446.09 112.47h1v1h-1zM441.02 108.99h1v1h-1zM463.47 110.9h1v1h-1zM447.27 111.9h1v1h-1zM444.73 112.7h1v1h-1zM450.1 115.25h1v1h-1zM438.37 111.36h1v1h-1zM458.31 113.72h1v1h-1zM448.65 110.98h1v1h-1zM449.35 112.43h1v1h-1zM448.98 109.61h1v1h-1zM448.56 114.76h1v1h-1zM456.18 114.46h1v1h-1zM450.58 114.91h1v1h-1zM460.4 110.19h1v1h-1zM440.1 109.66h1v1h-1zM454.12 111.46h1v1h-1zM438.11 108.04h1v1h-1zM455.68 113.42h1v1h-1zM445.75 113.56h1v1h-1zM443.49 108.43h1v1h-1zM448.13 110.49h1v1h-1zM447.04 114.53h1v1h-1zM446.21 114.36h1v1h-1zM458.56 111.61h1v1h-1zM446.45 109.91h1v1h-1zM452.97 107.95h1v1h-1zM451.3 115.16h1v1h-1zM441.62 110.16h1v1h-1zM444.8 109.59h1v1h-1zM453.11 109.8h1v1h-1zM454.75 108.04h1v1h-1zM450.97 113.01h1v1h-1zM459.36 113.15h1v1h-1zM449.7 111.79h1v1h-1zM456.47 113.11h1v1h-1zM454.82 109.19h1v1h-1zM455.99 114.39h1v1h-1zM445.95 109.04h1v1h-1zM450.45 112.01h1v1h-1zM444.55 112.98h1v1h-1zM463.24 108.98h1v1h-1zM441.15 110.02h1v1h-1zM459.39 114.63h1v1h-1zM460.27 110.47h1v1h-1zM453.04 108.65h1v1h-1zM444.45 109.65h1v1h-1zM453.25 110.36h1v1h-1zM446.65 111.77h1v1h-1zM447.21 111.34h1v1h-1zM446.36 108.44h1v1h-1zM453.26 112h1v1h-1zM441.99 111.03h1v1h-1zM459.79 111.01h1v1h-1zM447.55 113.1h1v1h-1zM458.48 111.54h1v1h-1zM453.38 109.67h1v1h-1zM451.09 108.42h1v1h-1zM461.86 112.25h1v1h-1zM461.3 111h1v1h-1zM447.26 110.6h1v1h-1zM462.44 110.49h1v1h-1zM445.26 108.76h1v1h-1zM444.77 107.75h1v1h-1zM442.21 109.8h1v1h-1zM455.25 110.15h1v1h-1zM446.49 109.59h1v1h-1zM449.8 110.76h1v1h-1zM460.67 108.19h1v1h-1zM458.37 108.32h1v1h-1zM446.67 113.81h1v1h-1zM450.99 114.41h1v1h-1zM456.82 115.22h1v1h-1zM463.56 110.84h1v1h-1zM460.09 109.24h1v1h-1zM444.9 113.49h1v1h-1zM459.03 111.01h1v1h-1zM464.7 108.62h1v1h-1zM454.93 113.6h1v1h-1zM451.58 113.38h1v1h-1zM455.55 111.34h1v1h-1zM460.3 112.85h1v1h-1zM459.42 109.28h1v1h-1zM441.44 107.98h1v1h-1zM459.28 108.08h1v1h-1zM453.07 112.13h1v1h-1zM447.12 112.23h1v1h-1zM443.29 114.64h1v1h-1zM440.23 109.45h1v1h-1zM454.91 114.75h1v1h-1zM441.72 108.99h1v1h-1zM465.7 109.76h1v1h-1zM459.27 112.78h1v1h-1zM449.86 110.35h1v1h-1zM444.89 111.53h1v1h-1zM458.8 111.89h1v1h-1zM460.36 108.94h1v1h-1zM453.35 115.15h1v1h-1zM454.73 111.1h1v1h-1zM444.79 111.66h1v1h-1zM455.35 111.53h1v1h-1zM446.52 107.79h1v1h-1zM448.21 112.32h1v1h-1zM446.96 114.7h1v1h-1zM461.34 110.05h1v1h-1zM454.77 109.93h1v1h-1zM445.03 111.59h1v1h-1zM451.32 114.18h1v1h-1zM450.16 114.43h1v1h-1zM447.18 110.54h1v1h-1zM447.23 108.42h1v1h-1zM451.07 115.26h1v1h-1zM454.01 112.73h1v1h-1zM462.18 111.56h1v1h-1zM439.79 108.99h1v1h-1zM457.33 112.87h1v1h-1zM463.11 109.16h1v1h-1zM455.34 109.25h1v1h-1zM447.76 113.66h1v1h-1zM462.53 107.91h1v1h-1zM449.91 114.44h1v1h-1zM454.37 112.78h1v1h-1zM443.66 113.42h1v1h-1zM449.89 112.73h1v1h-1zM455.36 114.1h1v1h-1zM451.48 109.39h1v1h-1zM455.49 113.58h1v1h-1zM456.97 114.87h1v1h-1zM462.54 109.58h1v1h-1zM442.21 112.04h1v1h-1zM456.72 112.47h1v1h-1zM458.69 113.51h1v1h-1zM455.83 113.47h1v1h-1zM441.83 112.31h1v1h-1zM454.09 110.16h1v1h-1zM451.24 109.16h1v1h-1zM444.37 108.89h1v1h-1zM450.85 114.75h1v1h-1zM440.57 108.24h1v1h-1zM455.33 108.97h1v1h-1zM454.65 109.21h1v1h-1zM444.66 111.35h1v1h-1zM460.08 113.05h1v1h-1zM453.84 108.3h1v1h-1zM458.93 111.49h1v1h-1zM441.93 111.02h1v1h-1zM457.1 113.75h1v1h-1zM456.14 115.25h1v1h-1zM453.09 110.05h1v1h-1zM465.13 109.54h1v1h-1zM447.77 112.39h1v1h-1zM466.27 107.73h1v1h-1zM449.9 109.08h1v1h-1zM458.34 114.47h1v1h-1zM448.82 111.28h1v1h-1zM442.77 113.31h1v1h-1zM455.52 113.73h1v1h-1zM456.26 114.95h1v1h-1zM455.1 113.96h1v1h-1zM445.88 108.15h1v1h-1zM457.52 114.76h1v1h-1zM440.51 110.49h1v1h-1zM445.62 108.18h1v1h-1zM453.43 111.83h1v1h-1zM452.89 114.42h1v1h-1zM449.19 114.62h1v1h-1zM450.79 108.65h1v1h-1zM443.96 112.07h1v1h-1zM442.61 107.88h1v1h-1zM449.13 114.27h1v1h-1zM458.42 112.58h1v1h-1zM448.31 113.04h1v1h-1zM448.64 114.27h1v1h-1zM463.52 109.45h1v1h-1zM459.44 113.67h1v1h-1zM446.41 108.04h1v1h-1zM456.28 111.36h1v1h-1zM444.03 107.68h1v1h-1zM446.23 111.43h1v1h-1zM457.75 114.24h1v1h-1zM453.29 114.13h1v1h-1zM461.03 109.57h1v1h-1zM456.49 114.56h1v1h-1zM447.2 112.02h1v1h-1zM449.09 114.23h1v1h-1zM459.7 112.28h1v1h-1zM453.89 109.22h1v1h-1zM445.73 112.08h1v1h-1zM456.94 114.55h1v1h-1zM450.87 110.15h1v1h-1zM464.07 108.82h1v1h-1zM444.87 113.74h1v1h-1zM458.16 110.2h1v1h-1zM449.43 109.59h1v1h-1zM455.03 109.25h1v1h-1zM444.79 111.77h1v1h-1zM455.76 109.06h1v1h-1zM448.44 115.29h1v1h-1zM459.2 107.99h1v1h-1zM450.69 112.7h1v1h-1zM459.57 109.12h1v1h-1zM449.29 113.08h1v1h-1zM459.43 114.32h1v1h-1zM445.81 113.43h1v1h-1zM450.34 115.22h1v1h-1zM450.37 111.56h1v1h-1zM449.01 109.23h1v1h-1zM446.96 110.6h1v1h-1zM442.4 110.33h1v1h-1zM459.21 111.94h1v1h-1zM449.01 113.71h1v1h-1zM446.12 108.01h1v1h-1zM449.36 112.25h1v1h-1zM457.31 113.6h1v1h-1zM442.83 112h1v1h-1zM460.16 112h1v1h-1zM446.91 110.35h1v1h-1zM455.8 108.84h1v1h-1zM457.98 110.93h1v1h-1zM443.09 109.76h1v1h-1zM447.45 113.57h1v1h-1zM457.38 108.19h1v1h-1zM462.25 109.55h1v1h-1zM464.94 107.89h1v1h-1zM463.88 107.98h1v1h-1zM463.83 107.69h1v1h-1zM457.87 113.26h1v1h-1zM438.82 108.31h1v1h-1zM456.42 109.44h1v1h-1zM451.19 108.97h1v1h-1zM457.02 114.53h1v1h-1zM459.98 113.78h1v1h-1zM449.81 114.48h1v1h-1zM448.43 109.5h1v1h-1zM449.93 114.5h1v1h-1zM447.52 113.23h1v1h-1zM449.64 111.34h1v1h-1zM442.13 110.98h1v1h-1zM458.78 113.09h1v1h-1zM444.32 113.1h1v1h-1zM460.44 107.76h1v1h-1zM444.44 108.83h1v1h-1zM449.15 115.21h1v1h-1zM460.99 110.24h1v1h-1zM449.11 112.24h1v1h-1zM447.44 115.27h1v1h-1zM457.75 113.66h1v1h-1zM453.21 111.76h1v1h-1zM456.6 111.25h1v1h-1zM458.86 112.88h1v1h-1zM442.45 113.78h1v1h-1zM448.61 111.79h1v1h-1zM448.13 110.07h1v1h-1zM447.9 114.32h1v1h-1zM456.99 114.88h1v1h-1zM449.44 112.63h1v1h-1zM448.89 110.24h1v1h-1zM447.54 108.22h1v1h-1zM455.49 110.05h1v1h-1zM456.08 115.23h1v1h-1zM459.5 110.64h1v1h-1zM444.72 109.13h1v1h-1zM444.6 111.13h1v1h-1zM456.23 113.88h1v1h-1zM448.84 113.1h1v1h-1zM449.74 113.66h1v1h-1zM456.15 113.03h1v1h-1zM462.42 110.35h1v1h-1zM445.39 109.52h1v1h-1zM450.52 113.37h1v1h-1zM445.02 112.02h1v1h-1zM459.94 113.35h1v1h-1zM460.69 107.72h1v1h-1zM448.22 111.69h1v1h-1zM457.09 110.68h1v1h-1zM440.48 107.68h1v1h-1zM461.33 111.06h1v1h-1zM458.18 110.28h1v1h-1zM450 112.94h1v1h-1zM447.51 108.31h1v1h-1zM448.8 115.18h1v1h-1zM448.78 111.63h1v1h-1zM456.1 109.92h1v1h-1zM459.87 110.81h1v1h-1zM443.69 108.12h1v1h-1zM445.73 111.08h1v1h-1zM451.29 108.5h1v1h-1zM462.25 111.57h1v1h-1zM454.32 111.36h1v1h-1zM449.83 108.09h1v1h-1zM453.54 113.19h1v1h-1zM457.22 114.74h1v1h-1zM465.7 108.08h1v1h-1zM448.29 110.2h1v1h-1zM445.89 111.55h1v1h-1zM449.37 111.76h1v1h-1zM445.38 108.56h1v1h-1zM442.22 109.84h1v1h-1zM456.39 114.85h1v1h-1zM462.14 111.57h1v1h-1zM456.57 114.48h1v1h-1zM450.18 110.32h1v1h-1zM450.57 110.83h1v1h-1zM463.44 112.75h1v1h-1zM454.81 111.7h1v1h-1zM455.94 111.71h1v1h-1zM460.8 114.82h1v1h-1zM443.72 113.79h1v1h-1zM455.84 114.66h1v1h-1zM445.76 111.53h1v1h-1zM453.52 114.1h1v1h-1zM446.16 113.35h1v1h-1zM448.81 114.96h1v1h-1zM447.67 115.23h1v1h-1zM448.2 114.78h1v1h-1zM447.54 109.05h1v1h-1zM444.66 114.69h1v1h-1zM451.31 109.98h1v1h-1zM449.52 115h1v1h-1zM442.44 109.52h1v1h-1zM445.6 110.22h1v1h-1zM440.62 109.49h1v1h-1zM442.12 111.16h1v1h-1zM451.08 112.84h1v1h-1zM452.87 109.8h1v1h-1zM453.82 112.03h1v1h-1zM455.4 110.42h1v1h-1zM444.37 113.43h1v1h-1zM455.08 114.04h1v1h-1zM440.41 109.54h1v1h-1zM444.51 109.23h1v1h-1zM451.16 108.29h1v1h-1zM450.41 114.36h1v1h-1zM448.46 112.76h1v1h-1zM457.04 112.13h1v1h-1zM447.13 108.31h1v1h-1zM459.4 111.52h1v1h-1zM438.45 110.15h1v1h-1zM454.44 114.36h1v1h-1zM450.37 113.04h1v1h-1zM445.91 113.83h1v1h-1zM457.46 111.22h1v1h-1zM454.73 112.18h1v1h-1zM436.88 108.6h1v1h-1zM447.24 109.3h1v1h-1zM453.65 110.52h1v1h-1zM454.1 109.8h1v1h-1zM458.86 108.11h1v1h-1zM457.09 109.71h1v1h-1zM448.5 108.22h1v1h-1zM445 110.1h1v1h-1zM456.82 112.07h1v1h-1zM462.4 108.47h1v1h-1zM447.62 112.43h1v1h-1zM457.36 108.89h1v1h-1zM455.86 111.36h1v1h-1zM449.19 114.87h1v1h-1zM460.57 110.03h1v1h-1zM449.4 112.77h1v1h-1zM455.47 110.33h1v1h-1zM443.12 111.78h1v1h-1zM446.54 112.6h1v1h-1zM462.71 114.36h1v1h-1zM461.81 110.2h1v1h-1zM443.6 110.66h1v1h-1zM460.17 110.88h1v1h-1zM450.22 110.31h1v1h-1zM455.34 112.59h1v1h-1zM458.55 111.78h1v1h-1zM457.68 113.21h1v1h-1zM454.48 109.68h1v1h-1zM449.12 113.14h1v1h-1zM457.93 111.29h1v1h-1zM449.45 108.1h1v1h-1zM454.83 112.33h1v1h-1zM460.43 107.86h1v1h-1zM456.09 114.13h1v1h-1zM446.35 108.32h1v1h-1zM457.1 113.96h1v1h-1zM446.31 110.46h1v1h-1zM459.79 113.53h1v1h-1zM441.89 109.4h1v1h-1zM446.76 114.4h1v1h-1zM440.29 109.19h1v1h-1zM453.01 113.53h1v1h-1zM444.86 114.26h1v1h-1zM449.12 114.97h1v1h-1zM442.71 110.92h1v1h-1zM450.14 111.12h1v1h-1zM458.63 108.29h1v1h-1zM453.75 112.27h1v1h-1zM457.55 112.72h1v1h-1zM449.42 113.67h1v1h-1zM459 113.73h1v1h-1zM449.07 110.91h1v1h-1zM454.12 107.75h1v1h-1zM437.06 108.34h1v1h-1zM455.25 111.12h1v1h-1zM456.83 115.01h1v1h-1zM439.03 108.14h1v1h-1zM464.14 110.05h1v1h-1zM461.8 109.92h1v1h-1zM452.86 109.43h1v1h-1zM442.68 108.73h1v1h-1zM461.38 108.06h1v1h-1zM446.88 109.71h1v1h-1zM448.48 114.74h1v1h-1zM463.16 108.43h1v1h-1zM463.36 112.32h1v1h-1zM453.32 111.63h1v1h-1zM457.36 110.3h1v1h-1zM462.83 108.93h1v1h-1zM462.89 111.59h1v1h-1zM442.43 111.73h1v1h-1zM461.12 110.06h1v1h-1zM453.73 112.1h1v1h-1zM450.43 110.92h1v1h-1zM445.61 108.47h1v1h-1zM459.51 110.34h1v1h-1zM455.04 109.56h1v1h-1zM443.73 110.38h1v1h-1zM457.62 115.08h1v1h-1zM445.4 112.16h1v1h-1zM448.01 115.29h1v1h-1zM458.73 113.51h1v1h-1zM459.56 108.66h1v1h-1zM442.83 108.11h1v1h-1zM458.5 108.1h1v1h-1zM447.96 109.65h1v1h-1zM459.54 111.75h1v1h-1zM448.96 112.91h1v1h-1zM457.55 115.27h1v1h-1zM459.36 112.46h1v1h-1zM453.29 111.15h1v1h-1zM444.33 110.81h1v1h-1zM441.69 111.78h1v1h-1zM446.15 113.38h1v1h-1zM459.3 113.85h1v1h-1zM463.19 108.58h1v1h-1zM458.11 112.9h1v1h-1zM440.09 108.66h1v1h-1zM446.56 107.82h1v1h-1zM456.76 109.78h1v1h-1zM450.77 109.43h1v1h-1zM462.49 110.34h1v1h-1zM442.9 111.37h1v1h-1zM454.03 114.66h1v1h-1zM442.49 109h1v1h-1zM455.28 113.51h1v1h-1zM445.5 111.11h1v1h-1zM453.68 109.84h1v1h-1zM454.66 111.87h1v1h-1zM455.64 108.34h1v1h-1zM447.17 111.03h1v1h-1zM455.92 109.02h1v1h-1zM447.65 108.03h1v1h-1zM446.26 114.76h1v1h-1zM455.61 109.65h1v1h-1zM445.59 113.35h1v1h-1zM456.11 110.51h1v1h-1zM445.82 114.57h1v1h-1zM460.34 111.2h1v1h-1zM447.69 112.85h1v1h-1zM445.9 112.82h1v1h-1zM460.52 107.77h1v1h-1zM453.58 111.98h1v1h-1zM450.89 113.4h1v1h-1zM440.65 110.67h1v1h-1zM453.49 108.73h1v1h-1zM443.13 111.76h1v1h-1zM444.89 113.28h1v1h-1zM441.12 108.86h1v1h-1zM443.57 113.96h1v1h-1zM443.31 110.81h1v1h-1zM455.1 110.99h1v1h-1zM453.07 110.16h1v1h-1zM447.97 108.92h1v1h-1zM448.92 114.84h1v1h-1zM446.18 109.59h1v1h-1zM457.87 110.89h1v1h-1zM451.3 112.94h1v1h-1zM455.88 110.06h1v1h-1zM463.21 111.3h1v1h-1zM441.05 108.37h1v1h-1zM462.84 109.23h1v1h-1zM446.06 108.88h1v1h-1zM459.44 109.45h1v1h-1zM449.98 109.3h1v1h-1zM444.75 112.56h1v1h-1zM453.61 113.51h1v1h-1zM460.22 110.35h1v1h-1zM441.37 113.4h1v1h-1zM445.06 112.98h1v1h-1zM443.4 111.59h1v1h-1zM460.6 110.84h1v1h-1zM457.43 113.08h1v1h-1zM447.42 114.11h1v1h-1zM453.6 114.66h1v1h-1zM446.49 114.65h1v1h-1zM450.22 111.13h1v1h-1zM455.36 110.88h1v1h-1zM462.74 108.81h1v1h-1zM449.36 109.96h1v1h-1zM444 110.25h1v1h-1zM457.33 113.6h1v1h-1zM461.87 108.11h1v1h-1zM442.03 113.34h1v1h-1zM450.03 107.81h1v1h-1zM441.1 107.66h1v1h-1zM449.9 109.01h1v1h-1zM459.74 112.54h1v1h-1zM455.85 110.74h1v1h-1zM461.35 108.24h1v1h-1zM456.87 112.69h1v1h-1zM456.31 109.39h1v1h-1zM444.35 108.36h1v1h-1zM444.64 113.11h1v1h-1zM443.33 109.89h1v1h-1zM454.8 115.12h1v1h-1zM450.04 112.96h1v1h-1zM441.28 107.8h1v1h-1zM445.6 109.7h1v1h-1zM458.52 109.54h1v1h-1zM455.61 115.14h1v1h-1zM458.97 111.04h1v1h-1zM450.02 108.65h1v1h-1zM445.23 113.03h1v1h-1zM450.39 114.71h1v1h-1zM448.33 112.63h1v1h-1zM450.79 108.39h1v1h-1zM445.03 111.42h1v1h-1zM454.91 112.71h1v1h-1zM455.66 108.37h1v1h-1zM451.27 110.18h1v1h-1zM455.02 113.85h1v1h-1zM457.57 112.71h1v1h-1zM446.06 109.6h1v1h-1zM453.72 113.15h1v1h-1zM448.25 107.95h1v1h-1zM459.67 110.63h1v1h-1zM448.85 114.77h1v1h-1zM439.5 108.92h1v1h-1zM440.18 112.4h1v1h-1zM447.49 114.24h1v1h-1zM458.29 113.7h1v1h-1zM447.2 113.05h1v1h-1zM456.28 109.01h1v1h-1zM447.42 111.65h1v1h-1zM459.49 109.36h1v1h-1zM455.59 111.92h1v1h-1zM437.18 108.37h1v1h-1zM444.84 109.54h1v1h-1zM447.44 112.53h1v1h-1zM448.53 112.47h1v1h-1zM461.48 107.9h1v1h-1zM456.82 108.08h1v1h-1zM464.03 111.97h1v1h-1zM456.4 112.82h1v1h-1zM455.9 111.15h1v1h-1zM448.04 109.81h1v1h-1zM455.71 112.04h1v1h-1zM459.74 108h1v1h-1zM449.17 113.06h1v1h-1zM446.19 109.33h1v1h-1zM458.92 112.19h1v1h-1zM454.31 108.34h1v1h-1zM458.91 109.34h1v1h-1zM449.69 110.68h1v1h-1zM456.46 114.93h1v1h-1zM450.9 113.7h1v1h-1zM461.99 111.78h1v1h-1zM448.67 110h1v1h-1zM449.59 109.55h1v1h-1zM444.77 111.43h1v1h-1zM448.45 113.48h1v1h-1zM447.83 108.83h1v1h-1zM458.71 113.27h1v1h-1zM440.97 110.64h1v1h-1zM456.92 114.54h1v1h-1zM457.24 111.21h1v1h-1zM460.13 114.13h1v1h-1zM441.75 109.69h1v1h-1zM447.76 115.07h1v1h-1zM461.6 111.14h1v1h-1zM447.09 111.58h1v1h-1zM450.5 108.52h1v1h-1zM453.22 111.19h1v1h-1zM442.98 113.72h1v1h-1zM444.8 108.61h1v1h-1zM456.71 114.78h1v1h-1zM457.01 113.26h1v1h-1zM446.18 114.46h1v1h-1zM455.87 112.24h1v1h-1zM447.35 110.97h1v1h-1zM459.21 109.09h1v1h-1zM449.85 108.63h1v1h-1zM460.37 108.97h1v1h-1zM446.25 114.08h1v1h-1zM448.44 111.33h1v1h-1zM450.37 109.76h1v1h-1zM447.61 113.26h1v1h-1zM459.67 113.47h1v1h-1zM447.41 109.28h1v1h-1zM455.23 114.52h1v1h-1zM454.95 113.5h1v1h-1zM458.19 115.21h1v1h-1zM456.35 113.19h1v1h-1zM460.28 111.55h1v1h-1zM454.37 114.6h1v1h-1zM447.8 113.14h1v1h-1zM445.58 111.39h1v1h-1zM454.81 111.53h1v1h-1zM462.21 110.82h1v1h-1zM457.85 111.6h1v1h-1zM449.37 110.59h1v1h-1zM462.31 111.04h1v1h-1zM446.52 109.92h1v1h-1zM450.82 108.77h1v1h-1zM456.15 108.79h1v1h-1zM446.79 114.33h1v1h-1zM455.97 109.07h1v1h-1zM455.54 109.82h1v1h-1zM450.07 111.81h1v1h-1zM455.57 108.27h1v1h-1zM463.47 108.35h1v1h-1zM449.4 112.5h1v1h-1zM445.95 113.26h1v1h-1zM447.28 112.87h1v1h-1zM451.4 109.53h1v1h-1zM448.32 109.66h1v1h-1zM444.55 111.4h1v1h-1zM460.09 108.3h1v1h-1zM462.37 108.67h1v1h-1zM457.6 115.03h1v1h-1zM450.05 113.6h1v1h-1zM453.76 110.16h1v1h-1zM460.33 111.25h1v1h-1zM458.51 110.42h1v1h-1zM456.34 113.4h1v1h-1zM445.3 111.37h1v1h-1zM451.31 114.95h1v1h-1zM457.14 111.54h1v1h-1zM442.42 112h1v1h-1zM450.75 107.82h1v1h-1zM462.25 108.36h1v1h-1zM442.39 111.76h1v1h-1zM457.83 115.17h1v1h-1zM459.77 112.36h1v1h-1zM452.88 108.87h1v1h-1zM458.29 111.02h1v1h-1zM447.3 110.99h1v1h-1zM455.08 108.48h1v1h-1zM443.8 113.11h1v1h-1zM456.08 113.99h1v1h-1zM453.51 109.4h1v1h-1zM462.66 110.11h1v1h-1zM447.23 113.84h1v1h-1zM461.68 109.65h1v1h-1zM446.77 115h1v1h-1zM446.1 107.89h1v1h-1zM454.61 115.17h1v1h-1zM448.31 109.77h1v1h-1zM450.49 108.46h1v1h-1zM448.53 110.15h1v1h-1zM453.21 111.15h1v1h-1zM450.22 114.98h1v1h-1zM444.65 112.07h1v1h-1zM455.89 111.38h1v1h-1zM458 112.7h1v1h-1zM462.59 110.16h1v1h-1zM463.19 108.5h1v1h-1zM443.3 108.71h1v1h-1zM453.73 114.32h1v1h-1zM455.12 115.26h1v1h-1zM449.12 113.3h1v1h-1zM446.24 113.49h1v1h-1zM462.34 109.8h1v1h-1zM448.83 112.95h1v1h-1zM445.39 114.8h1v1h-1zM449.05 113.4h1v1h-1zM457.33 110.28h1v1h-1zM448.92 112.05h1v1h-1zM455.29 114.84h1v1h-1zM455.29 112.88h1v1h-1zM455.65 109.21h1v1h-1zM449.41 111.97h1v1h-1zM455.55 112.33h1v1h-1zM441.61 111.05h1v1h-1zM451.13 115.11h1v1h-1zM457.98 111.45h1v1h-1zM447.77 113.82h1v1h-1zM446.22 114.69h1v1h-1zM460.82 114.14h1v1h-1zM453.87 113.2h1v1h-1zM455.54 114.08h1v1h-1zM455.45 114.78h1v1h-1zM456.2 110.73h1v1h-1zM461.77 107.82h1v1h-1zM464.47 108.12h1v1h-1zM455.77 109.99h1v1h-1zM459.93 113.4h1v1h-1zM456.45 108.14h1v1h-1zM451.24 108.8h1v1h-1zM457.34 114.74h1v1h-1zM457.94 109.47h1v1h-1zM460.28 110.16h1v1h-1zM456.46 107.79h1v1h-1zM447.67 112.94h1v1h-1zM456.32 107.73h1v1h-1zM448.57 114.87h1v1h-1zM462.71 109.71h1v1h-1zM456.57 111.15h1v1h-1zM454.34 112.49h1v1h-1zM442.33 108.05h1v1h-1zM448.43 108.6h1v1h-1zM449.28 111.04h1v1h-1zM456.52 114.07h1v1h-1zM459.38 110.38h1v1h-1zM442.36 111.1h1v1h-1zM446.81 112.2h1v1h-1zM455.66 112.74h1v1h-1zM451.25 111.16h1v1h-1zM449.64 110.8h1v1h-1zM458.26 111.51h1v1h-1zM454.05 108.53h1v1h-1zM458.2 114.59h1v1h-1zM460.12 109.73h1v1h-1zM445.61 110.5h1v1h-1zM448.16 111.75h1v1h-1zM448.21 110.5h1v1h-1zM454.37 109.23h1v1h-1zM455.11 114.31h1v1h-1zM456.16 114.56h1v1h-1zM456.78 113.09h1v1h-1zM445.95 114h1v1h-1zM447.27 107.62h1v1h-1zM460.94 109.27h1v1h-1zM458.67 114.18h1v1h-1zM449.28 112.6h1v1h-1zM449.22 110.37h1v1h-1zM457.73 114.61h1v1h-1zM456.45 108.91h1v1h-1zM447.66 110.53h1v1h-1zM447.1 107.89h1v1h-1zM456.63 114.78h1v1h-1zM444.66 112.73h1v1h-1zM444.58 109.28h1v1h-1zM451.34 109.41h1v1h-1zM443.46 110.91h1v1h-1zM438.53 108.52h1v1h-1zM455.47 108.12h1v1h-1zM444.36 110.42h1v1h-1zM455.95 114.95h1v1h-1zM457.19 112.3h1v1h-1zM453.37 114.28h1v1h-1zM447.18 108.16h1v1h-1zM453.26 111.24h1v1h-1zM437.58 108.47h1v1h-1zM442.52 108.52h1v1h-1zM447.64 108.03h1v1h-1zM450.05 113.97h1v1h-1zM448.59 115.21h1v1h-1zM453.29 107.66h1v1h-1zM458.01 112.48h1v1h-1zM459.49 107.76h1v1h-1zM447.27 113.5h1v1h-1zM443.79 110.15h1v1h-1zM455.94 113.31h1v1h-1zM446.25 114.44h1v1h-1zM460.83 108.03h1v1h-1zM459.98 109.48h1v1h-1zM462.33 110.36h1v1h-1zM446.72 112.71h1v1h-1zM458.39 113h1v1h-1zM458.33 108.01h1v1h-1zM442.19 109.62h1v1h-1zM459.85 107.97h1v1h-1zM462.25 109.93h1v1h-1zM444.77 111.24h1v1h-1zM449.63 113.1h1v1h-1zM449.44 110.75h1v1h-1zM461.82 109.84h1v1h-1zM447.62 114.89h1v1h-1zM458.73 111.87h1v1h-1zM459.56 114.49h1v1h-1zM458.2 112.3h1v1h-1zM461.91 112.28h1v1h-1zM462.36 110.73h1v1h-1zM459.5 114.13h1v1h-1zM443.06 111.16h1v1h-1zM446.43 110.61h1v1h-1zM457.89 108.71h1v1h-1zM457.08 108.74h1v1h-1zM457.38 113.87h1v1h-1zM448.01 108.85h1v1h-1zM456.66 113.84h1v1h-1zM455.61 108.56h1v1h-1zM455.51 110.75h1v1h-1zM451.19 107.68h1v1h-1zM455.55 113.53h1v1h-1zM443.85 110.23h1v1h-1zM450.98 108.12h1v1h-1zM459.29 108.43h1v1h-1zM448.61 109.09h1v1h-1zM458.49 107.98h1v1h-1zM449.34 109.2h1v1h-1zM458.65 111.45h1v1h-1zM446.99 112.86h1v1h-1zM461.06 109.41h1v1h-1zM443.96 110.86h1v1h-1zM440.95 109.72h1v1h-1zM448.82 112.74h1v1h-1zM444.64 111.07h1v1h-1zM442.5 107.72h1v1h-1zM439.01 108.44h1v1h-1zM458.53 114.38h1v1h-1zM445.79 112.78h1v1h-1zM456.24 108.19h1v1h-1zM454.91 109.76h1v1h-1zM455.12 110.21h1v1h-1zM459.4 108.59h1v1h-1zM454.04 111.08h1v1h-1zM442.09 107.68h1v1h-1zM439.65 108.9h1v1h-1zM449.7 109.28h1v1h-1zM450.81 114.24h1v1h-1zM461.34 110.4h1v1h-1zM445.26 113.34h1v1h-1zM456.37 110.21h1v1h-1zM448.56 109.78h1v1h-1zM450.81 109.67h1v1h-1zM456.36 113.53h1v1h-1zM457.1 113.97h1v1h-1zM446.01 110.99h1v1h-1zM439.78 108.18h1v1h-1zM460.16 107.86h1v1h-1zM461.84 107.8h1v1h-1zM443.37 112.12h1v1h-1zM447.41 112.94h1v1h-1zM456.75 109.2h1v1h-1zM445.9 111.19h1v1h-1zM448.41 113.08h1v1h-1zM448.06 108.52h1v1h-1zM449.41 114.87h1v1h-1zM449.35 113.56h1v1h-1zM444.91 110.26h1v1h-1zM451.01 113.96h1v1h-1zM453.2 108.28h1v1h-1zM462.73 107.79h1v1h-1zM460.82 111.91h1v1h-1zM441 109.95h1v1h-1zM455.69 109.13h1v1h-1zM456.51 111.62h1v1h-1zM450.7 113.52h1v1h-1zM450.59 108.59h1v1h-1zM446.03 111.15h1v1h-1zM445.73 108.06h1v1h-1zM450.67 111.13h1v1h-1zM444.18 111.01h1v1h-1zM453 110.1h1v1h-1zM461.11 110.37h1v1h-1zM450.79 109.56h1v1h-1zM461.78 108.19h1v1h-1zM456.9 110.36h1v1h-1zM459.29 113.24h1v1h-1zM455.45 114.48h1v1h-1zM438.62 108.56h1v1h-1zM444.54 114.21h1v1h-1zM451.15 113.18h1v1h-1zM453.25 115.18h1v1h-1zM450.59 113.46h1v1h-1zM453.46 114.07h1v1h-1zM443.82 108.41h1v1h-1zM449.16 114.79h1v1h-1zM460.82 109.45h1v1h-1zM453.86 114.87h1v1h-1zM457.76 111.11h1v1h-1zM447.49 114.37h1v1h-1zM442.36 112.24h1v1h-1zM454.45 110.97h1v1h-1zM461.25 107.7h1v1h-1zM456.43 107.91h1v1h-1zM458.86 108.99h1v1h-1zM449.01 113h1v1h-1zM445.12 112.5h1v1h-1zM459.08 110.73h1v1h-1zM457.55 114.32h1v1h-1zM444.68 109.19h1v1h-1zM458.99 113.97h1v1h-1zM444.81 108.81h1v1h-1zM446.66 112.93h1v1h-1zM456.64 114.09h1v1h-1zM457.64 114.25h1v1h-1zM457.88 110.12h1v1h-1zM443.18 107.8h1v1h-1zM437.75 108.24h1v1h-1zM461.09 107.81h1v1h-1zM453.25 109.59h1v1h-1zM461.18 110.15h1v1h-1zM443.8 110.66h1v1h-1zM444.66 110.61h1v1h-1zM446.62 113.32h1v1h-1zM446.95 115.22h1v1h-1zM447.6 112.78h1v1h-1zM454.24 112.53h1v1h-1zM450.76 107.8h1v1h-1zM449.56 113.62h1v1h-1zM439.42 107.85h1v1h-1zM447.36 114.37h1v1h-1zM445.58 107.9h1v1h-1zM456.2 113.13h1v1h-1zM450.88 115.08h1v1h-1zM458.26 111.08h1v1h-1zM457.37 115.04h1v1h-1zM457.01 107.74h1v1h-1zM457.96 115.08h1v1h-1zM450.29 115.19h1v1h-1zM460.48 109.66h1v1h-1zM454.04 113.61h1v1h-1zM451.05 110.39h1v1h-1zM451.56 110.01h1v1h-1zM448.28 112.21h1v1h-1zM446.56 112.75h1v1h-1zM457.85 108.07h1v1h-1zM447.56 110.86h1v1h-1zM448.48 114.33h1v1h-1zM445.58 111.85h1v1h-1zM442.34 110.06h1v1h-1zM457.25 108.74h1v1h-1zM459.85 113.46h1v1h-1zM453.72 110.02h1v1h-1zM446.86 109.43h1v1h-1zM458.89 109.38h1v1h-1zM456.82 114.86h1v1h-1zM443.49 108.02h1v1h-1zM460.63 112.46h1v1h-1zM445.3 108.99h1v1h-1zM453.7 114.22h1v1h-1zM459.54 112.92h1v1h-1zM445.59 108.55h1v1h-1zM458.27 115.01h1v1h-1zM448.99 111.34h1v1h-1zM455.38 110.2h1v1h-1zM462.28 113.8h1v1h-1zM440.83 109.7h1v1h-1zM449.96 112.94h1v1h-1zM450.93 111.21h1v1h-1zM445.6 111.14h1v1h-1zM451.43 108.96h1v1h-1zM454.98 110.33h1v1h-1zM442.26 109.46h1v1h-1zM450.38 109.18h1v1h-1zM457.9 112.98h1v1h-1zM444.39 111.56h1v1h-1zM446.84 110.55h1v1h-1zM456.5 110.12h1v1h-1zM444.21 110.04h1v1h-1zM451.44 114.91h1v1h-1zM453.57 113.23h1v1h-1zM448.51 113.57h1v1h-1zM446.69 112.66h1v1h-1zM457.91 113.57h1v1h-1zM453.11 115.26h1v1h-1zM453.42 113.1h1v1h-1zM458.57 111.59h1v1h-1zM445.64 108.47h1v1h-1zM449.39 111.45h1v1h-1zM457.86 114.28h1v1h-1zM459.36 107.95h1v1h-1zM447.66 112.54h1v1h-1zM455.77 114.69h1v1h-1zM460.86 111.54h1v1h-1zM459.62 110.57h1v1h-1zM455.28 112.45h1v1h-1zM446.87 113.71h1v1h-1zM450.4 108.34h1v1h-1zM448.6 109.65h1v1h-1zM442.78 110.66h1v1h-1zM455.26 113.05h1v1h-1zM450.96 113.63h1v1h-1zM461.05 110.14h1v1h-1zM451.37 114.46h1v1h-1zM453.74 109.18h1v1h-1zM444.97 112.91h1v1h-1zM453.24 114.21h1v1h-1zM450.91 110.63h1v1h-1zM458.92 111.28h1v1h-1zM459.05 114.01h1v1h-1zM454.49 110.87h1v1h-1zM442.57 112.02h1v1h-1zM442.95 110.36h1v1h-1zM453.28 114.71h1v1h-1zM458.35 114.36h1v1h-1zM457.16 107.64h1v1h-1zM449.98 108.66h1v1h-1zM454.29 108.2h1v1h-1zM452.89 114.56h1v1h-1zM459.31 108.93h1v1h-1zM455.43 111.65h1v1h-1zM457.23 114.07h1v1h-1zM456.53 109.36h1v1h-1zM456.61 113.43h1v1h-1zM461.55 109.08h1v1h-1zM450.18 113.83h1v1h-1zM448.97 110.4h1v1h-1zM446.92 113.95h1v1h-1zM453.73 113.38h1v1h-1zM446.25 113.51h1v1h-1zM456.76 108.53h1v1h-1zM458.66 114.77h1v1h-1zM440.44 112.85h1v1h-1zM460.59 110.03h1v1h-1zM463.9 110.52h1v1h-1zM460.03 111.47h1v1h-1zM453.95 107.99h1v1h-1zM461.04 109.77h1v1h-1zM462.51 110.42h1v1h-1zM444.94 114.32h1v1h-1zM453.17 113.16h1v1h-1zM451.1 111.25h1v1h-1zM458.57 111.9h1v1h-1zM447.59 112.1h1v1h-1zM457.33 113.52h1v1h-1zM450.5 108.16h1v1h-1zM456.06 112.32h1v1h-1zM460.74 112.53h1v1h-1zM456.35 109.37h1v1h-1zM451.41 114.62h1v1h-1zM450.36 112.93h1v1h-1zM457.48 114.34h1v1h-1zM460.78 109.3h1v1h-1zM449.35 109.18h1v1h-1zM451.31 110.42h1v1h-1zM447.31 108.2h1v1h-1zM447.9 112.37h1v1h-1zM456.17 111.55h1v1h-1zM449.7 110.46h1v1h-1zM441.7 107.67h1v1h-1zM443.5 108.7h1v1h-1zM444.05 112.51h1v1h-1zM449.12 108.55h1v1h-1zM449.67 108.59h1v1h-1zM450.75 109.23h1v1h-1zM463.63 112.31h1v1h-1zM445.14 110.05h1v1h-1zM449.71 113.1h1v1h-1zM460.63 109.94h1v1h-1zM454.37 110.78h1v1h-1zM451.09 113.11h1v1h-1zM443.54 113.7h1v1h-1zM455.08 114.63h1v1h-1zM447.29 111.85h1v1h-1zM450.23 108.75h1v1h-1zM458.27 114.35h1v1h-1zM459.41 113.33h1v1h-1zM448.7 113.34h1v1h-1zM462.09 111.73h1v1h-1zM455.2 110.61h1v1h-1zM450.84 108.66h1v1h-1zM460 108.18h1v1h-1zM450.86 112.62h1v1h-1zM459.25 112.6h1v1h-1zM455.84 108.18h1v1h-1zM456.88 109.22h1v1h-1zM450.71 108.62h1v1h-1zM447.27 114.7h1v1h-1zM456.01 112.54h1v1h-1zM442.2 110.31h1v1h-1zM456.98 110.92h1v1h-1zM441.65 109.9h1v1h-1zM461.82 110.88h1v1h-1zM457.1 111.11h1v1h-1zM437.85 108.63h1v1h-1zM447.09 113.67h1v1h-1zM449.26 109.86h1v1h-1zM461.71 110.12h1v1h-1zM440.89 109.12h1v1h-1zM443.46 109.73h1v1h-1zM459.55 113.44h1v1h-1zM445.89 115.19h1v1h-1zM459.98 107.89h1v1h-1zM439.14 108.75h1v1h-1zM462.46 111.24h1v1h-1zM458.81 113.72h1v1h-1zM462.07 110.41h1v1h-1zM457.5 113.8h1v1h-1zM440.87 109.05h1v1h-1zM456.7 107.63h1v1h-1zM458 114.45h1v1h-1zM457.22 113.38h1v1h-1zM441.33 108.54h1v1h-1zM443.29 108.01h1v1h-1zM451.17 111.45h1v1h-1zM446.25 112.49h1v1h-1zM448.49 114.98h1v1h-1zM460.68 114.19h1v1h-1zM444.88 113.01h1v1h-1zM453.93 109.66h1v1h-1zM445.99 111.1h1v1h-1zM457.88 114.91h1v1h-1zM460.27 110.82h1v1h-1zM444.73 113.19h1v1h-1zM450 111.89h1v1h-1zM462.55 110.45h1v1h-1zM458.91 111.08h1v1h-1zM451.43 110.83h1v1h-1zM449.03 111.07h1v1h-1zM456.87 110.44h1v1h-1zM457.83 108.34h1v1h-1zM458.03 112.91h1v1h-1zM456.12 107.86h1v1h-1zM454.03 114.49h1v1h-1zM443.04 108.42h1v1h-1zM460.83 109.84h1v1h-1zM449.52 110.06h1v1h-1zM454.71 114.38h1v1h-1zM453.66 109.93h1v1h-1zM454.55 115.26h1v1h-1zM460.73 108.92h1v1h-1zM449.76 110.93h1v1h-1zM457.83 108.32h1v1h-1zM458.87 111.86h1v1h-1zM444.72 108.02h1v1h-1zM456.1 115.27h1v1h-1zM450.64 113.87h1v1h-1zM446.25 112.67h1v1h-1zM447.09 112.76h1v1h-1zM458.49 113.6h1v1h-1zM453.99 107.91h1v1h-1zM454.33 112.28h1v1h-1zM461.55 110.72h1v1h-1zM457.12 114.71h1v1h-1zM444.7 110.57h1v1h-1zM463.98 108.75h1v1h-1zM454.75 109.85h1v1h-1zM450.26 114.98h1v1h-1zM442.24 111.19h1v1h-1zM444.07 109.21h1v1h-1zM440.87 111.01h1v1h-1zM457.62 114.44h1v1h-1zM451.57 109.47h1v1h-1zM448.75 113.44h1v1h-1zM448.26 114.29h1v1h-1zM461.14 111.68h1v1h-1zM458.11 114.31h1v1h-1zM459.55 110.29h1v1h-1zM450.58 114.89h1v1h-1zM455.34 111.55h1v1h-1zM462.02 108.71h1v1h-1zM445.93 114.88h1v1h-1zM449.04 114.81h1v1h-1zM460.37 107.73h1v1h-1zM450.82 107.61h1v1h-1zM461.11 110.37h1v1h-1zM460.02 111.17h1v1h-1zM462.79 108.87h1v1h-1zM438.31 108.9h1v1h-1zM449.49 110.31h1v1h-1zM442 110.67h1v1h-1zM456.49 110.32h1v1h-1zM449.51 115.08h1v1h-1zM443.7 110.35h1v1h-1zM460.15 110.98h1v1h-1zM450.2 115.2h1v1h-1zM453.87 113.77h1v1h-1zM444.02 111.7h1v1h-1zM445.22 114.52h1v1h-1zM443.45 109.36h1v1h-1zM444.24 109.18h1v1h-1zM445.7 114.06h1v1h-1zM454.67 109.1h1v1h-1zM444.24 111.87h1v1h-1zM450.27 113.37h1v1h-1zM445.98 112.1h1v1h-1zM445.94 108.99h1v1h-1zM463.08 110.22h1v1h-1zM456.7 112.11h1v1h-1zM460.8 111.7h1v1h-1zM461.45 109.68h1v1h-1zM446.14 108.04h1v1h-1zM457.76 111.84h1v1h-1zM444.23 110.77h1v1h-1zM442.29 111.1h1v1h-1zM456.65 108.43h1v1h-1zM453.17 110.48h1v1h-1zM463.45 108.46h1v1h-1zM453.17 109.22h1v1h-1zM447.92 111.57h1v1h-1zM460.9 110.34h1v1h-1zM453.7 111.2h1v1h-1zM442.29 107.91h1v1h-1zM457.62 110.09h1v1h-1zM447.95 114.41h1v1h-1zM449.61 107.96h1v1h-1zM443.79 108.76h1v1h-1zM449.02 115.02h1v1h-1zM449.31 111.08h1v1h-1zM447.25 111.21h1v1h-1zM460.69 111.73h1v1h-1zM454.37 109h1v1h-1zM455.98 108h1v1h-1zM441.52 110.18h1v1h-1zM446.15 112.99h1v1h-1zM442.21 112.96h1v1h-1zM443.78 108.49h1v1h-1zM450.19 109.2h1v1h-1zM458.52 114.59h1v1h-1zM459.34 112.46h1v1h-1zM439.73 109.07h1v1h-1zM450.87 111.06h1v1h-1zM453.12 113.11h1v1h-1zM448.29 109.66h1v1h-1zM452.95 114h1v1h-1zM457.5 112.48h1v1h-1zM457.92 110.55h1v1h-1zM453.15 114.88h1v1h-1zM445.52 110.99h1v1h-1zM445.71 114.02h1v1h-1zM448.99 111.54h1v1h-1zM457.53 108.52h1v1h-1zM444.12 112.84h1v1h-1zM450.92 111.83h1v1h-1zM456.72 108.75h1v1h-1zM461.83 108.18h1v1h-1zM445.93 110.48h1v1h-1zM448.51 109.56h1v1h-1zM464.08 108.29h1v1h-1zM454.43 112.31h1v1h-1zM457.18 110.04h1v1h-1zM450.7 107.91h1v1h-1zM462.86 107.66h1v1h-1zM449.16 111.37h1v1h-1zM454.72 115.07h1v1h-1zM453.96 114.16h1v1h-1zM460.39 108.55h1v1h-1zM453.03 112.22h1v1h-1zM466.19 112.93h1v1h-1zM429.58 107.73h1v1h-1zM433.72 114.96h1v1h-1zM439.38 113.08h1v1h-1zM471.34 111.88h1v1h-1zM471.84 111.57h1v1h-1zM471.93 109.21h1v1h-1zM471.98 110.81h1v1h-1zM433.51 115.15h1v1h-1zM469.65 111.53h1v1h-1zM464.72 114.03h1v1h-1zM440.56 114.25h1v1h-1zM473.38 108.55h1v1h-1zM440.66 110.95h1v1h-1z" fill="#111"/>
<line x1="417.1" y1="108.1" x2="488.3" y2="108.1" stroke="#111" stroke-width="1.3"/>
<text x="15.6" y="186.6" font-size="12" font-weight="bold" fill="#111">M</text>
<rect x="30" y="223.3" width="90" height="13" fill="#efbdb2" stroke="#1a1a1a" stroke-width="1.2"/>
<text x="75" y="232.7" font-size="7.8" text-anchor="middle" textLength="75" lengthAdjust="spacingAndGlyphs">Diseases &amp; Functions</text>
<rect x="133.5" y="196.3" width="47" height="30.4" fill="#efbdb2" stroke="#1a1a1a" stroke-width="1.2"/>
<text x="157" y="206.1" font-size="7.2" text-anchor="middle">Sdc2<tspan font-size="4.8" dy="-3">+</tspan><tspan dy="3"> HSCs</tspan></text>
<text x="157" y="214.9" font-size="7.2" text-anchor="middle">vs.</text>
<text x="157" y="223.6" font-size="7.2" text-anchor="middle">Sdc2<tspan font-size="4.8" dy="-3">–</tspan><tspan dy="3"> HSCs</tspan></text>
<text x="144.7" y="235.4" font-size="7.2" text-anchor="middle">1</text>
<text x="158.5" y="235.4" font-size="7.2" text-anchor="middle">2</text>
<text x="172.2" y="235.4" font-size="7.2" text-anchor="middle">3</text>
<clipPath id="hc1"><rect x="138" y="238.5" width="40.8" height="133.9"/></clipPath>
<g clip-path="url(#hc1)">
<rect x="138" y="238.5" width="40.8" height="133.9" fill="#fff"/>
<rect x="138.12" y="238.82" width="12.95" height="12.74" fill="#f5ac76"/>
<rect x="151.72" y="238.82" width="12.95" height="12.74" fill="#f7c6a2"/>
<rect x="165.32" y="238.82" width="12.95" height="12.74" fill="#f0781e"/>
<rect x="138.12" y="252.21" width="12.95" height="12.74" fill="#f5ac76"/>
<rect x="151.72" y="252.21" width="12.95" height="12.74" fill="#f7c6a2"/>
<rect x="165.32" y="252.21" width="12.95" height="12.74" fill="#f0781e"/>
<rect x="138.12" y="265.6" width="12.95" height="12.74" fill="#f39b59"/>
<rect x="151.72" y="265.6" width="12.95" height="12.74" fill="#f4a367"/>
<rect x="165.32" y="265.6" width="12.95" height="12.74" fill="#f0781e"/>
<rect x="138.12" y="279" width="12.95" height="12.74" fill="#f9d7bf"/>
<rect x="151.72" y="279" width="12.95" height="12.74" fill="#fbede4"/>
<rect x="165.32" y="279" width="12.95" height="12.74" fill="#f7c29b"/>
<rect x="138.12" y="292.38" width="12.95" height="12.74" fill="#f6b98c"/>
<rect x="151.72" y="292.38" width="12.95" height="12.74" fill="#f8cfb1"/>
<rect x="165.32" y="292.38" width="12.95" height="12.74" fill="#f4a367"/>
<rect x="138.12" y="305.77" width="12.95" height="12.74" fill="#fbf4ef"/>
<rect x="151.72" y="305.77" width="12.95" height="12.74" fill="#fcfafa"/>
<rect x="165.32" y="305.77" width="12.95" height="12.74" fill="#eaebf3"/>
<rect x="138.12" y="319.17" width="12.95" height="12.74" fill="#f6b585"/>
<rect x="151.72" y="319.17" width="12.95" height="12.74" fill="#f8caa9"/>
<rect x="165.32" y="319.17" width="12.95" height="12.74" fill="#f39b59"/>
<rect x="138.12" y="332.56" width="12.95" height="12.74" fill="#fcf6f3"/>
<rect x="151.72" y="332.56" width="12.95" height="12.74" fill="#d9dbec"/>
<rect x="165.32" y="332.56" width="12.95" height="12.74" fill="#fcf8f6"/>
<rect x="138.12" y="345.94" width="12.95" height="12.74" fill="#fbede4"/>
<rect x="151.72" y="345.94" width="12.95" height="12.74" fill="#fcf6f3"/>
<rect x="165.32" y="345.94" width="12.95" height="12.74" fill="#f5ac76"/>
<rect x="138.12" y="359.33" width="12.95" height="12.74" fill="#f7c49e"/>
<rect x="151.72" y="359.33" width="12.95" height="12.74" fill="#f8ccad"/>
<rect x="165.32" y="359.33" width="12.95" height="12.74" fill="#fcf6f3"/>
</g>
<rect x="138" y="238.5" width="40.8" height="133.9" fill="none" stroke="#1a1a1a" stroke-width="1.2"/>
<text x="134.6" y="248.3" font-size="6.5" text-anchor="end" textLength="54.13" lengthAdjust="spacingAndGlyphs">Tissue morphology</text>
<text x="134.6" y="261.5" font-size="6.5" text-anchor="end" textLength="101.58" lengthAdjust="spacingAndGlyphs">Hematological system development</text>
<text x="134.6" y="274.7" font-size="6.5" text-anchor="end" textLength="53.65" lengthAdjust="spacingAndGlyphs">Cellular movement</text>
<text x="134.6" y="287.9" font-size="6.5" text-anchor="end" textLength="60.45" lengthAdjust="spacingAndGlyphs">Cellular development</text>
<text x="134.6" y="301.1" font-size="6.5" text-anchor="end" textLength="90.86" lengthAdjust="spacingAndGlyphs">Cellular growth and proliferation</text>
<text x="134.6" y="314.3" font-size="6.5" text-anchor="end" textLength="46.5" lengthAdjust="spacingAndGlyphs">Cell morphology</text>
<text x="134.6" y="327.5" font-size="6.5" text-anchor="end" textLength="124.24" lengthAdjust="spacingAndGlyphs">Lymphoid tissue structure and development</text>
<text x="134.6" y="340.7" font-size="6.5" text-anchor="end" textLength="57.35" lengthAdjust="spacingAndGlyphs">Tissue development</text>
<text x="134.6" y="353.9" font-size="6.5" text-anchor="end" textLength="42.56" lengthAdjust="spacingAndGlyphs">Hematopoiesis</text>
<text x="134.6" y="367.1" font-size="6.5" text-anchor="end" textLength="101.59" lengthAdjust="spacingAndGlyphs">Cell-to-cell signaling and interaction</text>
<defs><linearGradient id="gM" x1="0" x2="1" y1="0" y2="0"><stop offset="0" stop-color="#2c3c98"/><stop offset="0.5" stop-color="#ffffff"/><stop offset="1" stop-color="#f07a1c"/></linearGradient></defs>
<rect x="135.4" y="376.3" width="45" height="6" fill="url(#gM)" stroke="#1a1a1a" stroke-width="1.1"/>
<text x="135.2" y="392" font-size="7.8" text-anchor="middle">0</text>
<text x="180.8" y="392" font-size="7.8" text-anchor="middle">22</text>
<text x="158" y="404.7" font-size="9.4" text-anchor="middle" textLength="52.5" lengthAdjust="spacingAndGlyphs">-log<tspan font-size="6.8" dy="2.6">10</tspan><tspan dy="-2.6"> corrected</tspan></text>
<text x="158.2" y="415" font-size="9.4" text-anchor="middle" textLength="23.6" lengthAdjust="spacingAndGlyphs">p value</text>
<text x="217.6" y="185.9" font-size="12" font-weight="bold" fill="#111">N</text>
<clipPath id="hc2"><rect x="246.3" y="186.1" width="70.5" height="279.2"/></clipPath>
<g clip-path="url(#hc2)">
<rect x="246.3" y="186.1" width="70.5" height="279.2" fill="#fff"/>
<rect x="247.15" y="185.75" width="7.1" height="7.12" fill="#b0b7db"/>
<rect x="254.95" y="185.75" width="7.1" height="7.12" fill="#8793ca"/>
<rect x="262.75" y="185.75" width="7.1" height="7.12" fill="#8793ca"/>
<rect x="270.55" y="185.75" width="7.1" height="7.12" fill="#4c60b2"/>
<rect x="278.35" y="185.75" width="7.1" height="7.12" fill="#4c60b2"/>
<rect x="286.15" y="185.75" width="7.1" height="7.12" fill="#4c60b2"/>
<rect x="293.95" y="185.75" width="7.1" height="7.12" fill="#f0781e"/>
<rect x="301.75" y="185.75" width="7.1" height="7.12" fill="#f4a367"/>
<rect x="309.55" y="185.75" width="7.1" height="7.12" fill="#f4a367"/>
<rect x="247.15" y="193.57" width="7.1" height="7.12" fill="#4c60b2"/>
<rect x="254.95" y="193.57" width="7.1" height="7.12" fill="#8793ca"/>
<rect x="262.75" y="193.57" width="7.1" height="7.12" fill="#4c60b2"/>
<rect x="270.55" y="193.57" width="7.1" height="7.12" fill="#4c60b2"/>
<rect x="278.35" y="193.57" width="7.1" height="7.12" fill="#4c60b2"/>
<rect x="286.15" y="193.57" width="7.1" height="7.12" fill="#4c60b2"/>
<rect x="293.95" y="193.57" width="7.1" height="7.12" fill="#f6b98c"/>
<rect x="301.75" y="193.57" width="7.1" height="7.12" fill="#fcfafa"/>
<rect x="309.55" y="193.57" width="7.1" height="7.12" fill="#f0781e"/>
<rect x="247.15" y="201.39" width="7.1" height="7.12" fill="#4c60b2"/>
<rect x="254.95" y="201.39" width="7.1" height="7.12" fill="#f4a367"/>
<rect x="262.75" y="201.39" width="7.1" height="7.12" fill="#8793ca"/>
<rect x="270.55" y="201.39" width="7.1" height="7.12" fill="#4c60b2"/>
<rect x="278.35" y="201.39" width="7.1" height="7.12" fill="#f0781e"/>
<rect x="286.15" y="201.39" width="7.1" height="7.12" fill="#697abe"/>
<rect x="293.95" y="201.39" width="7.1" height="7.12" fill="#c1c7e2"/>
<rect x="301.75" y="201.39" width="7.1" height="7.12" fill="#f9dcc7"/>
<rect x="309.55" y="201.39" width="7.1" height="7.12" fill="#f0781e"/>
<rect x="247.15" y="209.21" width="7.1" height="7.12" fill="#f0781e"/>
<rect x="254.95" y="209.21" width="7.1" height="7.12" fill="#697abe"/>
<rect x="262.75" y="209.21" width="7.1" height="7.12" fill="#4c60b2"/>
<rect x="270.55" y="209.21" width="7.1" height="7.12" fill="#4c60b2"/>
<rect x="278.35" y="209.21" width="7.1" height="7.12" fill="#4c60b2"/>
<rect x="286.15" y="209.21" width="7.1" height="7.12" fill="#4c60b2"/>
<rect x="293.95" y="209.21" width="7.1" height="7.12" fill="#f0781e"/>
<rect x="301.75" y="209.21" width="7.1" height="7.12" fill="#f4a367"/>
<rect x="309.55" y="209.21" width="7.1" height="7.12" fill="#fcfafa"/>
<rect x="247.15" y="217.03" width="7.1" height="7.12" fill="#fcfafa"/>
<rect x="254.95" y="217.03" width="7.1" height="7.12" fill="#b0b7db"/>
<rect x="262.75" y="217.03" width="7.1" height="7.12" fill="#fae4d5"/>
<rect x="270.55" y="217.03" width="7.1" height="7.12" fill="#4c60b2"/>
<rect x="278.35" y="217.03" width="7.1" height="7.12" fill="#4c60b2"/>
<rect x="286.15" y="217.03" width="7.1" height="7.12" fill="#4c60b2"/>
<rect x="293.95" y="217.03" width="7.1" height="7.12" fill="#f0781e"/>
<rect x="301.75" y="217.03" width="7.1" height="7.12" fill="#f4a367"/>
<rect x="309.55" y="217.03" width="7.1" height="7.12" fill="#f7c29b"/>
<rect x="247.15" y="224.85" width="7.1" height="7.12" fill="#a4add6"/>
<rect x="254.95" y="224.85" width="7.1" height="7.12" fill="#8793ca"/>
<rect x="262.75" y="224.85" width="7.1" height="7.12" fill="#8793ca"/>
<rect x="270.55" y="224.85" width="7.1" height="7.12" fill="#4c60b2"/>
<rect x="278.35" y="224.85" width="7.1" height="7.12" fill="#4c60b2"/>
<rect x="286.15" y="224.85" width="7.1" height="7.12" fill="#4c60b2"/>
<rect x="293.95" y="224.85" width="7.1" height="7.12" fill="#f4a367"/>
<rect x="301.75" y="224.85" width="7.1" height="7.12" fill="#f6b98c"/>
<rect x="309.55" y="224.85" width="7.1" height="7.12" fill="#f0781e"/>
<rect x="247.15" y="232.67" width="7.1" height="7.12" fill="#cdd1e7"/>
<rect x="254.95" y="232.67" width="7.1" height="7.12" fill="#b0b7db"/>
<rect x="262.75" y="232.67" width="7.1" height="7.12" fill="#dfe0ee"/>
<rect x="270.55" y="232.67" width="7.1" height="7.12" fill="#4c60b2"/>
<rect x="278.35" y="232.67" width="7.1" height="7.12" fill="#4c60b2"/>
<rect x="286.15" y="232.67" width="7.1" height="7.12" fill="#4c60b2"/>
<rect x="293.95" y="232.67" width="7.1" height="7.12" fill="#f0781e"/>
<rect x="301.75" y="232.67" width="7.1" height="7.12" fill="#f0781e"/>
<rect x="309.55" y="232.67" width="7.1" height="7.12" fill="#f0781e"/>
<rect x="247.15" y="240.49" width="7.1" height="7.12" fill="#7b89c5"/>
<rect x="254.95" y="240.49" width="7.1" height="7.12" fill="#8793ca"/>
<rect x="262.75" y="240.49" width="7.1" height="7.12" fill="#cdd1e7"/>
<rect x="270.55" y="240.49" width="7.1" height="7.12" fill="#4c60b2"/>
<rect x="278.35" y="240.49" width="7.1" height="7.12" fill="#4c60b2"/>
<rect x="286.15" y="240.49" width="7.1" height="7.12" fill="#5e6fb9"/>
<rect x="293.95" y="240.49" width="7.1" height="7.12" fill="#f0781e"/>
<rect x="301.75" y="240.49" width="7.1" height="7.12" fill="#f0781e"/>
<rect x="309.55" y="240.49" width="7.1" height="7.12" fill="#f4a367"/>
<rect x="247.15" y="248.31" width="7.1" height="7.12" fill="#b0b7db"/>
<rect x="254.95" y="248.31" width="7.1" height="7.12" fill="#a4add6"/>
<rect x="262.75" y="248.31" width="7.1" height="7.12" fill="#c1c7e2"/>
<rect x="270.55" y="248.31" width="7.1" height="7.12" fill="#697abe"/>
<rect x="278.35" y="248.31" width="7.1" height="7.12" fill="#4c60b2"/>
<rect x="286.15" y="248.31" width="7.1" height="7.12" fill="#4c60b2"/>
<rect x="293.95" y="248.31" width="7.1" height="7.12" fill="#f0781e"/>
<rect x="301.75" y="248.31" width="7.1" height="7.12" fill="#f28e43"/>
<rect x="309.55" y="248.31" width="7.1" height="7.12" fill="#f4a367"/>
<rect x="247.15" y="256.13" width="7.1" height="7.12" fill="#cdd1e7"/>
<rect x="254.95" y="256.13" width="7.1" height="7.12" fill="#b6bcdd"/>
<rect x="262.75" y="256.13" width="7.1" height="7.12" fill="#dfe0ee"/>
<rect x="270.55" y="256.13" width="7.1" height="7.12" fill="#4c60b2"/>
<rect x="278.35" y="256.13" width="7.1" height="7.12" fill="#4c60b2"/>
<rect x="286.15" y="256.13" width="7.1" height="7.12" fill="#697abe"/>
<rect x="293.95" y="256.13" width="7.1" height="7.12" fill="#f6b98c"/>
<rect x="301.75" y="256.13" width="7.1" height="7.12" fill="#f8cfb1"/>
<rect x="309.55" y="256.13" width="7.1" height="7.12" fill="#f0781e"/>
<rect x="247.15" y="263.95" width="7.1" height="7.12" fill="#b0b7db"/>
<rect x="254.95" y="263.95" width="7.1" height="7.12" fill="#c1c7e2"/>
<rect x="262.75" y="263.95" width="7.1" height="7.12" fill="#cdd1e7"/>
<rect x="270.55" y="263.95" width="7.1" height="7.12" fill="#4c60b2"/>
<rect x="278.35" y="263.95" width="7.1" height="7.12" fill="#4c60b2"/>
<rect x="286.15" y="263.95" width="7.1" height="7.12" fill="#4c60b2"/>
<rect x="293.95" y="263.95" width="7.1" height="7.12" fill="#f8cfb1"/>
<rect x="301.75" y="263.95" width="7.1" height="7.12" fill="#f4a367"/>
<rect x="309.55" y="263.95" width="7.1" height="7.12" fill="#f0781e"/>
<rect x="247.15" y="271.77" width="7.1" height="7.12" fill="#7b89c5"/>
<rect x="254.95" y="271.77" width="7.1" height="7.12" fill="#c1c7e2"/>
<rect x="262.75" y="271.77" width="7.1" height="7.12" fill="#929ecf"/>
<rect x="270.55" y="271.77" width="7.1" height="7.12" fill="#4c60b2"/>
<rect x="278.35" y="271.77" width="7.1" height="7.12" fill="#4c60b2"/>
<rect x="286.15" y="271.77" width="7.1" height="7.12" fill="#cdd1e7"/>
<rect x="293.95" y="271.77" width="7.1" height="7.12" fill="#f6b98c"/>
<rect x="301.75" y="271.77" width="7.1" height="7.12" fill="#fbede4"/>
<rect x="309.55" y="271.77" width="7.1" height="7.12" fill="#f0781e"/>
<rect x="247.15" y="279.59" width="7.1" height="7.12" fill="#a4add6"/>
<rect x="254.95" y="279.59" width="7.1" height="7.12" fill="#dfe0ee"/>
<rect x="262.75" y="279.59" width="7.1" height="7.12" fill="#f8cfb1"/>
<rect x="270.55" y="279.59" width="7.1" height="7.12" fill="#8793ca"/>
<rect x="278.35" y="279.59" width="7.1" height="7.12" fill="#cdd1e7"/>
<rect x="286.15" y="279.59" width="7.1" height="7.12" fill="#4c60b2"/>
<rect x="293.95" y="279.59" width="7.1" height="7.12" fill="#f0781e"/>
<rect x="301.75" y="279.59" width="7.1" height="7.12" fill="#f4a367"/>
<rect x="309.55" y="279.59" width="7.1" height="7.12" fill="#f28e43"/>
<rect x="247.15" y="287.41" width="7.1" height="7.12" fill="#cdd1e7"/>
<rect x="254.95" y="287.41" width="7.1" height="7.12" fill="#a4add6"/>
<rect x="262.75" y="287.41" width="7.1" height="7.12" fill="#dfe0ee"/>
<rect x="270.55" y="287.41" width="7.1" height="7.12" fill="#4c60b2"/>
<rect x="278.35" y="287.41" width="7.1" height="7.12" fill="#697abe"/>
<rect x="286.15" y="287.41" width="7.1" height="7.12" fill="#c1c7e2"/>
<rect x="293.95" y="287.41" width="7.1" height="7.12" fill="#f0781e"/>
<rect x="301.75" y="287.41" width="7.1" height="7.12" fill="#f4a367"/>
<rect x="309.55" y="287.41" width="7.1" height="7.12" fill="#fcfafa"/>
<rect x="247.15" y="295.23" width="7.1" height="7.12" fill="#fcfafa"/>
<rect x="254.95" y="295.23" width="7.1" height="7.12" fill="#f4a367"/>
<rect x="262.75" y="295.23" width="7.1" height="7.12" fill="#f6b98c"/>
<rect x="270.55" y="295.23" width="7.1" height="7.12" fill="#eaebf3"/>
<rect x="278.35" y="295.23" width="7.1" height="7.12" fill="#f0781e"/>
<rect x="286.15" y="295.23" width="7.1" height="7.12" fill="#fcfafa"/>
<rect x="293.95" y="295.23" width="7.1" height="7.12" fill="#4c60b2"/>
<rect x="301.75" y="295.23" width="7.1" height="7.12" fill="#8793ca"/>
<rect x="309.55" y="295.23" width="7.1" height="7.12" fill="#4c60b2"/>
<rect x="247.15" y="303.05" width="7.1" height="7.12" fill="#f9d7bf"/>
<rect x="254.95" y="303.05" width="7.1" height="7.12" fill="#f4a367"/>
<rect x="262.75" y="303.05" width="7.1" height="7.12" fill="#fcfafa"/>
<rect x="270.55" y="303.05" width="7.1" height="7.12" fill="#f0781e"/>
<rect x="278.35" y="303.05" width="7.1" height="7.12" fill="#f6b98c"/>
<rect x="286.15" y="303.05" width="7.1" height="7.12" fill="#f0781e"/>
<rect x="293.95" y="303.05" width="7.1" height="7.12" fill="#4c60b2"/>
<rect x="301.75" y="303.05" width="7.1" height="7.12" fill="#4c60b2"/>
<rect x="309.55" y="303.05" width="7.1" height="7.12" fill="#4c60b2"/>
<rect x="247.15" y="310.87" width="7.1" height="7.12" fill="#fcfafa"/>
<rect x="254.95" y="310.87" width="7.1" height="7.12" fill="#fae4d5"/>
<rect x="262.75" y="310.87" width="7.1" height="7.12" fill="#f6b98c"/>
<rect x="270.55" y="310.87" width="7.1" height="7.12" fill="#f0781e"/>
<rect x="278.35" y="310.87" width="7.1" height="7.12" fill="#f7c6a2"/>
<rect x="286.15" y="310.87" width="7.1" height="7.12" fill="#f0781e"/>
<rect x="293.95" y="310.87" width="7.1" height="7.12" fill="#4c60b2"/>
<rect x="301.75" y="310.87" width="7.1" height="7.12" fill="#4c60b2"/>
<rect x="309.55" y="310.87" width="7.1" height="7.12" fill="#4c60b2"/>
<rect x="247.15" y="318.69" width="7.1" height="7.12" fill="#f6b98c"/>
<rect x="254.95" y="318.69" width="7.1" height="7.12" fill="#f7c6a2"/>
<rect x="262.75" y="318.69" width="7.1" height="7.12" fill="#f5ac76"/>
<rect x="270.55" y="318.69" width="7.1" height="7.12" fill="#f0781e"/>
<rect x="278.35" y="318.69" width="7.1" height="7.12" fill="#f4a367"/>
<rect x="286.15" y="318.69" width="7.1" height="7.12" fill="#f0781e"/>
<rect x="293.95" y="318.69" width="7.1" height="7.12" fill="#4c60b2"/>
<rect x="301.75" y="318.69" width="7.1" height="7.12" fill="#4c60b2"/>
<rect x="309.55" y="318.69" width="7.1" height="7.12" fill="#4c60b2"/>
<rect x="247.15" y="326.51" width="7.1" height="7.12" fill="#b6bcdd"/>
<rect x="254.95" y="326.51" width="7.1" height="7.12" fill="#4c60b2"/>
<rect x="262.75" y="326.51" width="7.1" height="7.12" fill="#697abe"/>
<rect x="270.55" y="326.51" width="7.1" height="7.12" fill="#f0781e"/>
<rect x="278.35" y="326.51" width="7.1" height="7.12" fill="#929ecf"/>
<rect x="286.15" y="326.51" width="7.1" height="7.12" fill="#fcfafa"/>
<rect x="293.95" y="326.51" width="7.1" height="7.12" fill="#4c60b2"/>
<rect x="301.75" y="326.51" width="7.1" height="7.12" fill="#4c60b2"/>
<rect x="309.55" y="326.51" width="7.1" height="7.12" fill="#4c60b2"/>
<rect x="247.15" y="334.33" width="7.1" height="7.12" fill="#f7c6a2"/>
<rect x="254.95" y="334.33" width="7.1" height="7.12" fill="#f4a367"/>
<rect x="262.75" y="334.33" width="7.1" height="7.12" fill="#f7c6a2"/>
<rect x="270.55" y="334.33" width="7.1" height="7.12" fill="#f0781e"/>
<rect x="278.35" y="334.33" width="7.1" height="7.12" fill="#f0781e"/>
<rect x="286.15" y="334.33" width="7.1" height="7.12" fill="#f6b98c"/>
<rect x="293.95" y="334.33" width="7.1" height="7.12" fill="#4c60b2"/>
<rect x="301.75" y="334.33" width="7.1" height="7.12" fill="#4c60b2"/>
<rect x="309.55" y="334.33" width="7.1" height="7.12" fill="#4c60b2"/>
<rect x="247.15" y="342.15" width="7.1" height="7.12" fill="#f6b98c"/>
<rect x="254.95" y="342.15" width="7.1" height="7.12" fill="#f8cfb1"/>
<rect x="262.75" y="342.15" width="7.1" height="7.12" fill="#f9d7bf"/>
<rect x="270.55" y="342.15" width="7.1" height="7.12" fill="#f4a367"/>
<rect x="278.35" y="342.15" width="7.1" height="7.12" fill="#f0781e"/>
<rect x="286.15" y="342.15" width="7.1" height="7.12" fill="#f9d7bf"/>
<rect x="293.95" y="342.15" width="7.1" height="7.12" fill="#4c60b2"/>
<rect x="301.75" y="342.15" width="7.1" height="7.12" fill="#697abe"/>
<rect x="309.55" y="342.15" width="7.1" height="7.12" fill="#4c60b2"/>
<rect x="247.15" y="349.97" width="7.1" height="7.12" fill="#f7c29b"/>
<rect x="254.95" y="349.97" width="7.1" height="7.12" fill="#f0781e"/>
<rect x="262.75" y="349.97" width="7.1" height="7.12" fill="#f6b98c"/>
<rect x="270.55" y="349.97" width="7.1" height="7.12" fill="#f28e43"/>
<rect x="278.35" y="349.97" width="7.1" height="7.12" fill="#f39b59"/>
<rect x="286.15" y="349.97" width="7.1" height="7.12" fill="#f6b98c"/>
<rect x="293.95" y="349.97" width="7.1" height="7.12" fill="#4c60b2"/>
<rect x="301.75" y="349.97" width="7.1" height="7.12" fill="#a4add6"/>
<rect x="309.55" y="349.97" width="7.1" height="7.12" fill="#b6bcdd"/>
<rect x="247.15" y="357.79" width="7.1" height="7.12" fill="#f9dcc7"/>
<rect x="254.95" y="357.79" width="7.1" height="7.12" fill="#f9d7bf"/>
<rect x="262.75" y="357.79" width="7.1" height="7.12" fill="#fcfafa"/>
<rect x="270.55" y="357.79" width="7.1" height="7.12" fill="#f0781e"/>
<rect x="278.35" y="357.79" width="7.1" height="7.12" fill="#f6b98c"/>
<rect x="286.15" y="357.79" width="7.1" height="7.12" fill="#f0781e"/>
<rect x="293.95" y="357.79" width="7.1" height="7.12" fill="#4c60b2"/>
<rect x="301.75" y="357.79" width="7.1" height="7.12" fill="#697abe"/>
<rect x="309.55" y="357.79" width="7.1" height="7.12" fill="#818ec8"/>
<rect x="247.15" y="365.61" width="7.1" height="7.12" fill="#f4a367"/>
<rect x="254.95" y="365.61" width="7.1" height="7.12" fill="#fbf1eb"/>
<rect x="262.75" y="365.61" width="7.1" height="7.12" fill="#f8d3b8"/>
<rect x="270.55" y="365.61" width="7.1" height="7.12" fill="#fae4d5"/>
<rect x="278.35" y="365.61" width="7.1" height="7.12" fill="#f0781e"/>
<rect x="286.15" y="365.61" width="7.1" height="7.12" fill="#f8cfb1"/>
<rect x="293.95" y="365.61" width="7.1" height="7.12" fill="#4c60b2"/>
<rect x="301.75" y="365.61" width="7.1" height="7.12" fill="#5e6fb9"/>
<rect x="309.55" y="365.61" width="7.1" height="7.12" fill="#4c60b2"/>
<rect x="247.15" y="373.43" width="7.1" height="7.12" fill="#f8cfb1"/>
<rect x="254.95" y="373.43" width="7.1" height="7.12" fill="#f8cfb1"/>
<rect x="262.75" y="373.43" width="7.1" height="7.12" fill="#fcfafa"/>
<rect x="270.55" y="373.43" width="7.1" height="7.12" fill="#f0781e"/>
<rect x="278.35" y="373.43" width="7.1" height="7.12" fill="#f4a367"/>
<rect x="286.15" y="373.43" width="7.1" height="7.12" fill="#f7c29b"/>
<rect x="293.95" y="373.43" width="7.1" height="7.12" fill="#c1c7e2"/>
<rect x="301.75" y="373.43" width="7.1" height="7.12" fill="#4c60b2"/>
<rect x="309.55" y="373.43" width="7.1" height="7.12" fill="#4c60b2"/>
<rect x="247.15" y="381.25" width="7.1" height="7.12" fill="#f4a367"/>
<rect x="254.95" y="381.25" width="7.1" height="7.12" fill="#f9d7bf"/>
<rect x="262.75" y="381.25" width="7.1" height="7.12" fill="#f7c6a2"/>
<rect x="270.55" y="381.25" width="7.1" height="7.12" fill="#f0781e"/>
<rect x="278.35" y="381.25" width="7.1" height="7.12" fill="#fbf1eb"/>
<rect x="286.15" y="381.25" width="7.1" height="7.12" fill="#f7c6a2"/>
<rect x="293.95" y="381.25" width="7.1" height="7.12" fill="#4c60b2"/>
<rect x="301.75" y="381.25" width="7.1" height="7.12" fill="#697abe"/>
<rect x="309.55" y="381.25" width="7.1" height="7.12" fill="#4c60b2"/>
<rect x="247.15" y="389.07" width="7.1" height="7.12" fill="#f6b98c"/>
<rect x="254.95" y="389.07" width="7.1" height="7.12" fill="#f8cfb1"/>
<rect x="262.75" y="389.07" width="7.1" height="7.12" fill="#f8cfb1"/>
<rect x="270.55" y="389.07" width="7.1" height="7.12" fill="#f0781e"/>
<rect x="278.35" y="389.07" width="7.1" height="7.12" fill="#f4a367"/>
<rect x="286.15" y="389.07" width="7.1" height="7.12" fill="#f8cfb1"/>
<rect x="293.95" y="389.07" width="7.1" height="7.12" fill="#4c60b2"/>
<rect x="301.75" y="389.07" width="7.1" height="7.12" fill="#4c60b2"/>
<rect x="309.55" y="389.07" width="7.1" height="7.12" fill="#4c60b2"/>
<rect x="247.15" y="396.89" width="7.1" height="7.12" fill="#f9d7bf"/>
<rect x="254.95" y="396.89" width="7.1" height="7.12" fill="#f6b98c"/>
<rect x="262.75" y="396.89" width="7.1" height="7.12" fill="#f0781e"/>
<rect x="270.55" y="396.89" width="7.1" height="7.12" fill="#f4a367"/>
<rect x="278.35" y="396.89" width="7.1" height="7.12" fill="#f8cfb1"/>
<rect x="286.15" y="396.89" width="7.1" height="7.12" fill="#f0781e"/>
<rect x="293.95" y="396.89" width="7.1" height="7.12" fill="#4c60b2"/>
<rect x="301.75" y="396.89" width="7.1" height="7.12" fill="#697abe"/>
<rect x="309.55" y="396.89" width="7.1" height="7.12" fill="#697abe"/>
<rect x="247.15" y="404.71" width="7.1" height="7.12" fill="#697abe"/>
<rect x="254.95" y="404.71" width="7.1" height="7.12" fill="#f8cfb1"/>
<rect x="262.75" y="404.71" width="7.1" height="7.12" fill="#f9d7bf"/>
<rect x="270.55" y="404.71" width="7.1" height="7.12" fill="#fae4d5"/>
<rect x="278.35" y="404.71" width="7.1" height="7.12" fill="#a4add6"/>
<rect x="286.15" y="404.71" width="7.1" height="7.12" fill="#f0781e"/>
<rect x="293.95" y="404.71" width="7.1" height="7.12" fill="#a4add6"/>
<rect x="301.75" y="404.71" width="7.1" height="7.12" fill="#7b89c5"/>
<rect x="309.55" y="404.71" width="7.1" height="7.12" fill="#697abe"/>
<rect x="247.15" y="412.53" width="7.1" height="7.12" fill="#fae9dd"/>
<rect x="254.95" y="412.53" width="7.1" height="7.12" fill="#f9dcc7"/>
<rect x="262.75" y="412.53" width="7.1" height="7.12" fill="#c1c7e2"/>
<rect x="270.55" y="412.53" width="7.1" height="7.12" fill="#fcfafa"/>
<rect x="278.35" y="412.53" width="7.1" height="7.12" fill="#cdd1e7"/>
<rect x="286.15" y="412.53" width="7.1" height="7.12" fill="#f0781e"/>
<rect x="293.95" y="412.53" width="7.1" height="7.12" fill="#4c60b2"/>
<rect x="301.75" y="412.53" width="7.1" height="7.12" fill="#5e6fb9"/>
<rect x="309.55" y="412.53" width="7.1" height="7.12" fill="#5e6fb9"/>
<rect x="247.15" y="420.35" width="7.1" height="7.12" fill="#c1c7e2"/>
<rect x="254.95" y="420.35" width="7.1" height="7.12" fill="#8793ca"/>
<rect x="262.75" y="420.35" width="7.1" height="7.12" fill="#a4add6"/>
<rect x="270.55" y="420.35" width="7.1" height="7.12" fill="#4c60b2"/>
<rect x="278.35" y="420.35" width="7.1" height="7.12" fill="#8793ca"/>
<rect x="286.15" y="420.35" width="7.1" height="7.12" fill="#8793ca"/>
<rect x="293.95" y="420.35" width="7.1" height="7.12" fill="#f0781e"/>
<rect x="301.75" y="420.35" width="7.1" height="7.12" fill="#f4a367"/>
<rect x="309.55" y="420.35" width="7.1" height="7.12" fill="#f0781e"/>
<rect x="247.15" y="428.17" width="7.1" height="7.12" fill="#b6bcdd"/>
<rect x="254.95" y="428.17" width="7.1" height="7.12" fill="#a4add6"/>
<rect x="262.75" y="428.17" width="7.1" height="7.12" fill="#b6bcdd"/>
<rect x="270.55" y="428.17" width="7.1" height="7.12" fill="#4c60b2"/>
<rect x="278.35" y="428.17" width="7.1" height="7.12" fill="#4c60b2"/>
<rect x="286.15" y="428.17" width="7.1" height="7.12" fill="#4c60b2"/>
<rect x="293.95" y="428.17" width="7.1" height="7.12" fill="#f4a367"/>
<rect x="301.75" y="428.17" width="7.1" height="7.12" fill="#f4a367"/>
<rect x="309.55" y="428.17" width="7.1" height="7.12" fill="#f0781e"/>
<rect x="247.15" y="435.99" width="7.1" height="7.12" fill="#4c60b2"/>
<rect x="254.95" y="435.99" width="7.1" height="7.12" fill="#f4a367"/>
<rect x="262.75" y="435.99" width="7.1" height="7.12" fill="#8793ca"/>
<rect x="270.55" y="435.99" width="7.1" height="7.12" fill="#4c60b2"/>
<rect x="278.35" y="435.99" width="7.1" height="7.12" fill="#f0781e"/>
<rect x="286.15" y="435.99" width="7.1" height="7.12" fill="#697abe"/>
<rect x="293.95" y="435.99" width="7.1" height="7.12" fill="#c1c7e2"/>
<rect x="301.75" y="435.99" width="7.1" height="7.12" fill="#fae4d5"/>
<rect x="309.55" y="435.99" width="7.1" height="7.12" fill="#f0781e"/>
<rect x="247.15" y="443.81" width="7.1" height="7.12" fill="#fcfafa"/>
<rect x="254.95" y="443.81" width="7.1" height="7.12" fill="#8793ca"/>
<rect x="262.75" y="443.81" width="7.1" height="7.12" fill="#f7c6a2"/>
<rect x="270.55" y="443.81" width="7.1" height="7.12" fill="#4c60b2"/>
<rect x="278.35" y="443.81" width="7.1" height="7.12" fill="#4c60b2"/>
<rect x="286.15" y="443.81" width="7.1" height="7.12" fill="#4c60b2"/>
<rect x="293.95" y="443.81" width="7.1" height="7.12" fill="#fcfafa"/>
<rect x="301.75" y="443.81" width="7.1" height="7.12" fill="#f0781e"/>
<rect x="309.55" y="443.81" width="7.1" height="7.12" fill="#f28e43"/>
<rect x="247.15" y="451.63" width="7.1" height="7.12" fill="#f0781e"/>
<rect x="254.95" y="451.63" width="7.1" height="7.12" fill="#8793ca"/>
<rect x="262.75" y="451.63" width="7.1" height="7.12" fill="#4c60b2"/>
<rect x="270.55" y="451.63" width="7.1" height="7.12" fill="#4c60b2"/>
<rect x="278.35" y="451.63" width="7.1" height="7.12" fill="#4c60b2"/>
<rect x="286.15" y="451.63" width="7.1" height="7.12" fill="#4c60b2"/>
<rect x="293.95" y="451.63" width="7.1" height="7.12" fill="#f0781e"/>
<rect x="301.75" y="451.63" width="7.1" height="7.12" fill="#f4a367"/>
<rect x="309.55" y="451.63" width="7.1" height="7.12" fill="#fcfafa"/>
<rect x="247.15" y="459.45" width="7.1" height="7.12" fill="#fae4d5"/>
<rect x="254.95" y="459.45" width="7.1" height="7.12" fill="#c1c7e2"/>
<rect x="262.75" y="459.45" width="7.1" height="7.12" fill="#c1c7e2"/>
<rect x="270.55" y="459.45" width="7.1" height="7.12" fill="#4c60b2"/>
<rect x="278.35" y="459.45" width="7.1" height="7.12" fill="#4c60b2"/>
<rect x="286.15" y="459.45" width="7.1" height="7.12" fill="#c1c7e2"/>
<rect x="293.95" y="459.45" width="7.1" height="7.12" fill="#f9d7bf"/>
<rect x="301.75" y="459.45" width="7.1" height="7.12" fill="#f9d7bf"/>
<rect x="309.55" y="459.45" width="7.1" height="7.12" fill="#f0781e"/>
</g>
<rect x="246.3" y="186.1" width="70.5" height="279.2" fill="none" stroke="#1a1a1a" stroke-width="1.2"/>
<text x="319.9" y="191.8" font-size="6.2" font-style="italic" class="l">Sdc2</text>
<text x="319.9" y="199.59" font-size="6.2" font-style="italic" class="l">Slamf1</text>
<text x="319.9" y="207.38" font-size="6.2" font-style="italic" class="l">Jam3</text>
<text x="319.9" y="215.17" font-size="6.2" font-style="italic" class="l">Tek</text>
<text x="319.9" y="222.96" font-size="6.2" font-style="italic" class="l">Grb10</text>
<text x="319.9" y="230.75" font-size="6.2" font-style="italic" class="l">Esam</text>
<text x="319.9" y="238.54" font-size="6.2" font-style="italic" class="l">Cd9</text>
<text x="319.9" y="246.33" font-size="6.2" font-style="italic" class="l">Fstl1</text>
<text x="319.9" y="254.12" font-size="6.2" font-style="italic" class="l">Gata1</text>
<text x="319.9" y="261.91" font-size="6.2" font-style="italic" class="l">Gata2</text>
<text x="319.9" y="269.7" font-size="6.2" font-style="italic" class="l">Gata3</text>
<text x="319.9" y="277.49" font-size="6.2" font-style="italic" class="l">Hoxb3</text>
<text x="319.9" y="285.28" font-size="6.2" font-style="italic" class="l">Hoxb4</text>
<text x="319.9" y="293.07" font-size="6.2" font-style="italic" class="l">Hoxa10</text>
<text x="319.9" y="300.86" font-size="6.2" font-style="italic" class="l">Hoxa9</text>
<text x="319.9" y="308.65" font-size="6.2" font-style="italic" class="l">Sdc1</text>
<text x="319.9" y="316.44" font-size="6.2" font-style="italic" class="l">Sdc4</text>
<text x="319.9" y="324.23" font-size="6.2" font-style="italic" class="l">Flt3</text>
<text x="319.9" y="332.02" font-size="6.2" font-style="italic" class="l">Cd33</text>
<text x="319.9" y="339.81" font-size="6.2" font-style="italic" class="l">Cd34</text>
<text x="319.9" y="347.6" font-size="6.2" font-style="italic" class="l">Cd48</text>
<text x="319.9" y="355.39" font-size="6.2" font-style="italic" class="l">Il6r</text>
<text x="319.9" y="363.18" font-size="6.2" font-style="italic" class="l">Il6st</text>
<text x="319.9" y="370.97" font-size="6.2" font-style="italic" class="l">Nrp1</text>
<text x="319.9" y="378.76" font-size="6.2" font-style="italic" class="l">Rag1</text>
<text x="319.9" y="386.55" font-size="6.2" font-style="italic" class="l">Rag2</text>
<text x="319.9" y="394.34" font-size="6.2" font-style="italic" class="l">Sema3d</text>
<text x="319.9" y="402.13" font-size="6.2" font-style="italic" class="l">Tnf</text>
<text x="319.9" y="409.92" font-size="6.2" font-style="italic" class="l">Ly9</text>
<text x="319.9" y="417.71" font-size="6.2" font-style="italic" class="l">Cd244</text>
<text x="319.9" y="425.5" font-size="6.2" font-style="italic" class="l">Ctnnal1</text>
<text x="319.9" y="433.29" font-size="6.2" font-style="italic" class="l">Fgd5</text>
<text x="319.9" y="441.08" font-size="6.2" font-style="italic" class="l">Jam3</text>
<text x="319.9" y="448.87" font-size="6.2" font-style="italic" class="l">Hoxb5</text>
<text x="319.9" y="456.66" font-size="6.2" font-style="italic" class="l">Tek</text>
<text x="319.9" y="464.45" font-size="6.2" font-style="italic" class="l">Procr</text>
<text x="257.8" y="174.6" font-size="6.4" text-anchor="middle" textLength="20.4" lengthAdjust="spacingAndGlyphs">34<tspan font-size="4.5" dy="-2.8">–</tspan><tspan dy="2.8">KSL</tspan></text>
<text x="283" y="166.6" font-size="6.4" text-anchor="middle" textLength="16.6" lengthAdjust="spacingAndGlyphs">Sdc2<tspan font-size="4.5" dy="-2.8">–</tspan></text>
<text x="283" y="174.6" font-size="6.4" text-anchor="middle" textLength="15.1" lengthAdjust="spacingAndGlyphs">HSCs</text>
<text x="306.1" y="166.6" font-size="6.4" text-anchor="middle" textLength="16.6" lengthAdjust="spacingAndGlyphs">Sdc2<tspan font-size="4.5" dy="-2.8">+</tspan></text>
<text x="306.1" y="174.6" font-size="6.4" text-anchor="middle" textLength="15.1" lengthAdjust="spacingAndGlyphs">HSCs</text>
<line x1="246.8" y1="177.4" x2="268.7" y2="177.4" stroke="#888" stroke-width="1.1"/>
<line x1="272.2" y1="177.4" x2="293" y2="177.4" stroke="#888" stroke-width="1.1"/>
<line x1="295.9" y1="177.4" x2="316.3" y2="177.4" stroke="#888" stroke-width="1.1"/>
<text x="250.7" y="184.6" font-size="6.3" text-anchor="middle">1</text>
<text x="258.5" y="184.6" font-size="6.3" text-anchor="middle">2</text>
<text x="266.3" y="184.6" font-size="6.3" text-anchor="middle">3</text>
<text x="274.1" y="184.6" font-size="6.3" text-anchor="middle">1</text>
<text x="281.9" y="184.6" font-size="6.3" text-anchor="middle">2</text>
<text x="289.7" y="184.6" font-size="6.3" text-anchor="middle">3</text>
<text x="297.5" y="184.6" font-size="6.3" text-anchor="middle">1</text>
<text x="305.3" y="184.6" font-size="6.3" text-anchor="middle">2</text>
<text x="313.1" y="184.6" font-size="6.3" text-anchor="middle">3</text>
<text x="283" y="472.7" font-size="6.4" text-anchor="middle" textLength="30.7" lengthAdjust="spacingAndGlyphs">Expression</text>
<text x="283.1" y="479.6" font-size="6.4" text-anchor="middle" textLength="63" lengthAdjust="spacingAndGlyphs">(relative to max reads)</text>
<text x="230.1" y="487.7" font-size="6.4" textLength="28.4" lengthAdjust="spacingAndGlyphs">Min reads</text>
<text x="310.9" y="487.7" font-size="6.4" textLength="28.9" lengthAdjust="spacingAndGlyphs">Max reads</text>
<defs><linearGradient id="gN" x1="0" x2="1" y1="0" y2="0"><stop offset="0" stop-color="#26358f"/><stop offset="0.5" stop-color="#ffffff"/><stop offset="1" stop-color="#f07a1c"/></linearGradient></defs>
<rect x="261.5" y="484.9" width="46.2" height="2.8" fill="url(#gN)"/>
<text x="261.5" y="494.6" font-size="6.4" text-anchor="middle">0</text>
<text x="307.2" y="494.6" font-size="6.4" text-anchor="middle">1</text>
<ellipse cx="389.65" cy="182.1" rx="3.55" ry="3.2" fill="none" stroke="#111" stroke-width="1.95"/>
<rect x="390.1" y="158.8" width="122.7" height="13" fill="#efbdb2" stroke="#1a1a1a" stroke-width="1.2"/>
<text x="451.4" y="167.9" font-size="8.2" text-anchor="middle" textLength="115.7" lengthAdjust="spacingAndGlyphs">Cellular growth and proliferation</text>
<clipPath id="hc3"><rect x="410.8" y="200" width="74.1" height="235.9"/></clipPath>
<g clip-path="url(#hc3)">
<rect x="410.8" y="200" width="74.1" height="235.9" fill="#fff"/>
<rect x="410.8" y="200.2" width="7.7" height="7.56" fill="#fbede4"/>
<rect x="419.1" y="200.2" width="7.7" height="7.56" fill="#eaebf3"/>
<rect x="427.4" y="200.2" width="7.7" height="7.56" fill="#fcfafa"/>
<rect x="435.7" y="200.2" width="7.7" height="7.56" fill="#4c60b2"/>
<rect x="444" y="200.2" width="7.7" height="7.56" fill="#8793ca"/>
<rect x="452.3" y="200.2" width="7.7" height="7.56" fill="#929ecf"/>
<rect x="460.6" y="200.2" width="7.7" height="7.56" fill="#f4a367"/>
<rect x="468.9" y="200.2" width="7.7" height="7.56" fill="#f0781e"/>
<rect x="477.2" y="200.2" width="7.7" height="7.56" fill="#f4a367"/>
<rect x="410.8" y="208.36" width="7.7" height="7.56" fill="#cdd1e7"/>
<rect x="419.1" y="208.36" width="7.7" height="7.56" fill="#a4add6"/>
<rect x="427.4" y="208.36" width="7.7" height="7.56" fill="#dfe0ee"/>
<rect x="435.7" y="208.36" width="7.7" height="7.56" fill="#4c60b2"/>
<rect x="444" y="208.36" width="7.7" height="7.56" fill="#5e6fb9"/>
<rect x="452.3" y="208.36" width="7.7" height="7.56" fill="#cdd1e7"/>
<rect x="460.6" y="208.36" width="7.7" height="7.56" fill="#f0781e"/>
<rect x="468.9" y="208.36" width="7.7" height="7.56" fill="#f4a367"/>
<rect x="477.2" y="208.36" width="7.7" height="7.56" fill="#fcfafa"/>
<rect x="410.8" y="216.52" width="7.7" height="7.56" fill="#c1c7e2"/>
<rect x="419.1" y="216.52" width="7.7" height="7.56" fill="#b6bcdd"/>
<rect x="427.4" y="216.52" width="7.7" height="7.56" fill="#b6bcdd"/>
<rect x="435.7" y="216.52" width="7.7" height="7.56" fill="#697abe"/>
<rect x="444" y="216.52" width="7.7" height="7.56" fill="#4c60b2"/>
<rect x="452.3" y="216.52" width="7.7" height="7.56" fill="#b6bcdd"/>
<rect x="460.6" y="216.52" width="7.7" height="7.56" fill="#fae4d5"/>
<rect x="468.9" y="216.52" width="7.7" height="7.56" fill="#cdd1e7"/>
<rect x="477.2" y="216.52" width="7.7" height="7.56" fill="#f0781e"/>
<rect x="410.8" y="224.68" width="7.7" height="7.56" fill="#8793ca"/>
<rect x="419.1" y="224.68" width="7.7" height="7.56" fill="#cdd1e7"/>
<rect x="427.4" y="224.68" width="7.7" height="7.56" fill="#a4add6"/>
<rect x="435.7" y="224.68" width="7.7" height="7.56" fill="#697abe"/>
<rect x="444" y="224.68" width="7.7" height="7.56" fill="#4c60b2"/>
<rect x="452.3" y="224.68" width="7.7" height="7.56" fill="#cdd1e7"/>
<rect x="460.6" y="224.68" width="7.7" height="7.56" fill="#f7c6a2"/>
<rect x="468.9" y="224.68" width="7.7" height="7.56" fill="#fae4d5"/>
<rect x="477.2" y="224.68" width="7.7" height="7.56" fill="#f0781e"/>
<rect x="410.8" y="232.84" width="7.7" height="7.56" fill="#fbede4"/>
<rect x="419.1" y="232.84" width="7.7" height="7.56" fill="#eaebf3"/>
<rect x="427.4" y="232.84" width="7.7" height="7.56" fill="#dfe0ee"/>
<rect x="435.7" y="232.84" width="7.7" height="7.56" fill="#c1c7e2"/>
<rect x="444" y="232.84" width="7.7" height="7.56" fill="#4c60b2"/>
<rect x="452.3" y="232.84" width="7.7" height="7.56" fill="#697abe"/>
<rect x="460.6" y="232.84" width="7.7" height="7.56" fill="#f0781e"/>
<rect x="468.9" y="232.84" width="7.7" height="7.56" fill="#f28e43"/>
<rect x="477.2" y="232.84" width="7.7" height="7.56" fill="#f4a367"/>
<rect x="410.8" y="241" width="7.7" height="7.56" fill="#cdd1e7"/>
<rect x="419.1" y="241" width="7.7" height="7.56" fill="#b6bcdd"/>
<rect x="427.4" y="241" width="7.7" height="7.56" fill="#c1c7e2"/>
<rect x="435.7" y="241" width="7.7" height="7.56" fill="#8793ca"/>
<rect x="444" y="241" width="7.7" height="7.56" fill="#4c60b2"/>
<rect x="452.3" y="241" width="7.7" height="7.56" fill="#697abe"/>
<rect x="460.6" y="241" width="7.7" height="7.56" fill="#f0781e"/>
<rect x="468.9" y="241" width="7.7" height="7.56" fill="#f4a367"/>
<rect x="477.2" y="241" width="7.7" height="7.56" fill="#f28e43"/>
<rect x="410.8" y="249.16" width="7.7" height="7.56" fill="#b0b7db"/>
<rect x="419.1" y="249.16" width="7.7" height="7.56" fill="#a4add6"/>
<rect x="427.4" y="249.16" width="7.7" height="7.56" fill="#c1c7e2"/>
<rect x="435.7" y="249.16" width="7.7" height="7.56" fill="#7b89c5"/>
<rect x="444" y="249.16" width="7.7" height="7.56" fill="#697abe"/>
<rect x="452.3" y="249.16" width="7.7" height="7.56" fill="#4c60b2"/>
<rect x="460.6" y="249.16" width="7.7" height="7.56" fill="#f0781e"/>
<rect x="468.9" y="249.16" width="7.7" height="7.56" fill="#f4a367"/>
<rect x="477.2" y="249.16" width="7.7" height="7.56" fill="#f4a367"/>
<rect x="410.8" y="257.32" width="7.7" height="7.56" fill="#fcfafa"/>
<rect x="419.1" y="257.32" width="7.7" height="7.56" fill="#a4add6"/>
<rect x="427.4" y="257.32" width="7.7" height="7.56" fill="#a4add6"/>
<rect x="435.7" y="257.32" width="7.7" height="7.56" fill="#8793ca"/>
<rect x="444" y="257.32" width="7.7" height="7.56" fill="#697abe"/>
<rect x="452.3" y="257.32" width="7.7" height="7.56" fill="#697abe"/>
<rect x="460.6" y="257.32" width="7.7" height="7.56" fill="#f0781e"/>
<rect x="468.9" y="257.32" width="7.7" height="7.56" fill="#f7c29b"/>
<rect x="477.2" y="257.32" width="7.7" height="7.56" fill="#f4a367"/>
<rect x="410.8" y="265.48" width="7.7" height="7.56" fill="#a4add6"/>
<rect x="419.1" y="265.48" width="7.7" height="7.56" fill="#697abe"/>
<rect x="427.4" y="265.48" width="7.7" height="7.56" fill="#8793ca"/>
<rect x="435.7" y="265.48" width="7.7" height="7.56" fill="#4c60b2"/>
<rect x="444" y="265.48" width="7.7" height="7.56" fill="#4c60b2"/>
<rect x="452.3" y="265.48" width="7.7" height="7.56" fill="#697abe"/>
<rect x="460.6" y="265.48" width="7.7" height="7.56" fill="#eaebf3"/>
<rect x="468.9" y="265.48" width="7.7" height="7.56" fill="#fcfafa"/>
<rect x="477.2" y="265.48" width="7.7" height="7.56" fill="#f0781e"/>
<rect x="410.8" y="273.64" width="7.7" height="7.56" fill="#eaebf3"/>
<rect x="419.1" y="273.64" width="7.7" height="7.56" fill="#b6bcdd"/>
<rect x="427.4" y="273.64" width="7.7" height="7.56" fill="#c1c7e2"/>
<rect x="435.7" y="273.64" width="7.7" height="7.56" fill="#a4add6"/>
<rect x="444" y="273.64" width="7.7" height="7.56" fill="#4c60b2"/>
<rect x="452.3" y="273.64" width="7.7" height="7.56" fill="#929ecf"/>
<rect x="460.6" y="273.64" width="7.7" height="7.56" fill="#f7c6a2"/>
<rect x="468.9" y="273.64" width="7.7" height="7.56" fill="#f6b98c"/>
<rect x="477.2" y="273.64" width="7.7" height="7.56" fill="#f0781e"/>
<rect x="410.8" y="281.8" width="7.7" height="7.56" fill="#cdd1e7"/>
<rect x="419.1" y="281.8" width="7.7" height="7.56" fill="#c1c7e2"/>
<rect x="427.4" y="281.8" width="7.7" height="7.56" fill="#eaebf3"/>
<rect x="435.7" y="281.8" width="7.7" height="7.56" fill="#4c60b2"/>
<rect x="444" y="281.8" width="7.7" height="7.56" fill="#4c60b2"/>
<rect x="452.3" y="281.8" width="7.7" height="7.56" fill="#697abe"/>
<rect x="460.6" y="281.8" width="7.7" height="7.56" fill="#f6b98c"/>
<rect x="468.9" y="281.8" width="7.7" height="7.56" fill="#f8cfb1"/>
<rect x="477.2" y="281.8" width="7.7" height="7.56" fill="#f0781e"/>
<rect x="410.8" y="289.96" width="7.7" height="7.56" fill="#8793ca"/>
<rect x="419.1" y="289.96" width="7.7" height="7.56" fill="#697abe"/>
<rect x="427.4" y="289.96" width="7.7" height="7.56" fill="#c1c7e2"/>
<rect x="435.7" y="289.96" width="7.7" height="7.56" fill="#4c60b2"/>
<rect x="444" y="289.96" width="7.7" height="7.56" fill="#4c60b2"/>
<rect x="452.3" y="289.96" width="7.7" height="7.56" fill="#697abe"/>
<rect x="460.6" y="289.96" width="7.7" height="7.56" fill="#f6b98c"/>
<rect x="468.9" y="289.96" width="7.7" height="7.56" fill="#f7c6a2"/>
<rect x="477.2" y="289.96" width="7.7" height="7.56" fill="#f0781e"/>
<rect x="410.8" y="298.12" width="7.7" height="7.56" fill="#b0b7db"/>
<rect x="419.1" y="298.12" width="7.7" height="7.56" fill="#c1c7e2"/>
<rect x="427.4" y="298.12" width="7.7" height="7.56" fill="#cdd1e7"/>
<rect x="435.7" y="298.12" width="7.7" height="7.56" fill="#4c60b2"/>
<rect x="444" y="298.12" width="7.7" height="7.56" fill="#4c60b2"/>
<rect x="452.3" y="298.12" width="7.7" height="7.56" fill="#697abe"/>
<rect x="460.6" y="298.12" width="7.7" height="7.56" fill="#f9d7bf"/>
<rect x="468.9" y="298.12" width="7.7" height="7.56" fill="#f4a367"/>
<rect x="477.2" y="298.12" width="7.7" height="7.56" fill="#f0781e"/>
<rect x="410.8" y="306.28" width="7.7" height="7.56" fill="#b6bcdd"/>
<rect x="419.1" y="306.28" width="7.7" height="7.56" fill="#c1c7e2"/>
<rect x="427.4" y="306.28" width="7.7" height="7.56" fill="#cdd1e7"/>
<rect x="435.7" y="306.28" width="7.7" height="7.56" fill="#4c60b2"/>
<rect x="444" y="306.28" width="7.7" height="7.56" fill="#4c60b2"/>
<rect x="452.3" y="306.28" width="7.7" height="7.56" fill="#4c60b2"/>
<rect x="460.6" y="306.28" width="7.7" height="7.56" fill="#f4a367"/>
<rect x="468.9" y="306.28" width="7.7" height="7.56" fill="#f4a367"/>
<rect x="477.2" y="306.28" width="7.7" height="7.56" fill="#f0781e"/>
<rect x="410.8" y="314.44" width="7.7" height="7.56" fill="#a4add6"/>
<rect x="419.1" y="314.44" width="7.7" height="7.56" fill="#dfe0ee"/>
<rect x="427.4" y="314.44" width="7.7" height="7.56" fill="#b6bcdd"/>
<rect x="435.7" y="314.44" width="7.7" height="7.56" fill="#4c60b2"/>
<rect x="444" y="314.44" width="7.7" height="7.56" fill="#4c60b2"/>
<rect x="452.3" y="314.44" width="7.7" height="7.56" fill="#697abe"/>
<rect x="460.6" y="314.44" width="7.7" height="7.56" fill="#f4a367"/>
<rect x="468.9" y="314.44" width="7.7" height="7.56" fill="#f8cfb1"/>
<rect x="477.2" y="314.44" width="7.7" height="7.56" fill="#f0781e"/>
<rect x="410.8" y="322.6" width="7.7" height="7.56" fill="#697abe"/>
<rect x="419.1" y="322.6" width="7.7" height="7.56" fill="#b6bcdd"/>
<rect x="427.4" y="322.6" width="7.7" height="7.56" fill="#dfe0ee"/>
<rect x="435.7" y="322.6" width="7.7" height="7.56" fill="#4c60b2"/>
<rect x="444" y="322.6" width="7.7" height="7.56" fill="#4c60b2"/>
<rect x="452.3" y="322.6" width="7.7" height="7.56" fill="#697abe"/>
<rect x="460.6" y="322.6" width="7.7" height="7.56" fill="#f5ac76"/>
<rect x="468.9" y="322.6" width="7.7" height="7.56" fill="#f8cfb1"/>
<rect x="477.2" y="322.6" width="7.7" height="7.56" fill="#f0781e"/>
<rect x="410.8" y="330.76" width="7.7" height="7.56" fill="#4c60b2"/>
<rect x="419.1" y="330.76" width="7.7" height="7.56" fill="#8793ca"/>
<rect x="427.4" y="330.76" width="7.7" height="7.56" fill="#b6bcdd"/>
<rect x="435.7" y="330.76" width="7.7" height="7.56" fill="#4c60b2"/>
<rect x="444" y="330.76" width="7.7" height="7.56" fill="#697abe"/>
<rect x="452.3" y="330.76" width="7.7" height="7.56" fill="#c1c7e2"/>
<rect x="460.6" y="330.76" width="7.7" height="7.56" fill="#f0781e"/>
<rect x="468.9" y="330.76" width="7.7" height="7.56" fill="#f28e43"/>
<rect x="477.2" y="330.76" width="7.7" height="7.56" fill="#f0781e"/>
<rect x="410.8" y="338.92" width="7.7" height="7.56" fill="#a4add6"/>
<rect x="419.1" y="338.92" width="7.7" height="7.56" fill="#dfe0ee"/>
<rect x="427.4" y="338.92" width="7.7" height="7.56" fill="#f8cfb1"/>
<rect x="435.7" y="338.92" width="7.7" height="7.56" fill="#8793ca"/>
<rect x="444" y="338.92" width="7.7" height="7.56" fill="#cdd1e7"/>
<rect x="452.3" y="338.92" width="7.7" height="7.56" fill="#4c60b2"/>
<rect x="460.6" y="338.92" width="7.7" height="7.56" fill="#f0781e"/>
<rect x="468.9" y="338.92" width="7.7" height="7.56" fill="#f4a367"/>
<rect x="477.2" y="338.92" width="7.7" height="7.56" fill="#f28e43"/>
<rect x="410.8" y="347.08" width="7.7" height="7.56" fill="#f6b98c"/>
<rect x="419.1" y="347.08" width="7.7" height="7.56" fill="#a4add6"/>
<rect x="427.4" y="347.08" width="7.7" height="7.56" fill="#c1c7e2"/>
<rect x="435.7" y="347.08" width="7.7" height="7.56" fill="#8793ca"/>
<rect x="444" y="347.08" width="7.7" height="7.56" fill="#4c60b2"/>
<rect x="452.3" y="347.08" width="7.7" height="7.56" fill="#a4add6"/>
<rect x="460.6" y="347.08" width="7.7" height="7.56" fill="#f0781e"/>
<rect x="468.9" y="347.08" width="7.7" height="7.56" fill="#fcfafa"/>
<rect x="477.2" y="347.08" width="7.7" height="7.56" fill="#f0781e"/>
<rect x="410.8" y="355.24" width="7.7" height="7.56" fill="#a4add6"/>
<rect x="419.1" y="355.24" width="7.7" height="7.56" fill="#fcfafa"/>
<rect x="427.4" y="355.24" width="7.7" height="7.56" fill="#c1c7e2"/>
<rect x="435.7" y="355.24" width="7.7" height="7.56" fill="#697abe"/>
<rect x="444" y="355.24" width="7.7" height="7.56" fill="#4c60b2"/>
<rect x="452.3" y="355.24" width="7.7" height="7.56" fill="#8793ca"/>
<rect x="460.6" y="355.24" width="7.7" height="7.56" fill="#cdd1e7"/>
<rect x="468.9" y="355.24" width="7.7" height="7.56" fill="#fcfafa"/>
<rect x="477.2" y="355.24" width="7.7" height="7.56" fill="#f0781e"/>
<rect x="410.8" y="363.4" width="7.7" height="7.56" fill="#b6bcdd"/>
<rect x="419.1" y="363.4" width="7.7" height="7.56" fill="#fae4d5"/>
<rect x="427.4" y="363.4" width="7.7" height="7.56" fill="#cdd1e7"/>
<rect x="435.7" y="363.4" width="7.7" height="7.56" fill="#697abe"/>
<rect x="444" y="363.4" width="7.7" height="7.56" fill="#4c60b2"/>
<rect x="452.3" y="363.4" width="7.7" height="7.56" fill="#c1c7e2"/>
<rect x="460.6" y="363.4" width="7.7" height="7.56" fill="#eaebf3"/>
<rect x="468.9" y="363.4" width="7.7" height="7.56" fill="#f0781e"/>
<rect x="477.2" y="363.4" width="7.7" height="7.56" fill="#f8cfb1"/>
<rect x="410.8" y="371.56" width="7.7" height="7.56" fill="#f0781e"/>
<rect x="419.1" y="371.56" width="7.7" height="7.56" fill="#929ecf"/>
<rect x="427.4" y="371.56" width="7.7" height="7.56" fill="#f6b98c"/>
<rect x="435.7" y="371.56" width="7.7" height="7.56" fill="#f28e43"/>
<rect x="444" y="371.56" width="7.7" height="7.56" fill="#f8cfb1"/>
<rect x="452.3" y="371.56" width="7.7" height="7.56" fill="#f6b98c"/>
<rect x="460.6" y="371.56" width="7.7" height="7.56" fill="#4c60b2"/>
<rect x="468.9" y="371.56" width="7.7" height="7.56" fill="#697abe"/>
<rect x="477.2" y="371.56" width="7.7" height="7.56" fill="#f6b98c"/>
<rect x="410.8" y="379.72" width="7.7" height="7.56" fill="#dfe0ee"/>
<rect x="419.1" y="379.72" width="7.7" height="7.56" fill="#fcfafa"/>
<rect x="427.4" y="379.72" width="7.7" height="7.56" fill="#f8cfb1"/>
<rect x="435.7" y="379.72" width="7.7" height="7.56" fill="#f28e43"/>
<rect x="444" y="379.72" width="7.7" height="7.56" fill="#fcfafa"/>
<rect x="452.3" y="379.72" width="7.7" height="7.56" fill="#f0781e"/>
<rect x="460.6" y="379.72" width="7.7" height="7.56" fill="#a4add6"/>
<rect x="468.9" y="379.72" width="7.7" height="7.56" fill="#8793ca"/>
<rect x="477.2" y="379.72" width="7.7" height="7.56" fill="#4c60b2"/>
<rect x="410.8" y="387.88" width="7.7" height="7.56" fill="#fbede4"/>
<rect x="419.1" y="387.88" width="7.7" height="7.56" fill="#fbede4"/>
<rect x="427.4" y="387.88" width="7.7" height="7.56" fill="#fbede4"/>
<rect x="435.7" y="387.88" width="7.7" height="7.56" fill="#f0781e"/>
<rect x="444" y="387.88" width="7.7" height="7.56" fill="#f7c6a2"/>
<rect x="452.3" y="387.88" width="7.7" height="7.56" fill="#f6b98c"/>
<rect x="460.6" y="387.88" width="7.7" height="7.56" fill="#8793ca"/>
<rect x="468.9" y="387.88" width="7.7" height="7.56" fill="#697abe"/>
<rect x="477.2" y="387.88" width="7.7" height="7.56" fill="#8793ca"/>
<rect x="410.8" y="396.04" width="7.7" height="7.56" fill="#f8cfb1"/>
<rect x="419.1" y="396.04" width="7.7" height="7.56" fill="#eaebf3"/>
<rect x="427.4" y="396.04" width="7.7" height="7.56" fill="#f6b98c"/>
<rect x="435.7" y="396.04" width="7.7" height="7.56" fill="#f0781e"/>
<rect x="444" y="396.04" width="7.7" height="7.56" fill="#f6b98c"/>
<rect x="452.3" y="396.04" width="7.7" height="7.56" fill="#f8cfb1"/>
<rect x="460.6" y="396.04" width="7.7" height="7.56" fill="#8793ca"/>
<rect x="468.9" y="396.04" width="7.7" height="7.56" fill="#4c60b2"/>
<rect x="477.2" y="396.04" width="7.7" height="7.56" fill="#8793ca"/>
<rect x="410.8" y="404.2" width="7.7" height="7.56" fill="#fcfafa"/>
<rect x="419.1" y="404.2" width="7.7" height="7.56" fill="#f39b59"/>
<rect x="427.4" y="404.2" width="7.7" height="7.56" fill="#f6b98c"/>
<rect x="435.7" y="404.2" width="7.7" height="7.56" fill="#eaebf3"/>
<rect x="444" y="404.2" width="7.7" height="7.56" fill="#f0781e"/>
<rect x="452.3" y="404.2" width="7.7" height="7.56" fill="#fcfafa"/>
<rect x="460.6" y="404.2" width="7.7" height="7.56" fill="#4c60b2"/>
<rect x="468.9" y="404.2" width="7.7" height="7.56" fill="#8793ca"/>
<rect x="477.2" y="404.2" width="7.7" height="7.56" fill="#4c60b2"/>
<rect x="410.8" y="412.36" width="7.7" height="7.56" fill="#cdd1e7"/>
<rect x="419.1" y="412.36" width="7.7" height="7.56" fill="#fae4d5"/>
<rect x="427.4" y="412.36" width="7.7" height="7.56" fill="#fae4d5"/>
<rect x="435.7" y="412.36" width="7.7" height="7.56" fill="#f8cfb1"/>
<rect x="444" y="412.36" width="7.7" height="7.56" fill="#f0781e"/>
<rect x="452.3" y="412.36" width="7.7" height="7.56" fill="#f7c6a2"/>
<rect x="460.6" y="412.36" width="7.7" height="7.56" fill="#4c60b2"/>
<rect x="468.9" y="412.36" width="7.7" height="7.56" fill="#8793ca"/>
<rect x="477.2" y="412.36" width="7.7" height="7.56" fill="#4c60b2"/>
<rect x="410.8" y="420.52" width="7.7" height="7.56" fill="#f6b98c"/>
<rect x="419.1" y="420.52" width="7.7" height="7.56" fill="#f8cfb1"/>
<rect x="427.4" y="420.52" width="7.7" height="7.56" fill="#f8cfb1"/>
<rect x="435.7" y="420.52" width="7.7" height="7.56" fill="#f4a367"/>
<rect x="444" y="420.52" width="7.7" height="7.56" fill="#f0781e"/>
<rect x="452.3" y="420.52" width="7.7" height="7.56" fill="#f6b98c"/>
<rect x="460.6" y="420.52" width="7.7" height="7.56" fill="#4c60b2"/>
<rect x="468.9" y="420.52" width="7.7" height="7.56" fill="#8793ca"/>
<rect x="477.2" y="420.52" width="7.7" height="7.56" fill="#4c60b2"/>
<rect x="410.8" y="428.68" width="7.7" height="7.56" fill="#f6b98c"/>
<rect x="419.1" y="428.68" width="7.7" height="7.56" fill="#f6b98c"/>
<rect x="427.4" y="428.68" width="7.7" height="7.56" fill="#f5ac76"/>
<rect x="435.7" y="428.68" width="7.7" height="7.56" fill="#f4a367"/>
<rect x="444" y="428.68" width="7.7" height="7.56" fill="#f39b59"/>
<rect x="452.3" y="428.68" width="7.7" height="7.56" fill="#f0781e"/>
<rect x="460.6" y="428.68" width="7.7" height="7.56" fill="#4c60b2"/>
<rect x="468.9" y="428.68" width="7.7" height="7.56" fill="#697abe"/>
<rect x="477.2" y="428.68" width="7.7" height="7.56" fill="#697abe"/>
</g>
<rect x="410.8" y="200" width="74.1" height="235.9" fill="none" stroke="#8c8c8c" stroke-width="1"/>
<text x="486.9" y="205.4" font-size="6.3" font-style="italic" class="l">Fzd7</text>
<text x="486.9" y="213.55" font-size="6.3" font-style="italic" class="l">Hoxa10</text>
<text x="486.9" y="221.69" font-size="6.3" font-style="italic" class="l">Cdk14</text>
<text x="486.9" y="229.84" font-size="6.3" font-style="italic" class="l">Hoxb3</text>
<text x="486.9" y="237.98" font-size="6.3" font-style="italic" class="l">Fzd3</text>
<text x="486.9" y="246.12" font-size="6.3" font-style="italic" class="l">Angpt1</text>
<text x="486.9" y="254.27" font-size="6.3" font-style="italic" class="l">Gata1</text>
<text x="486.9" y="262.42" font-size="6.3" font-style="italic" class="l">Sox6</text>
<text x="486.9" y="270.56" font-size="6.3" font-style="italic" class="l">Cdkn1c</text>
<text x="486.9" y="278.7" font-size="6.3" font-style="italic" class="l">Prkcq</text>
<text x="486.9" y="286.85" font-size="6.3" font-style="italic" class="l">Gata2</text>
<text x="486.9" y="295" font-size="6.3" font-style="italic" class="l">Fzd8</text>
<text x="486.9" y="303.14" font-size="6.3" font-style="italic" class="l">Gata3</text>
<text x="486.9" y="311.28" font-size="6.3" font-style="italic" class="l">Myct1</text>
<text x="486.9" y="319.43" font-size="6.3" font-style="italic" class="l">Mycn</text>
<text x="486.9" y="327.57" font-size="6.3" font-style="italic" class="l">Prkch</text>
<text x="486.9" y="335.72" font-size="6.3" font-style="italic" class="l">Notch3</text>
<text x="486.9" y="343.87" font-size="6.3" font-style="italic" class="l">Hoxb4</text>
<text x="486.9" y="352.01" font-size="6.3" font-style="italic" class="l">Prkca</text>
<text x="486.9" y="360.15" font-size="6.3" font-style="italic" class="l">Tgfbr3</text>
<text x="486.9" y="368.3" font-size="6.3" font-style="italic" class="l">Tcf7</text>
<text x="486.9" y="376.44" font-size="6.3" font-style="italic" class="l">Map4k4</text>
<text x="486.9" y="384.59" font-size="6.3" font-style="italic" class="l">Egfl7</text>
<text x="486.9" y="392.74" font-size="6.3" font-style="italic" class="l">P2rx7</text>
<text x="486.9" y="400.88" font-size="6.3" font-style="italic" class="l">Tcf4</text>
<text x="486.9" y="409.02" font-size="6.3" font-style="italic" class="l">Hoxa9</text>
<text x="486.9" y="417.17" font-size="6.3" font-style="italic" class="l">Pld4</text>
<text x="486.9" y="425.31" font-size="6.3" font-style="italic" class="l">Notch1</text>
<text x="486.9" y="433.46" font-size="6.3" font-style="italic" class="l">Sox4</text>
<text x="423.3" y="187.3" font-size="6.4" text-anchor="middle" textLength="20.6" lengthAdjust="spacingAndGlyphs">34<tspan font-size="4.5" dy="-2.8">–</tspan><tspan dy="2.8">KSL</tspan></text>
<text x="449" y="178.7" font-size="6.4" text-anchor="middle" textLength="16.6" lengthAdjust="spacingAndGlyphs">Sdc2<tspan font-size="4.5" dy="-2.8">–</tspan></text>
<text x="449" y="186.4" font-size="6.4" text-anchor="middle" textLength="15.1" lengthAdjust="spacingAndGlyphs">HSCs</text>
<text x="474.1" y="178.7" font-size="6.4" text-anchor="middle" textLength="16.6" lengthAdjust="spacingAndGlyphs">Sdc2<tspan font-size="4.5" dy="-2.8">+</tspan></text>
<text x="474.1" y="186.4" font-size="6.4" text-anchor="middle" textLength="15.1" lengthAdjust="spacingAndGlyphs">HSCs</text>
<line x1="412" y1="190" x2="434.9" y2="190" stroke="#888" stroke-width="1.1"/>
<line x1="438.7" y1="190" x2="459.4" y2="190" stroke="#888" stroke-width="1.1"/>
<line x1="463.7" y1="190" x2="484.5" y2="190" stroke="#888" stroke-width="1.1"/>
<text x="414.65" y="197" font-size="6.3" text-anchor="middle">1</text>
<text x="422.95" y="197" font-size="6.3" text-anchor="middle">2</text>
<text x="431.25" y="197" font-size="6.3" text-anchor="middle">3</text>
<text x="439.55" y="197" font-size="6.3" text-anchor="middle">1</text>
<text x="447.85" y="197" font-size="6.3" text-anchor="middle">2</text>
<text x="456.15" y="197" font-size="6.3" text-anchor="middle">3</text>
<text x="464.45" y="197" font-size="6.3" text-anchor="middle">1</text>
<text x="472.75" y="197" font-size="6.3" text-anchor="middle">2</text>
<text x="481.05" y="197" font-size="6.3" text-anchor="middle">3</text>
<text x="450.4" y="443" font-size="6.4" text-anchor="middle" textLength="30.4" lengthAdjust="spacingAndGlyphs">Expression</text>
<text x="449.8" y="450.2" font-size="6.4" text-anchor="middle" textLength="64" lengthAdjust="spacingAndGlyphs">(relative to max reads)</text>
<text x="396.7" y="458.8" font-size="6.4" textLength="28.5" lengthAdjust="spacingAndGlyphs">Min reads</text>
<text x="477.5" y="458.8" font-size="6.4" textLength="29.6" lengthAdjust="spacingAndGlyphs">Max reads</text>
<defs><linearGradient id="gO" x1="0" x2="1" y1="0" y2="0"><stop offset="0" stop-color="#26358f"/><stop offset="0.5" stop-color="#ffffff"/><stop offset="1" stop-color="#f07a1c"/></linearGradient></defs>
<rect x="427.9" y="454.6" width="47.7" height="2.8" fill="url(#gO)"/>
<text x="428.5" y="465.8" font-size="6.4" text-anchor="middle">0</text>
<text x="474.2" y="465.8" font-size="6.4" text-anchor="middle">1</text>
<rect x="0.5" y="0.5" width="519" height="501" fill="none" stroke="#111" stroke-width="1.1"/>
</svg></body></html>
